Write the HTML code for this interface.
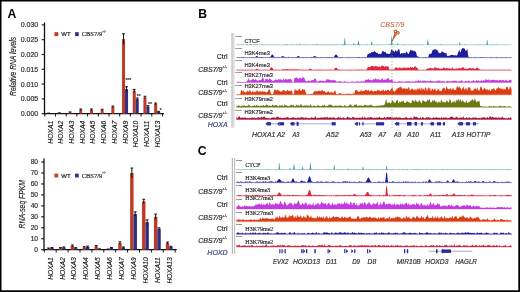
<!DOCTYPE html>
<html><head><meta charset="utf-8"><style>
html,body{margin:0;padding:0;background:#fff;}
body{width:520px;height:292px;overflow:hidden;}
svg{display:block;filter:blur(0.3px);}
</style></head><body>
<svg width="520" height="292" viewBox="0 0 520 292">
<rect width="520" height="292" fill="#fff"/>
<line x1="44.5" y1="22.5" x2="44.5" y2="114.3" stroke="#111" stroke-width="1.3"/>
<line x1="43.9" y1="113.7" x2="164.0" y2="113.7" stroke="#111" stroke-width="1.3"/>
<line x1="41.7" y1="113.7" x2="44.5" y2="113.7" stroke="#111" stroke-width="1.1"/>
<text x="38.2" y="116.22" font-size="7.0" fill="#333" text-anchor="end" font-family='"Liberation Sans", sans-serif' stroke="#333" stroke-width="0.2" >0.000</text>
<line x1="41.7" y1="98.9" x2="44.5" y2="98.9" stroke="#111" stroke-width="1.1"/>
<text x="38.2" y="101.42" font-size="7.0" fill="#333" text-anchor="end" font-family='"Liberation Sans", sans-serif' stroke="#333" stroke-width="0.2" >0.005</text>
<line x1="41.7" y1="84.1" x2="44.5" y2="84.1" stroke="#111" stroke-width="1.1"/>
<text x="38.2" y="86.61999999999999" font-size="7.0" fill="#333" text-anchor="end" font-family='"Liberation Sans", sans-serif' stroke="#333" stroke-width="0.2" >0.010</text>
<line x1="41.7" y1="69.30000000000001" x2="44.5" y2="69.30000000000001" stroke="#111" stroke-width="1.1"/>
<text x="38.2" y="71.82000000000001" font-size="7.0" fill="#333" text-anchor="end" font-family='"Liberation Sans", sans-serif' stroke="#333" stroke-width="0.2" >0.015</text>
<line x1="41.7" y1="54.5" x2="44.5" y2="54.5" stroke="#111" stroke-width="1.1"/>
<text x="38.2" y="57.02" font-size="7.0" fill="#333" text-anchor="end" font-family='"Liberation Sans", sans-serif' stroke="#333" stroke-width="0.2" >0.020</text>
<line x1="41.7" y1="39.7" x2="44.5" y2="39.7" stroke="#111" stroke-width="1.1"/>
<text x="38.2" y="42.220000000000006" font-size="7.0" fill="#333" text-anchor="end" font-family='"Liberation Sans", sans-serif' stroke="#333" stroke-width="0.2" >0.025</text>
<line x1="41.7" y1="24.900000000000006" x2="44.5" y2="24.900000000000006" stroke="#111" stroke-width="1.1"/>
<text x="38.2" y="27.420000000000005" font-size="7.0" fill="#333" text-anchor="end" font-family='"Liberation Sans", sans-serif' stroke="#333" stroke-width="0.2" >0.030</text>
<line x1="44.8" y1="113.7" x2="44.8" y2="116.5" stroke="#111" stroke-width="1"/>
<line x1="55.5" y1="113.7" x2="55.5" y2="116.5" stroke="#111" stroke-width="1"/>
<line x1="66.19999999999999" y1="113.7" x2="66.19999999999999" y2="116.5" stroke="#111" stroke-width="1"/>
<line x1="76.89999999999999" y1="113.7" x2="76.89999999999999" y2="116.5" stroke="#111" stroke-width="1"/>
<line x1="87.6" y1="113.7" x2="87.6" y2="116.5" stroke="#111" stroke-width="1"/>
<line x1="98.3" y1="113.7" x2="98.3" y2="116.5" stroke="#111" stroke-width="1"/>
<line x1="108.99999999999999" y1="113.7" x2="108.99999999999999" y2="116.5" stroke="#111" stroke-width="1"/>
<line x1="119.69999999999999" y1="113.7" x2="119.69999999999999" y2="116.5" stroke="#111" stroke-width="1"/>
<line x1="130.39999999999998" y1="113.7" x2="130.39999999999998" y2="116.5" stroke="#111" stroke-width="1"/>
<line x1="141.1" y1="113.7" x2="141.1" y2="116.5" stroke="#111" stroke-width="1"/>
<line x1="151.8" y1="113.7" x2="151.8" y2="116.5" stroke="#111" stroke-width="1"/>
<line x1="162.5" y1="113.7" x2="162.5" y2="116.5" stroke="#111" stroke-width="1"/>
<rect x="47.15" y="113.40" width="3.0" height="0.30" fill="#bf3a22"/>
<line x1="48.65" y1="113.11" x2="48.65" y2="113.70" stroke="#111" stroke-width="1.0"/>
<line x1="47.25" y1="113.11" x2="50.05" y2="113.11" stroke="#111" stroke-width="1.0"/>
<text transform="translate(52.60,120.6) rotate(-90)" font-size="6.8" fill="#111" stroke="#111" stroke-width="0.12" text-anchor="end" font-family='"Liberation Sans", sans-serif' font-style="italic">HOXA1</text>
<rect x="57.85" y="113.11" width="3.0" height="0.59" fill="#bf3a22"/>
<line x1="59.35" y1="112.81" x2="59.35" y2="113.40" stroke="#111" stroke-width="1.0"/>
<line x1="57.95" y1="112.81" x2="60.75" y2="112.81" stroke="#111" stroke-width="1.0"/>
<rect x="60.85" y="113.40" width="3.0" height="0.30" fill="#2b2f88"/>
<text transform="translate(63.30,120.6) rotate(-90)" font-size="6.8" fill="#111" stroke="#111" stroke-width="0.12" text-anchor="end" font-family='"Liberation Sans", sans-serif' font-style="italic">HOXA2</text>
<rect x="68.55" y="112.52" width="3.0" height="1.18" fill="#bf3a22"/>
<line x1="70.05" y1="111.92" x2="70.05" y2="113.11" stroke="#111" stroke-width="1.0"/>
<line x1="68.65" y1="111.92" x2="71.45" y2="111.92" stroke="#111" stroke-width="1.0"/>
<rect x="71.55" y="113.40" width="3.0" height="0.30" fill="#2b2f88"/>
<text transform="translate(74.00,120.6) rotate(-90)" font-size="6.8" fill="#111" stroke="#111" stroke-width="0.12" text-anchor="end" font-family='"Liberation Sans", sans-serif' font-style="italic">HOXA3</text>
<rect x="79.25" y="109.85" width="3.0" height="3.85" fill="#bf3a22"/>
<line x1="80.75" y1="108.96" x2="80.75" y2="110.74" stroke="#111" stroke-width="1.0"/>
<line x1="79.35" y1="108.96" x2="82.15" y2="108.96" stroke="#111" stroke-width="1.0"/>
<rect x="82.25" y="113.40" width="3.0" height="0.30" fill="#2b2f88"/>
<text transform="translate(84.70,120.6) rotate(-90)" font-size="6.8" fill="#111" stroke="#111" stroke-width="0.12" text-anchor="end" font-family='"Liberation Sans", sans-serif' font-style="italic">HOXA4</text>
<rect x="89.95" y="109.85" width="3.0" height="3.85" fill="#bf3a22"/>
<line x1="91.45" y1="108.96" x2="91.45" y2="110.74" stroke="#111" stroke-width="1.0"/>
<line x1="90.05" y1="108.96" x2="92.85" y2="108.96" stroke="#111" stroke-width="1.0"/>
<rect x="92.95" y="113.40" width="3.0" height="0.30" fill="#2b2f88"/>
<text transform="translate(95.40,120.6) rotate(-90)" font-size="6.8" fill="#111" stroke="#111" stroke-width="0.12" text-anchor="end" font-family='"Liberation Sans", sans-serif' font-style="italic">HOXA5</text>
<rect x="100.65" y="110.15" width="3.0" height="3.55" fill="#bf3a22"/>
<line x1="102.15" y1="109.26" x2="102.15" y2="111.04" stroke="#111" stroke-width="1.0"/>
<line x1="100.75" y1="109.26" x2="103.55" y2="109.26" stroke="#111" stroke-width="1.0"/>
<text transform="translate(106.10,120.6) rotate(-90)" font-size="6.8" fill="#111" stroke="#111" stroke-width="0.12" text-anchor="end" font-family='"Liberation Sans", sans-serif' font-style="italic">HOXA6</text>
<rect x="111.35" y="106.89" width="3.0" height="6.81" fill="#bf3a22"/>
<line x1="112.85" y1="106.00" x2="112.85" y2="107.78" stroke="#111" stroke-width="1.0"/>
<line x1="111.45" y1="106.00" x2="114.25" y2="106.00" stroke="#111" stroke-width="1.0"/>
<rect x="114.35" y="113.11" width="3.0" height="0.59" fill="#2b2f88"/>
<text transform="translate(116.80,120.6) rotate(-90)" font-size="6.8" fill="#111" stroke="#111" stroke-width="0.12" text-anchor="end" font-family='"Liberation Sans", sans-serif' font-style="italic">HOXA7</text>
<rect x="122.05" y="39.11" width="3.0" height="74.59" fill="#bf3a22"/>
<line x1="123.55" y1="33.78" x2="123.55" y2="44.44" stroke="#111" stroke-width="1.0"/>
<line x1="122.15" y1="33.78" x2="124.95" y2="33.78" stroke="#111" stroke-width="1.0"/>
<rect x="125.05" y="89.13" width="3.0" height="24.57" fill="#2b2f88"/>
<line x1="126.55" y1="86.76" x2="126.55" y2="91.50" stroke="#111" stroke-width="1.0"/>
<line x1="125.15" y1="86.76" x2="127.95" y2="86.76" stroke="#111" stroke-width="1.0"/>
<text transform="translate(127.50,120.6) rotate(-90)" font-size="6.8" fill="#111" stroke="#111" stroke-width="0.12" text-anchor="end" font-family='"Liberation Sans", sans-serif' font-style="italic">HOXA9</text>
<rect x="132.75" y="90.91" width="3.0" height="22.79" fill="#bf3a22"/>
<line x1="134.25" y1="89.43" x2="134.25" y2="92.39" stroke="#111" stroke-width="1.0"/>
<line x1="132.85" y1="89.43" x2="135.65" y2="89.43" stroke="#111" stroke-width="1.0"/>
<rect x="135.75" y="99.20" width="3.0" height="14.50" fill="#2b2f88"/>
<line x1="137.25" y1="98.01" x2="137.25" y2="100.38" stroke="#111" stroke-width="1.0"/>
<line x1="135.85" y1="98.01" x2="138.65" y2="98.01" stroke="#111" stroke-width="1.0"/>
<text transform="translate(138.20,120.6) rotate(-90)" font-size="6.8" fill="#111" stroke="#111" stroke-width="0.12" text-anchor="end" font-family='"Liberation Sans", sans-serif' font-style="italic">HOXA10</text>
<rect x="143.45" y="97.42" width="3.0" height="16.28" fill="#bf3a22"/>
<line x1="144.95" y1="96.24" x2="144.95" y2="98.60" stroke="#111" stroke-width="1.0"/>
<line x1="143.55" y1="96.24" x2="146.35" y2="96.24" stroke="#111" stroke-width="1.0"/>
<rect x="146.45" y="106.60" width="3.0" height="7.10" fill="#2b2f88"/>
<line x1="147.95" y1="105.71" x2="147.95" y2="107.48" stroke="#111" stroke-width="1.0"/>
<line x1="146.55" y1="105.71" x2="149.35" y2="105.71" stroke="#111" stroke-width="1.0"/>
<text transform="translate(148.90,120.6) rotate(-90)" font-size="6.8" fill="#111" stroke="#111" stroke-width="0.12" text-anchor="end" font-family='"Liberation Sans", sans-serif' font-style="italic">HOXA11</text>
<rect x="154.15" y="103.93" width="3.0" height="9.77" fill="#bf3a22"/>
<line x1="155.65" y1="103.04" x2="155.65" y2="104.82" stroke="#111" stroke-width="1.0"/>
<line x1="154.25" y1="103.04" x2="157.05" y2="103.04" stroke="#111" stroke-width="1.0"/>
<rect x="157.15" y="111.92" width="3.0" height="1.78" fill="#2b2f88"/>
<line x1="158.65" y1="111.33" x2="158.65" y2="112.52" stroke="#111" stroke-width="1.0"/>
<line x1="157.25" y1="111.33" x2="160.05" y2="111.33" stroke="#111" stroke-width="1.0"/>
<text transform="translate(159.60,120.6) rotate(-90)" font-size="6.8" fill="#111" stroke="#111" stroke-width="0.12" text-anchor="end" font-family='"Liberation Sans", sans-serif' font-style="italic">HOXA13</text>
<text transform="translate(16.3,66.4) rotate(-90)" font-size="8.8" fill="#222" stroke="#222" stroke-width="0.15" text-anchor="middle" font-family='"Liberation Sans", sans-serif' font-style="italic" textLength="59.0" lengthAdjust="spacingAndGlyphs">Relative RNA levels</text>
<rect x="54.4" y="32.2" width="3.9" height="3.9" fill="#bf3a22"/>
<text x="61.3" y="36.1" font-size="6.0" fill="#222" text-anchor="start" font-family='"Liberation Sans", sans-serif' stroke="#222" stroke-width="0.2" >WT</text>
<rect x="75.1" y="32.2" width="3.6" height="3.9" fill="#2b2f88"/>
<text x="81.7" y="36.2" font-size="6.3" fill="#333" text-anchor="start" font-family='"Liberation Serif", serif' stroke="#333" stroke-width="0.2" textLength="20.5" lengthAdjust="spacingAndGlyphs">CBS7/9</text>
<text x="102.0" y="32.6" font-size="3.5" fill="#555" text-anchor="start" font-family='"Liberation Serif", serif' stroke="#555" stroke-width="0.2" >+/-</text>
<text x="125.4" y="81.5" font-size="5.0" fill="#333" text-anchor="start" font-family='"Liberation Sans", sans-serif' stroke="#333" stroke-width="0.2" >***</text>
<text x="136.8" y="97.6" font-size="5.0" fill="#333" text-anchor="start" font-family='"Liberation Sans", sans-serif' stroke="#333" stroke-width="0.2" >**</text>
<text x="148.0" y="105.8" font-size="5.0" fill="#333" text-anchor="start" font-family='"Liberation Sans", sans-serif' stroke="#333" stroke-width="0.2" >**</text>
<text x="159.8" y="112.0" font-size="5.0" fill="#333" text-anchor="start" font-family='"Liberation Sans", sans-serif' stroke="#333" stroke-width="0.2" >*</text>
<line x1="44.0" y1="158.6" x2="44.0" y2="250.29999999999998" stroke="#111" stroke-width="1.3"/>
<line x1="43.4" y1="249.7" x2="176.7" y2="249.7" stroke="#111" stroke-width="1.3"/>
<line x1="41.2" y1="249.7" x2="44.0" y2="249.7" stroke="#111" stroke-width="1.1"/>
<text x="38.0" y="252.076" font-size="6.6" fill="#333" text-anchor="end" font-family='"Liberation Sans", sans-serif' stroke="#333" stroke-width="0.2" >0</text>
<line x1="41.2" y1="238.73999999999998" x2="44.0" y2="238.73999999999998" stroke="#111" stroke-width="1.1"/>
<text x="38.0" y="241.11599999999999" font-size="6.6" fill="#333" text-anchor="end" font-family='"Liberation Sans", sans-serif' stroke="#333" stroke-width="0.2" >10</text>
<line x1="41.2" y1="227.77999999999997" x2="44.0" y2="227.77999999999997" stroke="#111" stroke-width="1.1"/>
<text x="38.0" y="230.15599999999998" font-size="6.6" fill="#333" text-anchor="end" font-family='"Liberation Sans", sans-serif' stroke="#333" stroke-width="0.2" >20</text>
<line x1="41.2" y1="216.82" x2="44.0" y2="216.82" stroke="#111" stroke-width="1.1"/>
<text x="38.0" y="219.196" font-size="6.6" fill="#333" text-anchor="end" font-family='"Liberation Sans", sans-serif' stroke="#333" stroke-width="0.2" >30</text>
<line x1="41.2" y1="205.85999999999999" x2="44.0" y2="205.85999999999999" stroke="#111" stroke-width="1.1"/>
<text x="38.0" y="208.236" font-size="6.6" fill="#333" text-anchor="end" font-family='"Liberation Sans", sans-serif' stroke="#333" stroke-width="0.2" >40</text>
<line x1="41.2" y1="194.89999999999998" x2="44.0" y2="194.89999999999998" stroke="#111" stroke-width="1.1"/>
<text x="38.0" y="197.27599999999998" font-size="6.6" fill="#333" text-anchor="end" font-family='"Liberation Sans", sans-serif' stroke="#333" stroke-width="0.2" >50</text>
<line x1="41.2" y1="183.94" x2="44.0" y2="183.94" stroke="#111" stroke-width="1.1"/>
<text x="38.0" y="186.316" font-size="6.6" fill="#333" text-anchor="end" font-family='"Liberation Sans", sans-serif' stroke="#333" stroke-width="0.2" >60</text>
<line x1="41.2" y1="172.98" x2="44.0" y2="172.98" stroke="#111" stroke-width="1.1"/>
<text x="38.0" y="175.356" font-size="6.6" fill="#333" text-anchor="end" font-family='"Liberation Sans", sans-serif' stroke="#333" stroke-width="0.2" >70</text>
<line x1="41.2" y1="162.01999999999998" x2="44.0" y2="162.01999999999998" stroke="#111" stroke-width="1.1"/>
<text x="38.0" y="164.396" font-size="6.6" fill="#333" text-anchor="end" font-family='"Liberation Sans", sans-serif' stroke="#333" stroke-width="0.2" >80</text>
<line x1="44.3" y1="249.7" x2="44.3" y2="252.5" stroke="#111" stroke-width="1"/>
<line x1="56.199999999999996" y1="249.7" x2="56.199999999999996" y2="252.5" stroke="#111" stroke-width="1"/>
<line x1="68.1" y1="249.7" x2="68.1" y2="252.5" stroke="#111" stroke-width="1"/>
<line x1="80.0" y1="249.7" x2="80.0" y2="252.5" stroke="#111" stroke-width="1"/>
<line x1="91.9" y1="249.7" x2="91.9" y2="252.5" stroke="#111" stroke-width="1"/>
<line x1="103.8" y1="249.7" x2="103.8" y2="252.5" stroke="#111" stroke-width="1"/>
<line x1="115.7" y1="249.7" x2="115.7" y2="252.5" stroke="#111" stroke-width="1"/>
<line x1="127.6" y1="249.7" x2="127.6" y2="252.5" stroke="#111" stroke-width="1"/>
<line x1="139.5" y1="249.7" x2="139.5" y2="252.5" stroke="#111" stroke-width="1"/>
<line x1="151.4" y1="249.7" x2="151.4" y2="252.5" stroke="#111" stroke-width="1"/>
<line x1="163.3" y1="249.7" x2="163.3" y2="252.5" stroke="#111" stroke-width="1"/>
<line x1="175.2" y1="249.7" x2="175.2" y2="252.5" stroke="#111" stroke-width="1"/>
<rect x="46.85" y="248.60" width="3.4" height="1.10" fill="#bf3a22"/>
<line x1="48.55" y1="248.06" x2="48.55" y2="249.15" stroke="#111" stroke-width="1.0"/>
<line x1="47.15" y1="248.06" x2="49.95" y2="248.06" stroke="#111" stroke-width="1.0"/>
<rect x="50.25" y="248.06" width="3.4" height="1.64" fill="#2b2f88"/>
<line x1="51.95" y1="247.51" x2="51.95" y2="248.60" stroke="#111" stroke-width="1.0"/>
<line x1="50.55" y1="247.51" x2="53.35" y2="247.51" stroke="#111" stroke-width="1.0"/>
<text transform="translate(52.66,257.2) rotate(-90)" font-size="6.7" fill="#111" stroke="#111" stroke-width="0.12" text-anchor="end" font-family='"Liberation Sans", sans-serif' font-style="italic">HOXA1</text>
<rect x="58.75" y="248.17" width="3.4" height="1.53" fill="#bf3a22"/>
<line x1="60.45" y1="247.62" x2="60.45" y2="248.71" stroke="#111" stroke-width="1.0"/>
<line x1="59.05" y1="247.62" x2="61.85" y2="247.62" stroke="#111" stroke-width="1.0"/>
<rect x="62.15" y="247.51" width="3.4" height="2.19" fill="#2b2f88"/>
<line x1="63.85" y1="246.96" x2="63.85" y2="248.06" stroke="#111" stroke-width="1.0"/>
<line x1="62.45" y1="246.96" x2="65.25" y2="246.96" stroke="#111" stroke-width="1.0"/>
<text transform="translate(64.56,257.2) rotate(-90)" font-size="6.7" fill="#111" stroke="#111" stroke-width="0.12" text-anchor="end" font-family='"Liberation Sans", sans-serif' font-style="italic">HOXA2</text>
<rect x="70.65" y="245.86" width="3.4" height="3.84" fill="#bf3a22"/>
<line x1="72.35" y1="244.99" x2="72.35" y2="246.74" stroke="#111" stroke-width="1.0"/>
<line x1="70.95" y1="244.99" x2="73.75" y2="244.99" stroke="#111" stroke-width="1.0"/>
<rect x="74.05" y="248.17" width="3.4" height="1.53" fill="#2b2f88"/>
<line x1="75.75" y1="247.62" x2="75.75" y2="248.71" stroke="#111" stroke-width="1.0"/>
<line x1="74.35" y1="247.62" x2="77.15" y2="247.62" stroke="#111" stroke-width="1.0"/>
<text transform="translate(76.46,257.2) rotate(-90)" font-size="6.7" fill="#111" stroke="#111" stroke-width="0.12" text-anchor="end" font-family='"Liberation Sans", sans-serif' font-style="italic">HOXA3</text>
<rect x="82.55" y="247.51" width="3.4" height="2.19" fill="#bf3a22"/>
<line x1="84.25" y1="246.74" x2="84.25" y2="248.28" stroke="#111" stroke-width="1.0"/>
<line x1="82.85" y1="246.74" x2="85.65" y2="246.74" stroke="#111" stroke-width="1.0"/>
<rect x="85.95" y="246.96" width="3.4" height="2.74" fill="#2b2f88"/>
<line x1="87.65" y1="246.08" x2="87.65" y2="247.84" stroke="#111" stroke-width="1.0"/>
<line x1="86.25" y1="246.08" x2="89.05" y2="246.08" stroke="#111" stroke-width="1.0"/>
<text transform="translate(88.36,257.2) rotate(-90)" font-size="6.7" fill="#111" stroke="#111" stroke-width="0.12" text-anchor="end" font-family='"Liberation Sans", sans-serif' font-style="italic">HOXA4</text>
<rect x="94.45" y="246.41" width="3.4" height="3.29" fill="#bf3a22"/>
<line x1="96.15" y1="245.64" x2="96.15" y2="247.18" stroke="#111" stroke-width="1.0"/>
<line x1="94.75" y1="245.64" x2="97.55" y2="245.64" stroke="#111" stroke-width="1.0"/>
<rect x="97.85" y="249.15" width="3.4" height="0.55" fill="#2b2f88"/>
<line x1="99.55" y1="248.82" x2="99.55" y2="249.48" stroke="#111" stroke-width="1.0"/>
<line x1="98.15" y1="248.82" x2="100.95" y2="248.82" stroke="#111" stroke-width="1.0"/>
<text transform="translate(100.26,257.2) rotate(-90)" font-size="6.7" fill="#111" stroke="#111" stroke-width="0.12" text-anchor="end" font-family='"Liberation Sans", sans-serif' font-style="italic">HOXA5</text>
<rect x="106.35" y="249.37" width="3.4" height="0.33" fill="#bf3a22"/>
<line x1="108.05" y1="249.04" x2="108.05" y2="249.70" stroke="#111" stroke-width="1.0"/>
<line x1="106.65" y1="249.04" x2="109.45" y2="249.04" stroke="#111" stroke-width="1.0"/>
<rect x="109.75" y="248.06" width="3.4" height="1.64" fill="#2b2f88"/>
<line x1="111.45" y1="247.51" x2="111.45" y2="248.60" stroke="#111" stroke-width="1.0"/>
<line x1="110.05" y1="247.51" x2="112.85" y2="247.51" stroke="#111" stroke-width="1.0"/>
<text transform="translate(112.16,257.2) rotate(-90)" font-size="6.7" fill="#111" stroke="#111" stroke-width="0.12" text-anchor="end" font-family='"Liberation Sans", sans-serif' font-style="italic">HOXA6</text>
<rect x="118.25" y="243.12" width="3.4" height="6.58" fill="#bf3a22"/>
<line x1="119.95" y1="241.81" x2="119.95" y2="244.44" stroke="#111" stroke-width="1.0"/>
<line x1="118.55" y1="241.81" x2="121.35" y2="241.81" stroke="#111" stroke-width="1.0"/>
<rect x="121.65" y="247.51" width="3.4" height="2.19" fill="#2b2f88"/>
<line x1="123.35" y1="246.96" x2="123.35" y2="248.06" stroke="#111" stroke-width="1.0"/>
<line x1="121.95" y1="246.96" x2="124.75" y2="246.96" stroke="#111" stroke-width="1.0"/>
<text transform="translate(124.06,257.2) rotate(-90)" font-size="6.7" fill="#111" stroke="#111" stroke-width="0.12" text-anchor="end" font-family='"Liberation Sans", sans-serif' font-style="italic">HOXA7</text>
<rect x="130.15" y="172.98" width="3.4" height="76.72" fill="#bf3a22"/>
<line x1="131.85" y1="168.05" x2="131.85" y2="177.91" stroke="#111" stroke-width="1.0"/>
<line x1="130.45" y1="168.05" x2="133.25" y2="168.05" stroke="#111" stroke-width="1.0"/>
<rect x="133.55" y="214.08" width="3.4" height="35.62" fill="#2b2f88"/>
<line x1="135.25" y1="211.89" x2="135.25" y2="216.27" stroke="#111" stroke-width="1.0"/>
<line x1="133.85" y1="211.89" x2="136.65" y2="211.89" stroke="#111" stroke-width="1.0"/>
<text transform="translate(135.96,257.2) rotate(-90)" font-size="6.7" fill="#111" stroke="#111" stroke-width="0.12" text-anchor="end" font-family='"Liberation Sans", sans-serif' font-style="italic">HOXA9</text>
<rect x="142.05" y="201.48" width="3.4" height="48.22" fill="#bf3a22"/>
<line x1="143.75" y1="199.28" x2="143.75" y2="203.67" stroke="#111" stroke-width="1.0"/>
<line x1="142.35" y1="199.28" x2="145.15" y2="199.28" stroke="#111" stroke-width="1.0"/>
<rect x="145.45" y="222.30" width="3.4" height="27.40" fill="#2b2f88"/>
<line x1="147.15" y1="219.89" x2="147.15" y2="224.71" stroke="#111" stroke-width="1.0"/>
<line x1="145.75" y1="219.89" x2="148.55" y2="219.89" stroke="#111" stroke-width="1.0"/>
<text transform="translate(147.86,257.2) rotate(-90)" font-size="6.7" fill="#111" stroke="#111" stroke-width="0.12" text-anchor="end" font-family='"Liberation Sans", sans-serif' font-style="italic">HOXA10</text>
<rect x="153.95" y="216.82" width="3.4" height="32.88" fill="#bf3a22"/>
<line x1="155.65" y1="214.08" x2="155.65" y2="219.56" stroke="#111" stroke-width="1.0"/>
<line x1="154.25" y1="214.08" x2="157.05" y2="214.08" stroke="#111" stroke-width="1.0"/>
<rect x="157.35" y="228.88" width="3.4" height="20.82" fill="#2b2f88"/>
<line x1="159.05" y1="227.78" x2="159.05" y2="229.97" stroke="#111" stroke-width="1.0"/>
<line x1="157.65" y1="227.78" x2="160.45" y2="227.78" stroke="#111" stroke-width="1.0"/>
<text transform="translate(159.76,257.2) rotate(-90)" font-size="6.7" fill="#111" stroke="#111" stroke-width="0.12" text-anchor="end" font-family='"Liberation Sans", sans-serif' font-style="italic">HOXA11</text>
<rect x="165.85" y="243.12" width="3.4" height="6.58" fill="#bf3a22"/>
<line x1="167.55" y1="242.03" x2="167.55" y2="244.22" stroke="#111" stroke-width="1.0"/>
<line x1="166.15" y1="242.03" x2="168.95" y2="242.03" stroke="#111" stroke-width="1.0"/>
<rect x="169.25" y="246.96" width="3.4" height="2.74" fill="#2b2f88"/>
<line x1="170.95" y1="246.30" x2="170.95" y2="247.62" stroke="#111" stroke-width="1.0"/>
<line x1="169.55" y1="246.30" x2="172.35" y2="246.30" stroke="#111" stroke-width="1.0"/>
<text transform="translate(171.66,257.2) rotate(-90)" font-size="6.7" fill="#111" stroke="#111" stroke-width="0.12" text-anchor="end" font-family='"Liberation Sans", sans-serif' font-style="italic">HOXA13</text>
<text transform="translate(24.7,204.2) rotate(-90)" font-size="8.8" fill="#222" stroke="#222" stroke-width="0.15" text-anchor="middle" font-family='"Liberation Sans", sans-serif' font-style="italic" textLength="48.5" lengthAdjust="spacingAndGlyphs">RNA-seq FPKM</text>
<rect x="54.4" y="173.6" width="3.9" height="3.9" fill="#b84830"/>
<text x="61.3" y="177.5" font-size="6.0" fill="#222" text-anchor="start" font-family='"Liberation Sans", sans-serif' stroke="#222" stroke-width="0.2" >WT</text>
<rect x="75.1" y="173.6" width="3.6" height="3.9" fill="#2b2f88"/>
<text x="81.7" y="177.6" font-size="6.3" fill="#333" text-anchor="start" font-family='"Liberation Serif", serif' stroke="#333" stroke-width="0.2" textLength="20.5" lengthAdjust="spacingAndGlyphs">CBS7/9</text>
<text x="102.0" y="174.0" font-size="3.5" fill="#555" text-anchor="start" font-family='"Liberation Serif", serif' stroke="#555" stroke-width="0.2" >+/-</text>
<text x="7.6" y="17.9" font-size="12.2" fill="#000" text-anchor="start" font-family='"Liberation Sans", sans-serif' font-weight="bold" >A</text>
<text x="198.3" y="17.9" font-size="12.2" fill="#000" text-anchor="start" font-family='"Liberation Sans", sans-serif' font-weight="bold" >B</text>
<text x="197.8" y="154.9" font-size="12.2" fill="#000" text-anchor="start" font-family='"Liberation Sans", sans-serif' font-weight="bold" >C</text>
<path d="M236.5,45.0 L236.5,44.44 L237.0,44.57 L237.5,44.64 L238.0,44.65 L238.5,44.51 L239.0,44.38 L239.5,44.65 L240.0,44.81 L240.5,44.74 L241.0,44.55 L241.5,44.65 L242.0,44.65 L242.5,44.51 L243.0,44.60 L243.5,44.60 L244.0,44.68 L244.5,44.69 L245.0,44.68 L245.5,44.68 L246.0,44.62 L246.5,44.44 L247.0,44.57 L247.5,44.58 L248.0,44.70 L248.5,44.78 L249.0,44.65 L249.5,44.37 L250.0,44.35 L250.5,44.36 L251.0,44.32 L251.5,44.50 L252.0,44.73 L252.5,44.79 L253.0,44.73 L253.5,44.68 L254.0,44.67 L254.5,44.59 L255.0,44.36 L255.5,44.40 L256.0,44.66 L256.5,44.71 L257.0,44.57 L257.5,44.67 L258.0,44.69 L258.5,44.66 L259.0,44.75 L259.5,44.77 L260.0,44.78 L260.5,44.71 L261.0,44.63 L261.5,44.61 L262.0,44.49 L262.5,44.60 L263.0,44.61 L263.5,44.64 L264.0,44.44 L264.5,44.45 L265.0,44.57 L265.5,44.64 L266.0,44.65 L266.5,44.65 L267.0,44.61 L267.5,44.56 L268.0,44.64 L268.5,44.72 L269.0,44.67 L269.5,44.54 L270.0,44.45 L270.5,44.68 L271.0,44.72 L271.5,44.66 L272.0,44.58 L272.5,44.52 L273.0,44.64 L273.5,44.65 L274.0,44.51 L274.5,44.66 L275.0,44.76 L275.5,44.62 L276.0,44.51 L276.5,44.64 L277.0,44.77 L277.5,44.73 L278.0,44.65 L278.5,44.57 L279.0,44.69 L279.5,44.58 L280.0,44.41 L280.5,44.63 L281.0,44.74 L281.5,44.71 L282.0,44.70 L282.5,44.71 L283.0,44.69 L283.5,44.60 L284.0,44.39 L284.5,44.41 L285.0,44.60 L285.5,44.57 L286.0,44.47 L286.5,44.32 L287.0,44.39 L287.5,44.46 L288.0,44.67 L288.5,44.74 L289.0,44.78 L289.5,44.72 L290.0,44.63 L290.5,44.51 L291.0,44.62 L291.5,44.64 L292.0,44.54 L292.5,44.50 L293.0,44.66 L293.5,44.69 L294.0,44.68 L294.5,44.70 L295.0,44.72 L295.5,44.68 L296.0,44.69 L296.5,44.62 L297.0,44.47 L297.5,44.60 L298.0,44.50 L298.5,44.66 L299.0,44.73 L299.5,44.28 L300.0,43.50 L300.5,44.28 L301.0,44.72 L301.5,44.72 L302.0,44.75 L302.5,44.74 L303.0,44.63 L303.5,44.45 L304.0,44.47 L304.5,44.53 L305.0,44.40 L305.5,44.59 L306.0,44.65 L306.5,44.54 L307.0,44.55 L307.5,44.60 L308.0,44.66 L308.5,44.69 L309.0,44.71 L309.5,44.71 L310.0,44.67 L310.5,44.53 L311.0,44.62 L311.5,44.69 L312.0,44.69 L312.5,44.60 L313.0,44.47 L313.5,44.54 L314.0,44.64 L314.5,44.45 L315.0,44.43 L315.5,44.54 L316.0,44.48 L316.5,44.51 L317.0,44.62 L317.5,44.43 L318.0,43.80 L318.5,44.43 L319.0,44.74 L319.5,44.72 L320.0,44.68 L320.5,44.66 L321.0,44.52 L321.5,44.34 L322.0,44.51 L322.5,44.74 L323.0,44.78 L323.5,44.68 L324.0,44.60 L324.5,44.48 L325.0,44.54 L325.5,44.73 L326.0,44.66 L326.5,44.46 L327.0,44.57 L327.5,44.60 L328.0,44.61 L328.5,44.69 L329.0,44.57 L329.5,44.44 L330.0,44.39 L330.5,44.64 L331.0,44.70 L331.5,44.54 L332.0,44.47 L332.5,44.62 L333.0,44.73 L333.5,44.74 L334.0,44.67 L334.5,44.48 L335.0,44.38 L335.5,44.59 L336.0,44.62 L336.5,44.59 L337.0,44.62 L337.5,44.61 L338.0,44.51 L338.5,44.72 L339.0,44.78 L339.5,44.72 L340.0,44.67 L340.5,44.67 L341.0,44.48 L341.5,44.50 L342.0,44.62 L342.5,44.46 L343.0,44.32 L343.5,44.48 L344.0,44.12 L344.5,38.00 L345.0,38.79 L345.5,44.56 L346.0,44.57 L346.5,44.59 L347.0,44.69 L347.5,44.73 L348.0,44.60 L348.5,44.46 L349.0,44.57 L349.5,44.46 L350.0,44.62 L350.5,44.74 L351.0,44.65 L351.5,44.49 L352.0,44.53 L352.5,44.64 L353.0,44.62 L353.5,43.00 L354.0,43.23 L354.5,44.55 L355.0,44.61 L355.5,44.58 L356.0,44.57 L356.5,44.66 L357.0,44.59 L357.5,44.57 L358.0,42.61 L358.5,40.00 L359.0,42.61 L359.5,44.60 L360.0,44.66 L360.5,44.59 L361.0,44.66 L361.5,44.75 L362.0,44.65 L362.5,44.56 L363.0,44.70 L363.5,44.76 L364.0,44.77 L364.5,44.70 L365.0,44.77 L365.5,44.77 L366.0,44.64 L366.5,44.37 L367.0,44.36 L367.5,44.64 L368.0,44.70 L368.5,44.71 L369.0,44.70 L369.5,44.72 L370.0,44.69 L370.5,44.75 L371.0,44.71 L371.5,41.45 L372.0,41.00 L372.5,44.47 L373.0,44.63 L373.5,44.69 L374.0,44.61 L374.5,44.56 L375.0,44.69 L375.5,44.65 L376.0,44.56 L376.5,44.67 L377.0,44.64 L377.5,44.62 L378.0,44.44 L378.5,44.62 L379.0,44.75 L379.5,44.73 L380.0,44.68 L380.5,44.71 L381.0,44.74 L381.5,44.77 L382.0,44.73 L382.5,44.63 L383.0,44.70 L383.5,44.66 L384.0,44.68 L384.5,44.71 L385.0,44.69 L385.5,44.48 L386.0,44.57 L386.5,44.69 L387.0,44.65 L387.5,44.41 L388.0,44.58 L388.5,44.75 L389.0,44.67 L389.5,44.49 L390.0,44.52 L390.5,44.62 L391.0,42.07 L391.5,35.00 L392.0,38.23 L392.5,44.60 L393.0,44.63 L393.5,44.62 L394.0,44.44 L394.5,44.59 L395.0,44.65 L395.5,44.48 L396.0,44.51 L396.5,44.71 L397.0,44.75 L397.5,43.23 L398.0,43.00 L398.5,44.54 L399.0,44.65 L399.5,44.70 L400.0,44.73 L400.5,44.74 L401.0,44.74 L401.5,44.64 L402.0,44.61 L402.5,44.59 L403.0,44.49 L403.5,44.46 L404.0,44.62 L404.5,44.60 L405.0,44.44 L405.5,44.53 L406.0,44.62 L406.5,44.67 L407.0,44.74 L407.5,44.74 L408.0,44.73 L408.5,44.66 L409.0,44.43 L409.5,44.58 L410.0,44.61 L410.5,44.69 L411.0,44.69 L411.5,44.69 L412.0,44.74 L412.5,44.72 L413.0,44.76 L413.5,44.66 L414.0,44.43 L414.5,44.63 L415.0,44.69 L415.5,44.58 L416.0,44.41 L416.5,44.66 L417.0,44.64 L417.5,44.48 L418.0,44.62 L418.5,44.73 L419.0,44.77 L419.5,44.68 L420.0,44.48 L420.5,44.44 L421.0,44.64 L421.5,44.59 L422.0,44.42 L422.5,44.62 L423.0,44.78 L423.5,44.80 L424.0,44.79 L424.5,44.77 L425.0,44.71 L425.5,44.72 L426.0,44.70 L426.5,44.71 L427.0,44.67 L427.5,40.60 L428.0,38.50 L428.5,43.10 L429.0,44.56 L429.5,44.65 L430.0,44.67 L430.5,44.61 L431.0,44.51 L431.5,44.71 L432.0,44.77 L432.5,44.76 L433.0,44.70 L433.5,44.71 L434.0,44.76 L434.5,44.68 L435.0,44.58 L435.5,44.67 L436.0,44.59 L436.5,44.72 L437.0,44.68 L437.5,44.39 L438.0,44.42 L438.5,44.48 L439.0,44.71 L439.5,44.72 L440.0,44.59 L440.5,44.57 L441.0,44.36 L441.5,44.35 L442.0,44.63 L442.5,44.70 L443.0,44.65 L443.5,44.62 L444.0,44.58 L444.5,44.73 L445.0,44.77 L445.5,44.74 L446.0,44.62 L446.5,44.67 L447.0,44.76 L447.5,44.69 L448.0,44.49 L448.5,44.64 L449.0,44.66 L449.5,44.49 L450.0,44.69 L450.5,44.76 L451.0,44.73 L451.5,44.77 L452.0,44.78 L452.5,44.74 L453.0,44.76 L453.5,44.69 L454.0,44.55 L454.5,44.50 L455.0,44.72 L455.5,44.73 L456.0,44.54 L456.5,44.56 L457.0,44.54 L457.5,44.48 L458.0,44.70 L458.5,44.76 L459.0,44.74 L459.5,42.34 L460.0,42.00 L460.5,44.62 L461.0,44.67 L461.5,44.62 L462.0,44.75 L462.5,44.80 L463.0,44.76 L463.5,44.74 L464.0,44.70 L464.5,44.66 L465.0,44.37 L465.5,44.34 L466.0,44.58 L466.5,44.72 L467.0,44.70 L467.5,44.69 L468.0,44.71 L468.5,44.70 L469.0,44.77 L469.5,44.74 L470.0,44.64 L470.5,44.65 L471.0,44.70 L471.5,44.71 L472.0,44.62 L472.5,44.64 L473.0,44.63 L473.5,44.59 L474.0,44.69 L474.5,44.75 L475.0,44.80 L475.5,44.80 L476.0,44.66 L476.5,44.49 L477.0,44.61 L477.5,44.63 L478.0,44.66 L478.5,44.53 L479.0,44.57 L479.5,44.52 L480.0,44.64 L480.5,44.62 L481.0,44.43 L481.5,44.56 L482.0,44.70 L482.5,44.69 L483.0,44.60 L483.5,44.42 L484.0,44.68 L484.5,44.69 L485.0,44.51 L485.5,44.60 L486.0,44.63 L486.5,44.31 L487.0,39.50 L487.5,40.12 L488.0,44.76 L488.5,44.70 L489.0,44.72 L489.5,44.77 L490.0,44.77 L490.5,44.68 L491.0,44.47 L491.5,44.49 L492.0,44.65 L492.5,44.61 L493.0,44.36 L493.5,44.51 L494.0,44.75 L494.5,44.79 L495.0,44.64 L495.5,44.39 L496.0,44.46 L496.5,44.60 L497.0,44.48 L497.5,44.42 L498.0,44.65 L498.5,44.71 L499.0,44.75 L499.5,44.73 L500.0,44.71 L500.5,44.70 L501.0,44.72 L501.5,44.66 L502.0,44.76 L502.5,44.78 L503.0,44.75 L503.5,44.70 L504.0,44.60 L504.5,44.67 L505.0,44.68 L505.5,44.70 L506.0,44.62 L506.5,44.43 L507.0,44.63 L507.5,44.66 L508.0,44.64 L508.5,44.70 L509.0,44.70 L509.5,44.70 L510.0,44.66 L510.5,44.65 L511.0,44.64 L511.5,44.65 L511.5,45.0 Z" fill="#3aa6a0"/>
<line x1="236.5" y1="45.1" x2="511.5" y2="45.1" stroke="#9cc" stroke-width="0.7" stroke-dasharray="1.2,0.8" opacity="0.8"/>
<path d="M236.5,57.6 L236.5,57.21 L237.0,57.24 L237.5,57.16 L238.0,57.18 L238.5,57.23 L239.0,57.16 L239.5,57.25 L240.0,57.25 L240.5,57.15 L241.0,57.01 L241.5,57.21 L242.0,57.25 L242.5,57.15 L243.0,57.12 L243.5,57.09 L244.0,56.94 L244.5,57.02 L245.0,57.15 L245.5,57.26 L246.0,57.24 L246.5,57.25 L247.0,57.22 L247.5,57.21 L248.0,57.21 L248.5,57.27 L249.0,57.22 L249.5,57.18 L250.0,57.03 L250.5,57.13 L251.0,57.01 L251.5,57.08 L252.0,57.13 L252.5,56.95 L253.0,56.98 L253.5,57.03 L254.0,57.13 L254.5,57.17 L255.0,57.13 L255.5,56.90 L256.0,56.31 L256.5,56.00 L257.0,56.00 L257.5,56.19 L258.0,56.79 L258.5,56.91 L259.0,57.01 L259.5,57.05 L260.0,57.13 L260.5,57.11 L261.0,57.04 L261.5,57.07 L262.0,57.06 L262.5,56.99 L263.0,57.09 L263.5,57.15 L264.0,57.22 L264.5,57.23 L265.0,57.11 L265.5,57.00 L266.0,57.16 L266.5,57.21 L267.0,57.20 L267.5,57.14 L268.0,57.22 L268.5,57.22 L269.0,57.16 L269.5,57.12 L270.0,57.03 L270.5,56.83 L271.0,55.92 L271.5,54.93 L272.0,54.40 L272.5,54.40 L273.0,54.72 L273.5,55.73 L274.0,56.66 L274.5,57.01 L275.0,57.11 L275.5,57.11 L276.0,57.19 L276.5,57.23 L277.0,57.16 L277.5,56.97 L278.0,57.01 L278.5,57.08 L279.0,57.11 L279.5,57.09 L280.0,57.13 L280.5,57.26 L281.0,57.15 L281.5,56.72 L282.0,56.25 L282.5,56.10 L283.0,56.10 L283.5,56.35 L284.0,56.81 L284.5,57.02 L285.0,57.06 L285.5,57.07 L286.0,57.07 L286.5,57.13 L287.0,57.28 L287.5,57.25 L288.0,56.94 L288.5,56.86 L289.0,56.94 L289.5,57.09 L290.0,57.20 L290.5,57.19 L291.0,57.08 L291.5,57.06 L292.0,57.11 L292.5,57.20 L293.0,57.08 L293.5,57.00 L294.0,57.05 L294.5,57.15 L295.0,57.13 L295.5,56.98 L296.0,57.08 L296.5,57.11 L297.0,56.69 L297.5,56.24 L298.0,56.00 L298.5,56.00 L299.0,56.14 L299.5,56.60 L300.0,57.03 L300.5,57.20 L301.0,57.19 L301.5,56.97 L302.0,57.10 L302.5,57.22 L303.0,57.12 L303.5,56.99 L304.0,57.12 L304.5,57.14 L305.0,57.12 L305.5,57.13 L306.0,57.12 L306.5,56.99 L307.0,56.91 L307.5,57.03 L308.0,57.19 L308.5,57.25 L309.0,57.30 L309.5,57.22 L310.0,56.98 L310.5,56.98 L311.0,57.03 L311.5,56.98 L312.0,56.99 L312.5,57.02 L313.0,57.03 L313.5,56.60 L314.0,56.14 L314.5,56.00 L315.0,56.00 L315.5,56.24 L316.0,56.69 L316.5,57.04 L317.0,56.90 L317.5,57.00 L318.0,57.07 L318.5,57.14 L319.0,57.15 L319.5,57.03 L320.0,57.17 L320.5,57.05 L321.0,56.92 L321.5,57.08 L322.0,57.12 L322.5,57.11 L323.0,57.22 L323.5,57.24 L324.0,57.24 L324.5,57.15 L325.0,56.93 L325.5,57.00 L326.0,57.17 L326.5,57.15 L327.0,57.12 L327.5,57.08 L328.0,57.09 L328.5,57.06 L329.0,57.06 L329.5,57.09 L330.0,57.20 L330.5,57.24 L331.0,57.12 L331.5,57.04 L332.0,57.01 L332.5,57.12 L333.0,57.21 L333.5,57.19 L334.0,56.78 L334.5,56.08 L335.0,55.32 L335.5,54.60 L336.0,54.60 L336.5,54.60 L337.0,55.32 L337.5,56.08 L338.0,56.78 L338.5,56.97 L339.0,57.15 L339.5,57.22 L340.0,57.08 L340.5,56.96 L341.0,57.09 L341.5,57.22 L342.0,57.04 L342.5,57.04 L343.0,57.26 L343.5,57.24 L344.0,57.16 L344.5,57.23 L345.0,57.18 L345.5,57.16 L346.0,57.08 L346.5,57.19 L347.0,57.17 L347.5,57.08 L348.0,56.96 L348.5,57.00 L349.0,57.02 L349.5,57.21 L350.0,57.29 L350.5,57.15 L351.0,57.10 L351.5,57.16 L352.0,57.24 L352.5,57.13 L353.0,57.07 L353.5,57.07 L354.0,57.18 L354.5,57.17 L355.0,57.17 L355.5,57.12 L356.0,57.22 L356.5,57.23 L357.0,57.01 L357.5,57.00 L358.0,57.08 L358.5,57.10 L359.0,57.12 L359.5,57.00 L360.0,57.09 L360.5,57.16 L361.0,57.25 L361.5,57.24 L362.0,57.20 L362.5,57.09 L363.0,57.00 L363.5,57.22 L364.0,57.22 L364.5,56.91 L365.0,56.87 L365.5,57.07 L366.0,57.17 L366.5,57.15 L367.0,56.41 L367.5,54.46 L368.0,54.00 L368.5,54.28 L369.0,53.67 L369.5,52.93 L370.0,53.18 L370.5,53.52 L371.0,52.76 L371.5,51.88 L372.0,51.88 L372.5,52.33 L373.0,51.90 L373.5,51.93 L374.0,51.62 L374.5,51.07 L375.0,51.49 L375.5,51.70 L376.0,52.69 L376.5,53.09 L377.0,52.48 L377.5,52.51 L378.0,53.71 L378.5,54.20 L379.0,53.94 L379.5,53.87 L380.0,53.98 L380.5,54.07 L381.0,54.22 L381.5,53.52 L382.0,51.38 L382.5,51.32 L383.0,51.11 L383.5,51.40 L384.0,51.63 L384.5,52.34 L385.0,51.74 L385.5,51.53 L386.0,53.02 L386.5,53.63 L387.0,53.45 L387.5,53.39 L388.0,54.05 L388.5,54.07 L389.0,53.52 L389.5,53.97 L390.0,54.09 L390.5,52.48 L391.0,50.29 L391.5,49.45 L392.0,48.90 L392.5,50.47 L393.0,51.08 L393.5,50.93 L394.0,51.47 L394.5,52.26 L395.0,51.56 L395.5,50.32 L396.0,50.17 L396.5,51.46 L397.0,51.45 L397.5,50.71 L398.0,50.10 L398.5,49.57 L399.0,48.83 L399.5,49.93 L400.0,53.30 L400.5,54.29 L401.0,53.78 L401.5,53.07 L402.0,53.37 L402.5,53.44 L403.0,53.21 L403.5,53.27 L404.0,52.71 L404.5,53.00 L405.0,53.67 L405.5,53.11 L406.0,52.14 L406.5,51.52 L407.0,52.16 L407.5,52.81 L408.0,53.91 L408.5,53.96 L409.0,53.19 L409.5,52.29 L410.0,50.73 L410.5,49.96 L411.0,49.82 L411.5,50.60 L412.0,50.87 L412.5,50.45 L413.0,50.59 L413.5,51.00 L414.0,51.31 L414.5,50.43 L415.0,51.84 L415.5,51.54 L416.0,51.76 L416.5,54.25 L417.0,56.02 L417.5,56.42 L418.0,56.43 L418.5,56.64 L419.0,57.02 L419.5,57.12 L420.0,57.14 L420.5,57.14 L421.0,57.16 L421.5,57.11 L422.0,57.13 L422.5,57.23 L423.0,57.15 L423.5,56.95 L424.0,57.03 L424.5,57.09 L425.0,57.07 L425.5,56.96 L426.0,57.03 L426.5,57.11 L427.0,57.22 L427.5,57.17 L428.0,57.00 L428.5,56.44 L429.0,54.57 L429.5,53.77 L430.0,54.13 L430.5,53.65 L431.0,53.63 L431.5,53.61 L432.0,51.76 L432.5,50.14 L433.0,49.67 L433.5,49.49 L434.0,50.61 L434.5,49.10 L435.0,49.10 L435.5,49.10 L436.0,50.61 L436.5,49.56 L437.0,49.39 L437.5,50.40 L438.0,51.32 L438.5,52.26 L439.0,53.14 L439.5,53.04 L440.0,53.15 L440.5,53.33 L441.0,53.10 L441.5,51.56 L442.0,51.49 L442.5,51.77 L443.0,51.60 L443.5,52.24 L444.0,52.70 L444.5,52.76 L445.0,53.18 L445.5,53.20 L446.0,52.51 L446.5,53.46 L447.0,55.67 L447.5,56.09 L448.0,55.80 L448.5,55.74 L449.0,55.94 L449.5,55.97 L450.0,55.33 L450.5,55.10 L451.0,55.14 L451.5,54.85 L452.0,55.06 L452.5,55.02 L453.0,54.72 L453.5,55.23 L454.0,55.63 L454.5,55.07 L455.0,55.15 L455.5,55.24 L456.0,55.52 L456.5,55.56 L457.0,55.48 L457.5,54.59 L458.0,52.60 L458.5,51.77 L459.0,50.41 L459.5,49.82 L460.0,51.76 L460.5,52.71 L461.0,51.49 L461.5,48.89 L462.0,48.93 L462.5,48.10 L463.0,48.10 L463.5,48.10 L464.0,48.92 L464.5,48.30 L465.0,48.98 L465.5,50.96 L466.0,50.75 L466.5,50.62 L467.0,48.92 L467.5,49.87 L468.0,55.35 L468.5,56.98 L469.0,56.82 L469.5,56.92 L470.0,57.16 L470.5,57.05 L471.0,57.05 L471.5,57.14 L472.0,57.21 L472.5,57.26 L473.0,57.15 L473.5,57.21 L474.0,57.20 L474.5,57.00 L475.0,57.09 L475.5,57.08 L476.0,57.16 L476.5,57.26 L477.0,57.29 L477.5,57.25 L478.0,57.14 L478.5,57.09 L479.0,57.22 L479.5,57.22 L480.0,57.10 L480.5,57.11 L481.0,57.05 L481.5,57.06 L482.0,57.08 L482.5,57.08 L483.0,57.16 L483.5,57.27 L484.0,57.28 L484.5,57.16 L485.0,56.98 L485.5,57.13 L486.0,57.24 L486.5,57.21 L487.0,57.08 L487.5,57.23 L488.0,57.21 L488.5,57.17 L489.0,57.18 L489.5,57.25 L490.0,57.18 L490.5,57.13 L491.0,57.00 L491.5,56.94 L492.0,57.09 L492.5,57.25 L493.0,57.18 L493.5,57.21 L494.0,57.27 L494.5,57.25 L495.0,57.18 L495.5,57.19 L496.0,57.04 L496.5,57.04 L497.0,57.11 L497.5,57.11 L498.0,57.24 L498.5,57.29 L499.0,57.25 L499.5,57.14 L500.0,57.16 L500.5,57.19 L501.0,57.03 L501.5,57.02 L502.0,57.03 L502.5,57.20 L503.0,57.23 L503.5,57.22 L504.0,57.14 L504.5,57.19 L505.0,57.25 L505.5,57.15 L506.0,57.11 L506.5,57.08 L507.0,57.08 L507.5,57.16 L508.0,57.27 L508.5,57.23 L509.0,57.23 L509.5,57.22 L510.0,57.07 L510.5,57.13 L511.0,57.18 L511.5,57.18 L511.5,57.6 Z" fill="#1c1c9c"/>
<line x1="236.5" y1="57.7" x2="511.5" y2="57.7" stroke="#1c1c9c" stroke-width="0.7" stroke-dasharray="1.2,0.8" opacity="0.8"/>
<path d="M236.5,70.2 L236.5,69.71 L237.0,69.70 L237.5,69.75 L238.0,69.81 L238.5,69.70 L239.0,69.70 L239.5,69.64 L240.0,69.65 L240.5,69.66 L241.0,69.69 L241.5,69.77 L242.0,69.73 L242.5,69.54 L243.0,69.66 L243.5,69.84 L244.0,69.87 L244.5,69.83 L245.0,69.84 L245.5,69.86 L246.0,69.79 L246.5,69.69 L247.0,69.67 L247.5,69.67 L248.0,69.62 L248.5,69.66 L249.0,69.70 L249.5,69.74 L250.0,69.75 L250.5,69.76 L251.0,69.77 L251.5,69.85 L252.0,69.82 L252.5,69.79 L253.0,69.84 L253.5,69.90 L254.0,69.87 L254.5,69.86 L255.0,69.76 L255.5,69.55 L256.0,68.99 L256.5,68.70 L257.0,68.70 L257.5,68.88 L258.0,69.44 L258.5,69.85 L259.0,69.74 L259.5,69.73 L260.0,69.81 L260.5,69.86 L261.0,69.86 L261.5,69.77 L262.0,69.75 L262.5,69.63 L263.0,69.68 L263.5,69.81 L264.0,69.70 L264.5,69.67 L265.0,69.83 L265.5,69.79 L266.0,69.61 L266.5,69.69 L267.0,69.64 L267.5,69.68 L268.0,69.78 L268.5,69.86 L269.0,69.88 L269.5,69.74 L270.0,68.98 L270.5,68.08 L271.0,67.20 L271.5,67.20 L272.0,67.20 L272.5,68.08 L273.0,68.98 L273.5,69.55 L274.0,69.65 L274.5,69.74 L275.0,69.73 L275.5,69.77 L276.0,69.73 L276.5,69.80 L277.0,69.83 L277.5,69.79 L278.0,69.71 L278.5,69.69 L279.0,69.77 L279.5,69.64 L280.0,69.76 L280.5,69.85 L281.0,69.82 L281.5,69.75 L282.0,69.64 L282.5,69.45 L283.0,69.28 L283.5,69.25 L284.0,69.22 L284.5,69.33 L285.0,69.45 L285.5,69.41 L286.0,69.09 L286.5,69.25 L287.0,69.03 L287.5,69.05 L288.0,69.46 L288.5,69.49 L289.0,69.33 L289.5,69.47 L290.0,69.54 L290.5,69.52 L291.0,69.24 L291.5,69.05 L292.0,69.43 L292.5,69.53 L293.0,69.48 L293.5,69.24 L294.0,69.43 L294.5,69.50 L295.0,69.32 L295.5,69.23 L296.0,69.43 L296.5,69.51 L297.0,69.36 L297.5,69.27 L298.0,69.47 L298.5,69.52 L299.0,69.52 L299.5,69.60 L300.0,69.69 L300.5,69.75 L301.0,69.79 L301.5,69.75 L302.0,69.55 L302.5,69.55 L303.0,69.72 L303.5,69.68 L304.0,69.57 L304.5,69.65 L305.0,69.71 L305.5,69.76 L306.0,69.73 L306.5,69.72 L307.0,69.69 L307.5,69.78 L308.0,69.87 L308.5,69.81 L309.0,69.43 L309.5,69.01 L310.0,68.70 L310.5,68.70 L311.0,68.74 L311.5,69.18 L312.0,69.59 L312.5,69.77 L313.0,69.80 L313.5,69.77 L314.0,69.74 L314.5,69.78 L315.0,69.79 L315.5,69.80 L316.0,69.80 L316.5,69.74 L317.0,69.69 L317.5,69.64 L318.0,69.55 L318.5,69.59 L319.0,69.74 L319.5,69.71 L320.0,69.58 L320.5,69.58 L321.0,69.72 L321.5,69.75 L322.0,69.70 L322.5,69.78 L323.0,69.80 L323.5,69.81 L324.0,69.77 L324.5,69.76 L325.0,69.74 L325.5,69.68 L326.0,69.63 L326.5,69.63 L327.0,69.78 L327.5,69.69 L328.0,69.64 L328.5,69.72 L329.0,69.66 L329.5,69.61 L330.0,69.63 L330.5,69.56 L331.0,69.61 L331.5,69.64 L332.0,69.76 L332.5,69.74 L333.0,69.68 L333.5,69.83 L334.0,69.67 L334.5,69.05 L335.0,68.36 L335.5,67.70 L336.0,67.70 L336.5,67.70 L337.0,68.36 L337.5,69.05 L338.0,69.67 L338.5,69.54 L339.0,69.53 L339.5,69.62 L340.0,69.80 L340.5,69.76 L341.0,69.75 L341.5,69.74 L342.0,69.78 L342.5,69.70 L343.0,69.66 L343.5,69.83 L344.0,69.88 L344.5,69.81 L345.0,69.85 L345.5,69.87 L346.0,69.86 L346.5,69.88 L347.0,69.90 L347.5,69.77 L348.0,69.58 L348.5,69.75 L349.0,69.82 L349.5,69.82 L350.0,69.81 L350.5,69.78 L351.0,69.66 L351.5,69.69 L352.0,69.71 L352.5,69.72 L353.0,69.78 L353.5,69.70 L354.0,69.65 L354.5,69.70 L355.0,69.78 L355.5,69.70 L356.0,69.52 L356.5,69.56 L357.0,69.67 L357.5,69.75 L358.0,69.67 L358.5,69.52 L359.0,69.56 L359.5,69.67 L360.0,69.78 L360.5,69.75 L361.0,69.56 L361.5,69.57 L362.0,69.73 L362.5,69.79 L363.0,69.86 L363.5,69.82 L364.0,69.87 L364.5,69.84 L365.0,69.65 L365.5,69.73 L366.0,69.75 L366.5,69.61 L367.0,69.10 L367.5,67.47 L368.0,67.04 L368.5,67.10 L369.0,67.16 L369.5,66.96 L370.0,66.91 L370.5,66.71 L371.0,66.02 L371.5,65.77 L372.0,66.36 L372.5,66.08 L373.0,66.07 L373.5,66.27 L374.0,66.43 L374.5,66.67 L375.0,66.13 L375.5,65.97 L376.0,65.90 L376.5,66.45 L377.0,65.95 L377.5,66.56 L378.0,67.14 L378.5,66.95 L379.0,66.29 L379.5,66.51 L380.0,66.88 L380.5,67.31 L381.0,66.18 L381.5,65.47 L382.0,65.66 L382.5,65.57 L383.0,66.01 L383.5,65.65 L384.0,66.70 L384.5,67.04 L385.0,66.46 L385.5,66.10 L386.0,66.57 L386.5,66.56 L387.0,66.50 L387.5,66.77 L388.0,65.53 L388.5,66.23 L389.0,68.88 L389.5,69.69 L390.0,69.66 L390.5,69.71 L391.0,69.48 L391.5,69.42 L392.0,69.48 L392.5,69.53 L393.0,69.43 L393.5,69.60 L394.0,69.65 L394.5,69.02 L395.0,67.55 L395.5,67.49 L396.0,68.07 L396.5,67.35 L397.0,67.08 L397.5,68.13 L398.0,68.60 L398.5,68.29 L399.0,67.32 L399.5,67.43 L400.0,68.19 L400.5,68.09 L401.0,67.36 L401.5,68.21 L402.0,68.41 L402.5,67.91 L403.0,67.50 L403.5,67.69 L404.0,67.64 L404.5,67.84 L405.0,67.58 L405.5,67.17 L406.0,68.19 L406.5,68.31 L407.0,67.78 L407.5,67.57 L408.0,67.87 L408.5,67.36 L409.0,68.15 L409.5,67.91 L410.0,67.53 L410.5,66.90 L411.0,66.86 L411.5,67.79 L412.0,67.61 L412.5,67.00 L413.0,67.25 L413.5,68.17 L414.0,67.59 L414.5,66.20 L415.0,66.20 L415.5,66.20 L416.0,67.59 L416.5,67.57 L417.0,67.47 L417.5,67.91 L418.0,69.39 L418.5,69.75 L419.0,69.65 L419.5,69.74 L420.0,69.86 L420.5,69.88 L421.0,69.91 L421.5,69.90 L422.0,69.76 L422.5,69.67 L423.0,69.68 L423.5,69.83 L424.0,69.75 L424.5,69.68 L425.0,69.68 L425.5,69.71 L426.0,69.78 L426.5,69.37 L427.0,68.39 L427.5,68.53 L428.0,68.78 L428.5,68.38 L429.0,67.92 L429.5,68.19 L430.0,67.84 L430.5,67.82 L431.0,68.33 L431.5,68.53 L432.0,67.98 L432.5,68.16 L433.0,68.80 L433.5,68.82 L434.0,67.99 L434.5,67.20 L435.0,67.20 L435.5,67.20 L436.0,67.99 L436.5,67.81 L437.0,67.79 L437.5,68.51 L438.0,67.85 L438.5,68.00 L439.0,68.70 L439.5,68.66 L440.0,68.10 L440.5,68.66 L441.0,69.09 L441.5,68.86 L442.0,68.76 L442.5,68.42 L443.0,68.36 L443.5,67.70 L444.0,67.52 L444.5,67.70 L445.0,68.36 L445.5,68.81 L446.0,68.57 L446.5,67.95 L447.0,67.82 L447.5,68.21 L448.0,68.51 L448.5,68.47 L449.0,68.29 L449.5,68.05 L450.0,68.68 L450.5,68.69 L451.0,68.73 L451.5,68.45 L452.0,67.56 L452.5,67.57 L453.0,68.52 L453.5,69.16 L454.0,69.18 L454.5,68.56 L455.0,68.47 L455.5,68.93 L456.0,68.83 L456.5,68.49 L457.0,68.18 L457.5,68.57 L458.0,68.93 L458.5,68.31 L459.0,67.67 L459.5,67.75 L460.0,68.63 L460.5,68.54 L461.0,67.79 L461.5,67.75 L462.0,67.99 L462.5,67.20 L463.0,67.20 L463.5,67.20 L464.0,67.99 L464.5,68.82 L465.0,68.87 L465.5,68.78 L466.0,68.44 L466.5,68.66 L467.0,68.73 L467.5,68.92 L468.0,68.96 L468.5,68.38 L469.0,68.29 L469.5,67.97 L470.0,67.83 L470.5,67.86 L471.0,68.47 L471.5,68.17 L472.0,68.71 L472.5,68.54 L473.0,67.80 L473.5,68.33 L474.0,68.41 L474.5,68.69 L475.0,69.15 L475.5,68.89 L476.0,68.06 L476.5,67.79 L477.0,67.75 L477.5,67.51 L478.0,68.01 L478.5,68.85 L479.0,68.84 L479.5,69.36 L480.0,69.65 L480.5,69.61 L481.0,69.72 L481.5,69.81 L482.0,69.84 L482.5,69.86 L483.0,69.73 L483.5,69.69 L484.0,69.82 L484.5,69.74 L485.0,69.78 L485.5,69.87 L486.0,69.84 L486.5,69.90 L487.0,69.85 L487.5,69.69 L488.0,69.78 L488.5,69.86 L489.0,69.83 L489.5,69.72 L490.0,69.73 L490.5,69.84 L491.0,69.74 L491.5,69.63 L492.0,69.71 L492.5,69.75 L493.0,69.66 L493.5,69.75 L494.0,69.74 L494.5,69.73 L495.0,69.71 L495.5,69.70 L496.0,69.79 L496.5,69.87 L497.0,69.82 L497.5,69.79 L498.0,69.85 L498.5,69.76 L499.0,69.78 L499.5,69.80 L500.0,69.70 L500.5,69.69 L501.0,69.71 L501.5,69.66 L502.0,69.64 L502.5,69.64 L503.0,69.72 L503.5,69.72 L504.0,69.66 L504.5,69.57 L505.0,69.67 L505.5,69.69 L506.0,69.66 L506.5,69.71 L507.0,69.78 L507.5,69.85 L508.0,69.79 L508.5,69.62 L509.0,69.66 L509.5,69.77 L510.0,69.73 L510.5,69.80 L511.0,69.89 L511.5,69.90 L511.5,70.2 Z" fill="#e0283e"/>
<line x1="236.5" y1="70.3" x2="511.5" y2="70.3" stroke="#e0283e" stroke-width="0.7" stroke-dasharray="1.2,0.8" opacity="0.8"/>
<path d="M236.5,82.5 L236.5,81.88 L237.0,81.95 L237.5,81.95 L238.0,81.73 L238.5,81.58 L239.0,81.71 L239.5,81.91 L240.0,81.98 L240.5,82.11 L241.0,82.04 L241.5,81.94 L242.0,81.98 L242.5,82.03 L243.0,82.02 L243.5,82.09 L244.0,82.04 L244.5,82.03 L245.0,82.11 L245.5,82.08 L246.0,82.02 L246.5,81.72 L247.0,81.03 L247.5,80.51 L248.0,79.27 L248.5,78.02 L249.0,79.42 L249.5,80.46 L250.0,80.42 L250.5,80.52 L251.0,79.86 L251.5,80.27 L252.0,80.35 L252.5,78.87 L253.0,79.10 L253.5,79.03 L254.0,79.41 L254.5,79.91 L255.0,79.97 L255.5,79.00 L256.0,79.19 L256.5,80.00 L257.0,80.81 L257.5,80.69 L258.0,80.20 L258.5,80.53 L259.0,80.52 L259.5,79.74 L260.0,80.33 L260.5,80.35 L261.0,80.05 L261.5,79.92 L262.0,78.05 L262.5,77.30 L263.0,77.65 L263.5,78.15 L264.0,80.12 L264.5,80.97 L265.0,80.75 L265.5,79.49 L266.0,77.95 L266.5,78.99 L267.0,79.58 L267.5,78.46 L268.0,79.76 L268.5,80.09 L269.0,78.83 L269.5,78.86 L270.0,78.34 L270.5,79.13 L271.0,79.59 L271.5,80.36 L272.0,80.32 L272.5,80.74 L273.0,80.98 L273.5,81.06 L274.0,80.63 L274.5,79.86 L275.0,80.12 L275.5,79.30 L276.0,79.23 L276.5,79.88 L277.0,80.29 L277.5,80.24 L278.0,78.94 L278.5,79.19 L279.0,79.44 L279.5,79.75 L280.0,79.36 L280.5,79.75 L281.0,78.64 L281.5,79.70 L282.0,80.52 L282.5,80.43 L283.0,79.61 L283.5,78.23 L284.0,78.73 L284.5,80.25 L285.0,80.37 L285.5,78.95 L286.0,78.64 L286.5,79.22 L287.0,79.28 L287.5,79.86 L288.0,79.11 L288.5,79.60 L289.0,78.75 L289.5,79.49 L290.0,79.19 L290.5,78.47 L291.0,79.55 L291.5,79.79 L292.0,80.90 L292.5,81.98 L293.0,82.17 L293.5,82.18 L294.0,80.87 L294.5,77.54 L295.0,78.26 L295.5,78.18 L296.0,76.77 L296.5,77.56 L297.0,77.85 L297.5,78.58 L298.0,78.55 L298.5,78.72 L299.0,78.69 L299.5,77.63 L300.0,77.52 L300.5,78.12 L301.0,78.43 L301.5,78.47 L302.0,78.56 L302.5,77.52 L303.0,76.23 L303.5,77.44 L304.0,78.29 L304.5,77.87 L305.0,80.25 L305.5,80.85 L306.0,81.33 L306.5,81.43 L307.0,81.30 L307.5,80.97 L308.0,81.02 L308.5,80.85 L309.0,80.32 L309.5,80.93 L310.0,80.97 L310.5,81.42 L311.0,81.06 L311.5,80.03 L312.0,79.85 L312.5,79.92 L313.0,80.35 L313.5,80.65 L314.0,79.55 L314.5,78.50 L315.0,78.50 L315.5,78.50 L316.0,79.55 L316.5,80.65 L317.0,81.42 L317.5,81.77 L318.0,81.69 L318.5,81.35 L319.0,80.76 L319.5,80.93 L320.0,80.19 L320.5,80.38 L321.0,80.64 L321.5,81.17 L322.0,81.35 L322.5,80.86 L323.0,80.34 L323.5,81.15 L324.0,81.33 L324.5,81.45 L325.0,80.94 L325.5,80.78 L326.0,80.40 L326.5,79.58 L327.0,79.14 L327.5,79.22 L328.0,79.50 L328.5,79.39 L329.0,79.28 L329.5,80.07 L330.0,80.31 L330.5,80.10 L331.0,80.10 L331.5,80.20 L332.0,80.43 L332.5,80.22 L333.0,79.75 L333.5,80.22 L334.0,80.28 L334.5,80.14 L335.0,80.17 L335.5,80.35 L336.0,81.31 L336.5,81.56 L337.0,81.72 L337.5,81.75 L338.0,81.86 L338.5,81.75 L339.0,81.12 L339.5,81.18 L340.0,81.36 L340.5,81.11 L341.0,81.64 L341.5,81.79 L342.0,81.66 L342.5,81.86 L343.0,82.00 L343.5,81.75 L344.0,81.13 L344.5,81.09 L345.0,81.64 L345.5,81.57 L346.0,81.65 L346.5,81.57 L347.0,81.88 L347.5,81.96 L348.0,81.74 L348.5,81.24 L349.0,81.63 L349.5,81.77 L350.0,81.90 L350.5,81.98 L351.0,81.93 L351.5,81.54 L352.0,81.12 L352.5,81.65 L353.0,81.69 L353.5,81.21 L354.0,81.68 L354.5,81.91 L355.0,82.00 L355.5,81.98 L356.0,81.80 L356.5,81.17 L357.0,81.13 L357.5,81.69 L358.0,81.61 L358.5,81.30 L359.0,81.64 L359.5,81.61 L360.0,81.74 L360.5,81.71 L361.0,80.98 L361.5,80.92 L362.0,81.54 L362.5,81.96 L363.0,81.74 L363.5,81.24 L364.0,81.60 L364.5,81.06 L365.0,80.22 L365.5,80.09 L366.0,79.65 L366.5,78.96 L367.0,79.65 L367.5,79.99 L368.0,79.86 L368.5,78.60 L369.0,79.74 L369.5,80.00 L370.0,79.49 L370.5,80.01 L371.0,80.35 L371.5,80.56 L372.0,80.21 L372.5,79.90 L373.0,79.71 L373.5,78.62 L374.0,79.41 L374.5,79.68 L375.0,78.44 L375.5,78.31 L376.0,78.90 L376.5,79.32 L377.0,79.48 L377.5,79.56 L378.0,79.10 L378.5,79.22 L379.0,79.51 L379.5,79.69 L380.0,79.82 L380.5,80.27 L381.0,79.96 L381.5,78.64 L382.0,78.61 L382.5,78.30 L383.0,79.55 L383.5,80.29 L384.0,79.76 L384.5,79.55 L385.0,79.50 L385.5,79.73 L386.0,79.92 L386.5,78.96 L387.0,78.86 L387.5,78.01 L388.0,78.77 L388.5,77.93 L389.0,78.79 L389.5,80.15 L390.0,80.16 L390.5,80.00 L391.0,79.86 L391.5,79.51 L392.0,78.90 L392.5,80.12 L393.0,81.50 L393.5,81.76 L394.0,81.62 L394.5,81.38 L395.0,81.68 L395.5,81.78 L396.0,81.81 L396.5,81.78 L397.0,81.84 L397.5,81.93 L398.0,81.64 L398.5,81.12 L399.0,81.40 L399.5,81.07 L400.0,81.32 L400.5,81.74 L401.0,81.57 L401.5,81.28 L402.0,81.43 L402.5,81.41 L403.0,81.47 L403.5,81.79 L404.0,81.80 L404.5,81.75 L405.0,81.72 L405.5,81.49 L406.0,81.32 L406.5,81.34 L407.0,81.27 L407.5,81.40 L408.0,81.62 L408.5,81.36 L409.0,81.40 L409.5,81.04 L410.0,81.56 L410.5,81.78 L411.0,81.62 L411.5,81.56 L412.0,81.37 L412.5,81.48 L413.0,81.54 L413.5,81.42 L414.0,81.64 L414.5,81.61 L415.0,81.52 L415.5,80.97 L416.0,80.46 L416.5,81.18 L417.0,81.55 L417.5,81.18 L418.0,80.15 L418.5,79.96 L419.0,81.12 L419.5,81.28 L420.0,80.62 L420.5,80.71 L421.0,81.47 L421.5,81.68 L422.0,81.20 L422.5,80.44 L423.0,80.80 L423.5,81.02 L424.0,80.17 L424.5,80.69 L425.0,81.23 L425.5,80.68 L426.0,80.60 L426.5,81.37 L427.0,81.46 L427.5,81.31 L428.0,81.05 L428.5,81.22 L429.0,81.21 L429.5,81.27 L430.0,80.91 L430.5,80.46 L431.0,80.78 L431.5,81.23 L432.0,81.10 L432.5,81.33 L433.0,81.12 L433.5,81.41 L434.0,81.38 L434.5,81.49 L435.0,81.55 L435.5,81.43 L436.0,81.06 L436.5,81.44 L437.0,81.27 L437.5,80.62 L438.0,80.50 L438.5,80.75 L439.0,80.87 L439.5,80.72 L440.0,80.73 L440.5,81.23 L441.0,81.29 L441.5,81.55 L442.0,81.34 L442.5,80.76 L443.0,81.36 L443.5,81.41 L444.0,80.99 L444.5,81.32 L445.0,81.65 L445.5,81.64 L446.0,81.65 L446.5,81.35 L447.0,80.90 L447.5,81.10 L448.0,80.81 L448.5,81.33 L449.0,81.59 L449.5,81.42 L450.0,81.12 L450.5,81.50 L451.0,81.47 L451.5,81.06 L452.0,81.15 L452.5,80.82 L453.0,80.65 L453.5,80.82 L454.0,80.70 L454.5,80.96 L455.0,80.49 L455.5,80.94 L456.0,80.82 L456.5,80.59 L457.0,81.31 L457.5,81.67 L458.0,81.63 L458.5,81.18 L459.0,80.80 L459.5,81.26 L460.0,81.41 L460.5,81.15 L461.0,80.24 L461.5,80.13 L462.0,80.39 L462.5,81.26 L463.0,81.63 L463.5,81.64 L464.0,81.62 L464.5,81.60 L465.0,81.23 L465.5,80.93 L466.0,80.93 L466.5,80.55 L467.0,81.28 L467.5,81.68 L468.0,81.36 L468.5,80.41 L469.0,80.58 L469.5,80.93 L470.0,81.26 L470.5,81.64 L471.0,81.53 L471.5,81.09 L472.0,81.39 L472.5,81.03 L473.0,80.39 L473.5,80.15 L474.0,80.41 L474.5,81.37 L475.0,81.62 L475.5,81.38 L476.0,80.67 L476.5,80.04 L477.0,80.57 L477.5,81.09 L478.0,80.44 L478.5,80.18 L479.0,80.79 L479.5,81.47 L480.0,81.21 L480.5,80.71 L481.0,80.49 L481.5,80.39 L482.0,80.57 L482.5,80.91 L483.0,80.66 L483.5,80.17 L484.0,80.12 L484.5,80.75 L485.0,80.50 L485.5,79.33 L486.0,79.27 L486.5,79.54 L487.0,80.26 L487.5,80.06 L488.0,79.59 L488.5,79.23 L489.0,80.26 L489.5,80.41 L490.0,80.49 L490.5,80.15 L491.0,80.11 L491.5,80.09 L492.0,79.30 L492.5,80.22 L493.0,79.95 L493.5,79.82 L494.0,80.17 L494.5,79.56 L495.0,80.09 L495.5,80.59 L496.0,79.77 L496.5,80.26 L497.0,80.57 L497.5,79.96 L498.0,80.42 L498.5,80.56 L499.0,80.57 L499.5,80.16 L500.0,79.85 L500.5,79.76 L501.0,80.02 L501.5,80.57 L502.0,80.25 L502.5,80.14 L503.0,79.96 L503.5,80.08 L504.0,80.52 L504.5,80.90 L505.0,80.82 L505.5,80.27 L506.0,79.53 L506.5,80.31 L507.0,80.60 L507.5,80.91 L508.0,80.94 L508.5,80.79 L509.0,80.56 L509.5,79.87 L510.0,79.54 L510.5,79.97 L511.0,80.29 L511.5,80.08 L511.5,82.5 Z" fill="#c23ae0"/>
<line x1="236.5" y1="82.6" x2="511.5" y2="82.6" stroke="#c23ae0" stroke-width="0.7" stroke-dasharray="1.2,0.8" opacity="0.8"/>
<path d="M236.5,94.8 L236.5,94.35 L237.0,94.39 L237.5,94.24 L238.0,94.24 L238.5,94.27 L239.0,94.16 L239.5,94.17 L240.0,94.35 L240.5,93.40 L241.0,90.48 L241.5,89.71 L242.0,90.16 L242.5,91.80 L243.0,90.97 L243.5,90.60 L244.0,92.09 L244.5,92.02 L245.0,92.46 L245.5,92.64 L246.0,92.33 L246.5,91.82 L247.0,90.94 L247.5,91.20 L248.0,90.53 L248.5,92.08 L249.0,91.82 L249.5,89.97 L250.0,90.15 L250.5,90.89 L251.0,92.14 L251.5,92.69 L252.0,92.34 L252.5,91.33 L253.0,90.82 L253.5,91.99 L254.0,92.53 L254.5,92.15 L255.0,90.90 L255.5,91.96 L256.0,91.92 L256.5,90.65 L257.0,90.25 L257.5,90.52 L258.0,92.00 L258.5,91.82 L259.0,91.20 L259.5,91.80 L260.0,91.20 L260.5,90.95 L261.0,91.69 L261.5,91.89 L262.0,91.15 L262.5,90.68 L263.0,91.85 L263.5,92.11 L264.0,90.99 L264.5,91.77 L265.0,91.64 L265.5,91.82 L266.0,92.60 L266.5,92.54 L267.0,92.14 L267.5,91.92 L268.0,91.23 L268.5,89.89 L269.0,89.52 L269.5,89.49 L270.0,89.75 L270.5,92.18 L271.0,93.61 L271.5,94.05 L272.0,94.18 L272.5,94.12 L273.0,94.01 L273.5,93.10 L274.0,90.68 L274.5,89.62 L275.0,89.59 L275.5,89.88 L276.0,90.70 L276.5,90.51 L277.0,89.52 L277.5,89.67 L278.0,90.49 L278.5,90.62 L279.0,90.24 L279.5,90.82 L280.0,91.17 L280.5,91.80 L281.0,91.47 L281.5,91.13 L282.0,91.66 L282.5,91.10 L283.0,89.46 L283.5,90.08 L284.0,90.55 L284.5,90.33 L285.0,91.17 L285.5,91.49 L286.0,91.09 L286.5,91.30 L287.0,90.58 L287.5,89.61 L288.0,90.56 L288.5,90.99 L289.0,91.04 L289.5,90.41 L290.0,91.45 L290.5,91.43 L291.0,89.92 L291.5,90.58 L292.0,90.95 L292.5,93.43 L293.0,94.35 L293.5,94.35 L294.0,93.45 L294.5,90.17 L295.0,88.36 L295.5,89.75 L296.0,90.63 L296.5,90.17 L297.0,89.47 L297.5,90.81 L298.0,90.90 L298.5,89.81 L299.0,88.64 L299.5,88.68 L300.0,89.16 L300.5,90.67 L301.0,90.85 L301.5,90.78 L302.0,89.74 L302.5,88.46 L303.0,90.03 L303.5,89.51 L304.0,89.13 L304.5,89.57 L305.0,90.79 L305.5,91.19 L306.0,93.22 L306.5,94.27 L307.0,94.31 L307.5,94.32 L308.0,94.36 L308.5,94.23 L309.0,94.11 L309.5,94.24 L310.0,94.17 L310.5,93.98 L311.0,93.76 L311.5,93.86 L312.0,94.21 L312.5,93.98 L313.0,92.93 L313.5,92.57 L314.0,91.86 L314.5,90.64 L315.0,91.19 L315.5,91.24 L316.0,90.79 L316.5,91.54 L317.0,91.12 L317.5,91.70 L318.0,90.64 L318.5,90.90 L319.0,90.58 L319.5,90.44 L320.0,91.25 L320.5,90.53 L321.0,91.42 L321.5,90.73 L322.0,90.07 L322.5,90.08 L323.0,90.72 L323.5,91.51 L324.0,90.74 L324.5,91.26 L325.0,91.64 L325.5,92.24 L326.0,92.45 L326.5,92.51 L327.0,92.34 L327.5,92.08 L328.0,91.14 L328.5,91.19 L329.0,91.93 L329.5,92.41 L330.0,92.64 L330.5,92.28 L331.0,92.22 L331.5,92.27 L332.0,92.25 L332.5,92.69 L333.0,92.71 L333.5,92.64 L334.0,92.10 L334.5,90.63 L335.0,90.45 L335.5,90.95 L336.0,93.41 L336.5,94.19 L337.0,94.04 L337.5,93.66 L338.0,93.83 L338.5,94.09 L339.0,93.62 L339.5,93.23 L340.0,93.17 L340.5,93.06 L341.0,93.25 L341.5,93.57 L342.0,94.20 L342.5,94.36 L343.0,94.08 L343.5,93.55 L344.0,94.00 L344.5,94.15 L345.0,94.02 L345.5,93.59 L346.0,93.89 L346.5,93.99 L347.0,93.54 L347.5,93.96 L348.0,93.89 L348.5,93.23 L349.0,93.52 L349.5,94.11 L350.0,94.10 L350.5,93.78 L351.0,94.02 L351.5,94.01 L352.0,93.45 L352.5,94.01 L353.0,93.98 L353.5,93.29 L354.0,93.37 L354.5,93.47 L355.0,91.51 L355.5,89.78 L356.0,90.30 L356.5,89.51 L357.0,90.13 L357.5,91.18 L358.0,91.65 L358.5,91.84 L359.0,91.69 L359.5,91.38 L360.0,91.74 L360.5,91.08 L361.0,89.37 L361.5,90.60 L362.0,91.47 L362.5,91.15 L363.0,90.97 L363.5,90.72 L364.0,91.02 L364.5,90.80 L365.0,89.72 L365.5,90.35 L366.0,89.86 L366.5,89.86 L367.0,91.11 L367.5,90.80 L368.0,89.55 L368.5,89.84 L369.0,91.09 L369.5,91.38 L370.0,91.12 L370.5,90.91 L371.0,89.55 L371.5,90.42 L372.0,90.79 L372.5,90.83 L373.0,91.74 L373.5,91.85 L374.0,91.10 L374.5,90.66 L375.0,91.06 L375.5,90.88 L376.0,91.09 L376.5,91.18 L377.0,91.12 L377.5,89.62 L378.0,89.18 L378.5,90.67 L379.0,90.36 L379.5,90.27 L380.0,91.24 L380.5,91.07 L381.0,91.10 L381.5,90.58 L382.0,90.57 L382.5,90.55 L383.0,90.10 L383.5,89.26 L384.0,90.67 L384.5,91.51 L385.0,90.71 L385.5,89.54 L386.0,90.77 L386.5,91.01 L387.0,89.99 L387.5,89.66 L388.0,90.36 L388.5,89.86 L389.0,90.28 L389.5,91.45 L390.0,90.98 L390.5,90.02 L391.0,89.28 L391.5,88.47 L392.0,86.96 L392.5,87.68 L393.0,90.59 L393.5,90.99 L394.0,91.32 L394.5,91.74 L395.0,91.47 L395.5,90.43 L396.0,89.89 L396.5,89.62 L397.0,87.58 L397.5,89.04 L398.0,88.30 L398.5,87.97 L399.0,87.98 L399.5,86.81 L400.0,87.43 L400.5,86.39 L401.0,86.08 L401.5,88.22 L402.0,88.62 L402.5,88.70 L403.0,88.17 L403.5,88.58 L404.0,88.49 L404.5,87.67 L405.0,89.47 L405.5,89.04 L406.0,88.22 L406.5,88.29 L407.0,89.55 L407.5,88.76 L408.0,88.60 L408.5,87.33 L409.0,86.92 L409.5,89.57 L410.0,90.65 L410.5,89.58 L411.0,89.94 L411.5,89.32 L412.0,87.73 L412.5,89.09 L413.0,89.10 L413.5,89.96 L414.0,90.31 L414.5,90.02 L415.0,88.21 L415.5,89.79 L416.0,91.03 L416.5,89.94 L417.0,88.63 L417.5,89.13 L418.0,87.49 L418.5,89.43 L419.0,90.01 L419.5,87.92 L420.0,87.19 L420.5,90.12 L421.0,90.46 L421.5,87.71 L422.0,87.42 L422.5,88.94 L423.0,89.90 L423.5,88.22 L424.0,90.15 L424.5,90.47 L425.0,87.79 L425.5,87.68 L426.0,87.35 L426.5,89.45 L427.0,91.09 L427.5,90.11 L428.0,86.93 L428.5,87.39 L429.0,89.52 L429.5,87.96 L430.0,87.26 L430.5,90.49 L431.0,91.33 L431.5,90.28 L432.0,88.16 L432.5,88.80 L433.0,89.33 L433.5,90.19 L434.0,90.34 L434.5,89.29 L435.0,87.32 L435.5,89.88 L436.0,90.81 L436.5,90.91 L437.0,91.07 L437.5,90.08 L438.0,88.45 L438.5,89.66 L439.0,89.11 L439.5,90.72 L440.0,91.24 L440.5,90.66 L441.0,91.14 L441.5,90.94 L442.0,90.35 L442.5,88.43 L443.0,87.70 L443.5,88.53 L444.0,87.68 L444.5,87.70 L445.0,89.79 L445.5,90.17 L446.0,87.64 L446.5,86.77 L447.0,87.29 L447.5,88.74 L448.0,88.47 L448.5,89.72 L449.0,88.83 L449.5,88.64 L450.0,89.68 L450.5,87.72 L451.0,88.01 L451.5,90.08 L452.0,89.96 L452.5,89.11 L453.0,87.20 L453.5,88.70 L454.0,90.10 L454.5,89.38 L455.0,89.68 L455.5,90.07 L456.0,90.09 L456.5,87.58 L457.0,86.28 L457.5,86.57 L458.0,87.82 L458.5,87.70 L459.0,85.86 L459.5,86.64 L460.0,87.83 L460.5,87.54 L461.0,89.42 L461.5,90.17 L462.0,88.90 L462.5,88.46 L463.0,87.29 L463.5,86.73 L464.0,88.33 L464.5,89.89 L465.0,89.50 L465.5,88.68 L466.0,86.97 L466.5,88.77 L467.0,90.66 L467.5,89.79 L468.0,86.82 L468.5,87.26 L469.0,88.14 L469.5,87.49 L470.0,86.99 L470.5,88.95 L471.0,90.81 L471.5,90.87 L472.0,90.15 L472.5,90.73 L473.0,91.01 L473.5,90.23 L474.0,88.56 L474.5,89.00 L475.0,88.53 L475.5,88.86 L476.0,87.56 L476.5,89.89 L477.0,90.01 L477.5,87.41 L478.0,88.86 L478.5,90.73 L479.0,90.33 L479.5,90.38 L480.0,88.97 L480.5,86.55 L481.0,86.83 L481.5,86.76 L482.0,88.65 L482.5,90.19 L483.0,90.11 L483.5,89.12 L484.0,89.51 L484.5,87.60 L485.0,87.89 L485.5,89.02 L486.0,89.64 L486.5,90.09 L487.0,88.57 L487.5,89.17 L488.0,90.42 L488.5,90.26 L489.0,88.45 L489.5,89.82 L490.0,90.54 L490.5,90.92 L491.0,90.85 L491.5,89.20 L492.0,89.06 L492.5,89.13 L493.0,88.25 L493.5,88.92 L494.0,87.57 L494.5,89.73 L495.0,90.29 L495.5,90.28 L496.0,90.40 L496.5,88.55 L497.0,87.63 L497.5,88.90 L498.0,87.37 L498.5,86.81 L499.0,88.48 L499.5,87.75 L500.0,88.43 L500.5,88.88 L501.0,87.76 L501.5,89.10 L502.0,88.77 L502.5,89.44 L503.0,87.78 L503.5,89.71 L504.0,89.83 L504.5,88.48 L505.0,89.75 L505.5,89.68 L506.0,87.76 L506.5,86.63 L507.0,86.93 L507.5,87.04 L508.0,87.95 L508.5,89.80 L509.0,89.79 L509.5,88.12 L510.0,87.04 L510.5,86.25 L511.0,87.82 L511.5,89.44 L511.5,94.8 Z" fill="#dc3c12"/>
<line x1="236.5" y1="94.89999999999999" x2="511.5" y2="94.89999999999999" stroke="#dc3c12" stroke-width="0.7" stroke-dasharray="1.2,0.8" opacity="0.8"/>
<path d="M236.5,107.3 L236.5,105.82 L237.0,105.76 L237.5,106.26 L238.0,106.18 L238.5,105.12 L239.0,104.90 L239.5,106.00 L240.0,106.33 L240.5,106.33 L241.0,106.19 L241.5,105.82 L242.0,105.20 L242.5,105.93 L243.0,105.92 L243.5,105.40 L244.0,105.45 L244.5,105.22 L245.0,105.78 L245.5,106.24 L246.0,106.05 L246.5,105.89 L247.0,105.35 L247.5,106.04 L248.0,106.05 L248.5,104.60 L249.0,104.34 L249.5,105.46 L250.0,106.34 L250.5,106.44 L251.0,106.37 L251.5,106.17 L252.0,106.28 L252.5,106.00 L253.0,106.10 L253.5,105.83 L254.0,105.19 L254.5,105.66 L255.0,105.28 L255.5,105.89 L256.0,105.83 L256.5,104.76 L257.0,105.42 L257.5,105.79 L258.0,105.78 L258.5,105.85 L259.0,105.55 L259.5,106.13 L260.0,106.04 L260.5,105.58 L261.0,105.65 L261.5,105.17 L262.0,106.00 L262.5,105.97 L263.0,104.91 L263.5,104.99 L264.0,105.60 L264.5,105.99 L265.0,105.68 L265.5,105.84 L266.0,105.02 L266.5,104.45 L267.0,104.99 L267.5,104.84 L268.0,105.84 L268.5,106.28 L269.0,105.77 L269.5,105.60 L270.0,105.21 L270.5,105.91 L271.0,106.23 L271.5,106.15 L272.0,105.28 L272.5,104.83 L273.0,104.56 L273.5,105.72 L274.0,106.09 L274.5,105.33 L275.0,105.60 L275.5,105.05 L276.0,105.13 L276.5,105.01 L277.0,105.58 L277.5,106.08 L278.0,106.26 L278.5,106.37 L279.0,106.26 L279.5,105.35 L280.0,104.77 L280.5,105.90 L281.0,105.81 L281.5,104.93 L282.0,105.57 L282.5,104.99 L283.0,105.88 L283.5,106.41 L284.0,105.83 L284.5,104.62 L285.0,104.66 L285.5,104.98 L286.0,105.81 L286.5,105.38 L287.0,105.45 L287.5,106.06 L288.0,105.64 L288.5,105.98 L289.0,106.50 L289.5,106.06 L290.0,105.07 L290.5,105.50 L291.0,104.81 L291.5,105.10 L292.0,105.31 L292.5,105.70 L293.0,104.78 L293.5,104.91 L294.0,105.91 L294.5,106.43 L295.0,106.06 L295.5,105.69 L296.0,105.80 L296.5,104.58 L297.0,104.71 L297.5,105.48 L298.0,105.66 L298.5,104.92 L299.0,105.51 L299.5,106.14 L300.0,105.50 L300.5,104.52 L301.0,104.20 L301.5,104.61 L302.0,105.82 L302.5,105.79 L303.0,105.36 L303.5,106.21 L304.0,105.94 L304.5,104.88 L305.0,105.93 L305.5,105.80 L306.0,104.65 L306.5,105.32 L307.0,106.07 L307.5,105.50 L308.0,104.99 L308.5,105.92 L309.0,106.04 L309.5,105.89 L310.0,104.98 L310.5,104.52 L311.0,104.68 L311.5,106.06 L312.0,106.40 L312.5,106.28 L313.0,106.31 L313.5,106.09 L314.0,105.71 L314.5,105.52 L315.0,106.07 L315.5,106.33 L316.0,106.14 L316.5,106.16 L317.0,105.90 L317.5,105.47 L318.0,104.57 L318.5,105.43 L319.0,106.12 L319.5,106.10 L320.0,105.81 L320.5,106.15 L321.0,106.28 L321.5,106.29 L322.0,105.73 L322.5,104.87 L323.0,105.83 L323.5,105.87 L324.0,104.76 L324.5,104.78 L325.0,105.52 L325.5,106.04 L326.0,106.19 L326.5,106.24 L327.0,106.09 L327.5,105.66 L328.0,105.82 L328.5,105.37 L329.0,104.62 L329.5,104.39 L330.0,105.22 L330.5,104.40 L331.0,104.43 L331.5,105.54 L332.0,105.10 L332.5,105.40 L333.0,106.06 L333.5,106.19 L334.0,106.32 L334.5,106.00 L335.0,105.45 L335.5,105.66 L336.0,105.49 L336.5,105.87 L337.0,105.90 L337.5,105.92 L338.0,105.52 L338.5,105.94 L339.0,105.73 L339.5,105.29 L340.0,105.00 L340.5,105.92 L341.0,106.03 L341.5,105.46 L342.0,106.03 L342.5,105.99 L343.0,106.39 L343.5,106.60 L344.0,106.34 L344.5,105.35 L345.0,104.93 L345.5,105.87 L346.0,105.94 L346.5,105.92 L347.0,106.39 L347.5,106.49 L348.0,106.20 L348.5,105.64 L349.0,105.93 L349.5,105.31 L350.0,104.37 L350.5,104.49 L351.0,104.51 L351.5,105.38 L352.0,105.63 L352.5,106.14 L353.0,106.24 L353.5,106.16 L354.0,105.35 L354.5,104.62 L355.0,105.13 L355.5,104.68 L356.0,104.41 L356.5,104.33 L357.0,104.86 L357.5,106.01 L358.0,106.06 L358.5,105.87 L359.0,105.92 L359.5,105.15 L360.0,104.89 L360.5,105.72 L361.0,105.64 L361.5,105.66 L362.0,105.06 L362.5,105.99 L363.0,106.36 L363.5,105.68 L364.0,105.00 L364.5,105.23 L365.0,104.87 L365.5,105.13 L366.0,104.87 L366.5,105.66 L367.0,105.54 L367.5,105.15 L368.0,105.88 L368.5,105.61 L369.0,104.59 L369.5,105.45 L370.0,105.62 L370.5,104.86 L371.0,104.40 L371.5,104.88 L372.0,105.75 L372.5,105.79 L373.0,106.06 L373.5,105.83 L374.0,106.19 L374.5,106.29 L375.0,106.21 L375.5,105.98 L376.0,105.93 L376.5,105.58 L377.0,105.52 L377.5,106.03 L378.0,105.97 L378.5,105.74 L379.0,105.47 L379.5,105.63 L380.0,105.47 L380.5,105.89 L381.0,105.27 L381.5,104.90 L382.0,105.48 L382.5,105.72 L383.0,104.66 L383.5,105.32 L384.0,105.26 L384.5,104.41 L385.0,103.51 L385.5,101.01 L386.0,99.45 L386.5,99.69 L387.0,102.89 L387.5,103.20 L388.0,102.42 L388.5,102.83 L389.0,102.92 L389.5,102.04 L390.0,102.78 L390.5,103.56 L391.0,103.61 L391.5,102.00 L392.0,100.75 L392.5,99.69 L393.0,101.40 L393.5,102.13 L394.0,100.91 L394.5,102.68 L395.0,103.52 L395.5,102.61 L396.0,100.92 L396.5,100.64 L397.0,99.68 L397.5,99.16 L398.0,102.26 L398.5,103.35 L399.0,102.64 L399.5,101.10 L400.0,102.43 L400.5,101.91 L401.0,102.17 L401.5,101.44 L402.0,100.30 L402.5,101.85 L403.0,101.47 L403.5,100.36 L404.0,101.69 L404.5,103.02 L405.0,102.79 L405.5,103.06 L406.0,102.17 L406.5,102.17 L407.0,100.30 L407.5,101.61 L408.0,102.12 L408.5,102.31 L409.0,101.70 L409.5,102.85 L410.0,103.29 L410.5,103.13 L411.0,103.20 L411.5,102.49 L412.0,101.08 L412.5,99.62 L413.0,101.33 L413.5,99.92 L414.0,101.94 L414.5,102.02 L415.0,99.42 L415.5,99.77 L416.0,101.69 L416.5,101.81 L417.0,99.94 L417.5,102.05 L418.0,102.50 L418.5,101.91 L419.0,99.72 L419.5,100.09 L420.0,102.06 L420.5,101.11 L421.0,103.19 L421.5,103.68 L422.0,102.10 L422.5,100.72 L423.0,99.79 L423.5,100.92 L424.0,100.71 L424.5,101.93 L425.0,100.76 L425.5,102.24 L426.0,102.18 L426.5,101.48 L427.0,100.33 L427.5,99.58 L428.0,99.93 L428.5,100.89 L429.0,99.38 L429.5,98.74 L430.0,100.49 L430.5,102.69 L431.0,102.58 L431.5,102.18 L432.0,101.34 L432.5,99.59 L433.0,101.14 L433.5,101.38 L434.0,99.22 L434.5,99.99 L435.0,102.07 L435.5,101.65 L436.0,100.43 L436.5,101.87 L437.0,103.08 L437.5,103.00 L438.0,100.93 L438.5,102.50 L439.0,102.08 L439.5,101.85 L440.0,103.09 L440.5,102.43 L441.0,99.51 L441.5,100.16 L442.0,100.72 L442.5,102.04 L443.0,102.79 L443.5,101.56 L444.0,102.58 L444.5,101.51 L445.0,102.42 L445.5,102.97 L446.0,101.13 L446.5,101.49 L447.0,99.77 L447.5,101.62 L448.0,101.72 L448.5,102.87 L449.0,102.34 L449.5,99.41 L450.0,99.11 L450.5,100.03 L451.0,101.64 L451.5,103.06 L452.0,103.51 L452.5,101.89 L453.0,100.70 L453.5,102.13 L454.0,101.49 L454.5,100.77 L455.0,102.99 L455.5,102.61 L456.0,99.66 L456.5,99.83 L457.0,101.74 L457.5,100.35 L458.0,99.07 L458.5,99.08 L459.0,101.33 L459.5,101.21 L460.0,98.66 L460.5,99.33 L461.0,101.65 L461.5,102.20 L462.0,99.77 L462.5,100.48 L463.0,100.62 L463.5,101.72 L464.0,101.78 L464.5,102.56 L465.0,102.18 L465.5,102.64 L466.0,101.78 L466.5,99.71 L467.0,101.94 L467.5,102.90 L468.0,102.98 L468.5,102.60 L469.0,101.26 L469.5,102.16 L470.0,101.69 L470.5,100.71 L471.0,100.04 L471.5,101.05 L472.0,99.07 L472.5,98.98 L473.0,100.73 L473.5,100.34 L474.0,101.27 L474.5,99.27 L475.0,98.34 L475.5,99.79 L476.0,101.82 L476.5,101.99 L477.0,101.68 L477.5,101.92 L478.0,100.12 L478.5,101.57 L479.0,101.20 L479.5,100.78 L480.0,104.91 L480.5,106.48 L481.0,105.92 L481.5,105.90 L482.0,106.36 L482.5,106.76 L483.0,106.76 L483.5,106.61 L484.0,106.70 L484.5,106.50 L485.0,106.73 L485.5,106.82 L486.0,106.62 L486.5,106.20 L487.0,106.65 L487.5,106.88 L488.0,106.79 L488.5,106.44 L489.0,106.00 L489.5,106.25 L490.0,106.26 L490.5,106.13 L491.0,106.12 L491.5,106.15 L492.0,106.47 L492.5,106.73 L493.0,106.59 L493.5,105.85 L494.0,105.96 L494.5,106.57 L495.0,106.58 L495.5,106.21 L496.0,106.31 L496.5,106.50 L497.0,106.48 L497.5,106.67 L498.0,106.71 L498.5,106.18 L499.0,105.92 L499.5,106.37 L500.0,106.08 L500.5,105.95 L501.0,105.77 L501.5,105.90 L502.0,106.47 L502.5,106.64 L503.0,106.57 L503.5,106.10 L504.0,105.97 L504.5,106.01 L505.0,105.90 L505.5,106.21 L506.0,106.71 L506.5,106.80 L507.0,106.70 L507.5,106.55 L508.0,106.59 L508.5,106.19 L509.0,106.14 L509.5,106.19 L510.0,106.63 L510.5,106.71 L511.0,106.58 L511.5,106.24 L511.5,107.3 Z" fill="#6c7812"/>
<line x1="236.5" y1="107.39999999999999" x2="511.5" y2="107.39999999999999" stroke="#6c7812" stroke-width="0.7" stroke-dasharray="1.2,0.8" opacity="0.8"/>
<path d="M236.5,119.4 L236.5,116.38 L237.0,117.15 L237.5,118.19 L238.0,117.95 L238.5,116.81 L239.0,116.11 L239.5,116.49 L240.0,117.39 L240.5,117.86 L241.0,118.00 L241.5,117.64 L242.0,117.33 L242.5,117.76 L243.0,117.54 L243.5,117.82 L244.0,117.98 L244.5,117.57 L245.0,117.22 L245.5,117.48 L246.0,117.68 L246.5,118.09 L247.0,118.19 L247.5,117.98 L248.0,117.83 L248.5,118.24 L249.0,118.23 L249.5,117.91 L250.0,117.71 L250.5,118.21 L251.0,118.12 L251.5,117.41 L252.0,117.74 L252.5,117.51 L253.0,117.73 L253.5,117.81 L254.0,117.91 L254.5,117.55 L255.0,117.78 L255.5,118.00 L256.0,118.16 L256.5,118.10 L257.0,117.78 L257.5,117.82 L258.0,117.28 L258.5,116.66 L259.0,117.65 L259.5,117.74 L260.0,117.45 L260.5,117.80 L261.0,117.52 L261.5,116.56 L262.0,116.98 L262.5,117.75 L263.0,117.59 L263.5,116.39 L264.0,116.44 L264.5,116.78 L265.0,116.99 L265.5,117.93 L266.0,117.96 L266.5,117.81 L267.0,117.88 L267.5,118.06 L268.0,118.23 L268.5,118.27 L269.0,118.31 L269.5,118.36 L270.0,118.24 L270.5,118.29 L271.0,118.18 L271.5,117.72 L272.0,117.40 L272.5,117.76 L273.0,117.36 L273.5,117.55 L274.0,117.60 L274.5,117.73 L275.0,117.35 L275.5,118.08 L276.0,118.10 L276.5,116.83 L277.0,116.48 L277.5,116.85 L278.0,116.74 L278.5,116.73 L279.0,117.78 L279.5,117.67 L280.0,117.65 L280.5,117.22 L281.0,118.02 L281.5,118.16 L282.0,117.89 L282.5,117.90 L283.0,117.91 L283.5,117.41 L284.0,117.93 L284.5,118.12 L285.0,117.78 L285.5,117.27 L286.0,117.46 L286.5,117.18 L287.0,117.63 L287.5,117.09 L288.0,116.60 L288.5,117.48 L289.0,117.90 L289.5,118.33 L290.0,118.36 L290.5,118.07 L291.0,117.82 L291.5,117.80 L292.0,117.31 L292.5,117.65 L293.0,117.63 L293.5,116.83 L294.0,117.55 L294.5,117.53 L295.0,117.92 L295.5,117.92 L296.0,117.78 L296.5,118.12 L297.0,118.27 L297.5,117.80 L298.0,116.81 L298.5,117.65 L299.0,118.22 L299.5,118.07 L300.0,117.20 L300.5,117.74 L301.0,117.80 L301.5,116.87 L302.0,117.31 L302.5,117.74 L303.0,117.14 L303.5,117.65 L304.0,117.41 L304.5,117.80 L305.0,118.10 L305.5,117.74 L306.0,117.02 L306.5,117.69 L307.0,118.33 L307.5,118.16 L308.0,117.80 L308.5,118.06 L309.0,117.76 L309.5,118.16 L310.0,118.22 L310.5,117.88 L311.0,117.42 L311.5,117.26 L312.0,117.13 L312.5,117.85 L313.0,118.06 L313.5,118.01 L314.0,117.78 L314.5,117.73 L315.0,116.50 L315.5,116.26 L316.0,117.23 L316.5,118.24 L317.0,118.32 L317.5,117.89 L318.0,117.39 L318.5,117.87 L319.0,118.37 L319.5,118.00 L320.0,117.36 L320.5,117.79 L321.0,117.60 L321.5,117.67 L322.0,117.12 L322.5,117.51 L323.0,118.00 L323.5,117.77 L324.0,116.95 L324.5,117.38 L325.0,117.05 L325.5,117.22 L326.0,117.77 L326.5,117.63 L327.0,116.86 L327.5,116.66 L328.0,117.79 L328.5,118.00 L329.0,117.14 L329.5,117.47 L330.0,117.85 L330.5,117.41 L331.0,117.24 L331.5,117.84 L332.0,117.85 L332.5,117.85 L333.0,117.76 L333.5,116.92 L334.0,117.47 L334.5,117.55 L335.0,118.11 L335.5,118.33 L336.0,118.18 L336.5,118.16 L337.0,118.01 L337.5,117.69 L338.0,116.85 L338.5,116.67 L339.0,117.64 L339.5,117.76 L340.0,117.48 L340.5,117.33 L341.0,117.96 L341.5,118.37 L342.0,118.22 L342.5,117.82 L343.0,117.67 L343.5,117.00 L344.0,117.64 L344.5,117.95 L345.0,118.28 L345.5,118.29 L346.0,118.24 L346.5,117.99 L347.0,116.78 L347.5,116.54 L348.0,117.01 L348.5,117.39 L349.0,117.69 L349.5,117.13 L350.0,117.77 L350.5,117.72 L351.0,117.99 L351.5,118.33 L352.0,117.95 L352.5,116.66 L353.0,116.70 L353.5,117.40 L354.0,116.81 L354.5,117.62 L355.0,118.21 L355.5,118.05 L356.0,117.91 L356.5,117.78 L357.0,117.14 L357.5,117.80 L358.0,118.14 L358.5,117.87 L359.0,117.87 L359.5,117.72 L360.0,117.14 L360.5,117.83 L361.0,118.18 L361.5,117.89 L362.0,116.59 L362.5,116.55 L363.0,117.75 L363.5,118.27 L364.0,117.95 L364.5,116.77 L365.0,116.87 L365.5,117.58 L366.0,118.26 L366.5,118.30 L367.0,118.00 L367.5,117.56 L368.0,117.34 L368.5,117.72 L369.0,117.15 L369.5,117.53 L370.0,117.76 L370.5,116.73 L371.0,116.88 L371.5,117.33 L372.0,117.79 L372.5,117.50 L373.0,118.05 L373.5,118.30 L374.0,117.87 L374.5,117.41 L375.0,117.51 L375.5,118.22 L376.0,117.94 L376.5,117.17 L377.0,117.67 L377.5,117.52 L378.0,117.82 L378.5,117.63 L379.0,116.90 L379.5,116.66 L380.0,117.29 L380.5,118.04 L381.0,117.91 L381.5,117.85 L382.0,117.94 L382.5,117.85 L383.0,117.95 L383.5,117.88 L384.0,116.90 L384.5,116.45 L385.0,117.72 L385.5,118.22 L386.0,117.94 L386.5,117.05 L387.0,117.33 L387.5,116.82 L388.0,117.37 L388.5,117.42 L389.0,116.54 L389.5,117.17 L390.0,117.61 L390.5,116.78 L391.0,117.26 L391.5,117.63 L392.0,117.04 L392.5,117.72 L393.0,117.57 L393.5,117.56 L394.0,117.96 L394.5,117.79 L395.0,117.13 L395.5,117.84 L396.0,117.79 L396.5,116.79 L397.0,117.54 L397.5,118.11 L398.0,118.01 L398.5,117.59 L399.0,116.98 L399.5,117.70 L400.0,117.54 L400.5,117.39 L401.0,117.97 L401.5,118.29 L402.0,118.31 L402.5,118.09 L403.0,117.71 L403.5,117.99 L404.0,118.01 L404.5,117.89 L405.0,117.62 L405.5,117.45 L406.0,117.60 L406.5,117.10 L407.0,117.46 L407.5,117.89 L408.0,118.35 L408.5,118.20 L409.0,117.77 L409.5,118.01 L410.0,118.19 L410.5,117.77 L411.0,117.12 L411.5,117.72 L412.0,118.07 L412.5,118.39 L413.0,118.24 L413.5,117.36 L414.0,116.13 L414.5,116.24 L415.0,117.27 L415.5,117.32 L416.0,116.73 L416.5,116.42 L417.0,117.40 L417.5,117.33 L418.0,117.76 L418.5,117.98 L419.0,118.17 L419.5,118.14 L420.0,117.66 L420.5,116.85 L421.0,117.96 L421.5,118.49 L422.0,118.03 L422.5,116.72 L423.0,116.84 L423.5,117.76 L424.0,118.00 L424.5,118.34 L425.0,118.41 L425.5,118.26 L426.0,117.52 L426.5,116.91 L427.0,117.30 L427.5,117.54 L428.0,117.79 L428.5,117.20 L429.0,117.21 L429.5,117.85 L430.0,117.47 L430.5,117.70 L431.0,118.25 L431.5,118.38 L432.0,118.23 L432.5,117.91 L433.0,117.76 L433.5,117.01 L434.0,117.43 L434.5,118.10 L435.0,117.86 L435.5,117.47 L436.0,117.63 L436.5,117.28 L437.0,116.74 L437.5,117.82 L438.0,118.26 L438.5,117.79 L439.0,117.23 L439.5,117.73 L440.0,118.24 L440.5,118.28 L441.0,117.80 L441.5,116.85 L442.0,117.70 L442.5,118.18 L443.0,117.91 L443.5,117.27 L444.0,117.58 L444.5,117.70 L445.0,117.06 L445.5,117.54 L446.0,117.83 L446.5,117.80 L447.0,117.58 L447.5,118.16 L448.0,118.18 L448.5,118.08 L449.0,118.07 L449.5,117.97 L450.0,117.22 L450.5,116.75 L451.0,116.52 L451.5,116.48 L452.0,117.10 L452.5,117.02 L453.0,116.77 L453.5,117.84 L454.0,118.19 L454.5,117.78 L455.0,117.66 L455.5,117.33 L456.0,117.39 L456.5,116.98 L457.0,116.56 L457.5,117.21 L458.0,118.15 L458.5,118.31 L459.0,117.73 L459.5,117.51 L460.0,117.95 L460.5,117.59 L461.0,117.62 L461.5,117.81 L462.0,117.63 L462.5,117.86 L463.0,116.74 L463.5,116.42 L464.0,117.74 L464.5,118.20 L465.0,117.99 L465.5,118.22 L466.0,117.76 L466.5,117.10 L467.0,117.56 L467.5,118.20 L468.0,118.22 L468.5,117.75 L469.0,116.69 L469.5,117.44 L470.0,118.08 L470.5,118.06 L471.0,118.35 L471.5,118.26 L472.0,117.94 L472.5,117.43 L473.0,117.47 L473.5,117.33 L474.0,117.97 L474.5,117.99 L475.0,117.09 L475.5,117.60 L476.0,117.57 L476.5,117.66 L477.0,118.14 L477.5,118.17 L478.0,117.88 L478.5,117.97 L479.0,117.67 L479.5,117.93 L480.0,118.22 L480.5,118.17 L481.0,117.75 L481.5,117.67 L482.0,117.19 L482.5,117.78 L483.0,117.83 L483.5,117.27 L484.0,117.32 L484.5,116.95 L485.0,117.42 L485.5,118.19 L486.0,118.35 L486.5,117.91 L487.0,116.77 L487.5,117.00 L488.0,118.02 L488.5,118.17 L489.0,117.81 L489.5,116.67 L490.0,116.14 L490.5,116.27 L491.0,117.02 L491.5,117.72 L492.0,116.87 L492.5,116.62 L493.0,117.38 L493.5,117.01 L494.0,117.89 L494.5,117.90 L495.0,117.32 L495.5,117.56 L496.0,117.06 L496.5,117.43 L497.0,118.09 L497.5,117.98 L498.0,117.50 L498.5,117.70 L499.0,117.10 L499.5,117.93 L500.0,117.86 L500.5,117.42 L501.0,117.66 L501.5,117.78 L502.0,116.75 L502.5,116.70 L503.0,117.71 L503.5,117.88 L504.0,118.12 L504.5,118.07 L505.0,118.36 L505.5,118.32 L506.0,118.15 L506.5,118.20 L507.0,118.24 L507.5,118.24 L508.0,118.00 L508.5,117.43 L509.0,117.94 L509.5,118.25 L510.0,117.86 L510.5,117.16 L511.0,117.72 L511.5,117.64 L511.5,119.4 Z" fill="#a8143c"/>
<line x1="236.5" y1="119.5" x2="511.5" y2="119.5" stroke="#a8143c" stroke-width="0.7" stroke-dasharray="1.2,0.8" opacity="0.8"/>
<path d="M236.5,169.7 L236.5,169.30 L237.0,169.29 L237.5,169.38 L238.0,169.43 L238.5,169.35 L239.0,169.38 L239.5,169.26 L240.0,169.30 L240.5,169.18 L241.0,169.23 L241.5,169.39 L242.0,169.38 L242.5,169.29 L243.0,169.38 L243.5,169.29 L244.0,169.25 L244.5,169.19 L245.0,169.19 L245.5,169.39 L246.0,169.43 L246.5,169.35 L247.0,169.36 L247.5,169.40 L248.0,169.40 L248.5,169.45 L249.0,169.42 L249.5,169.44 L250.0,169.35 L250.5,169.14 L251.0,169.06 L251.5,169.17 L252.0,169.37 L252.5,169.39 L253.0,169.38 L253.5,169.41 L254.0,169.40 L254.5,169.24 L255.0,169.31 L255.5,169.38 L256.0,169.34 L256.5,169.23 L257.0,169.33 L257.5,169.40 L258.0,169.46 L258.5,169.38 L259.0,169.26 L259.5,169.36 L260.0,169.41 L260.5,169.42 L261.0,169.29 L261.5,169.38 L262.0,169.48 L262.5,169.48 L263.0,169.39 L263.5,169.29 L264.0,169.38 L264.5,169.46 L265.0,169.39 L265.5,169.45 L266.0,169.40 L266.5,169.22 L267.0,169.34 L267.5,169.40 L268.0,169.32 L268.5,169.09 L269.0,169.12 L269.5,169.40 L270.0,169.41 L270.5,169.39 L271.0,169.44 L271.5,169.44 L272.0,169.36 L272.5,169.38 L273.0,169.43 L273.5,169.40 L274.0,169.32 L274.5,169.29 L275.0,169.24 L275.5,169.35 L276.0,169.30 L276.5,169.17 L277.0,169.39 L277.5,169.37 L278.0,169.21 L278.5,169.33 L279.0,163.49 L279.5,162.70 L280.0,168.82 L280.5,169.47 L281.0,169.35 L281.5,169.20 L282.0,169.33 L282.5,169.38 L283.0,169.15 L283.5,169.13 L284.0,169.32 L284.5,169.34 L285.0,169.41 L285.5,169.44 L286.0,169.39 L286.5,169.41 L287.0,169.42 L287.5,169.26 L288.0,169.22 L288.5,169.39 L289.0,169.29 L289.5,168.74 L290.0,167.70 L290.5,168.74 L291.0,169.37 L291.5,169.39 L292.0,169.44 L292.5,169.45 L293.0,169.31 L293.5,166.35 L294.0,162.70 L294.5,166.35 L295.0,169.38 L295.5,169.37 L296.0,169.36 L296.5,169.27 L297.0,169.34 L297.5,169.38 L298.0,169.34 L298.5,169.26 L299.0,169.33 L299.5,169.35 L300.0,169.30 L300.5,169.14 L301.0,169.23 L301.5,169.36 L302.0,168.68 L302.5,166.20 L303.0,167.33 L303.5,169.47 L304.0,169.41 L304.5,169.37 L305.0,169.35 L305.5,169.36 L306.0,169.44 L306.5,169.40 L307.0,169.27 L307.5,169.28 L308.0,169.36 L308.5,169.29 L309.0,169.13 L309.5,169.25 L310.0,164.28 L310.5,161.70 L311.0,167.36 L311.5,169.23 L312.0,169.28 L312.5,169.14 L313.0,169.15 L313.5,169.34 L314.0,169.46 L314.5,169.41 L315.0,169.35 L315.5,169.44 L316.0,169.42 L316.5,169.31 L317.0,169.22 L317.5,169.30 L318.0,169.39 L318.5,169.38 L319.0,169.40 L319.5,169.37 L320.0,169.31 L320.5,169.39 L321.0,169.42 L321.5,169.47 L322.0,169.44 L322.5,169.41 L323.0,169.28 L323.5,169.34 L324.0,169.32 L324.5,169.37 L325.0,169.39 L325.5,169.38 L326.0,169.38 L326.5,169.42 L327.0,169.27 L327.5,169.20 L328.0,169.28 L328.5,169.20 L329.0,169.32 L329.5,169.32 L330.0,169.31 L330.5,169.41 L331.0,169.35 L331.5,169.44 L332.0,169.44 L332.5,169.43 L333.0,169.42 L333.5,169.44 L334.0,165.27 L334.5,164.70 L335.0,169.07 L335.5,169.39 L336.0,169.41 L336.5,169.37 L337.0,169.27 L337.5,169.36 L338.0,169.37 L338.5,169.33 L339.0,169.34 L339.5,169.35 L340.0,169.37 L340.5,169.38 L341.0,169.26 L341.5,169.19 L342.0,169.26 L342.5,169.16 L343.0,169.30 L343.5,169.47 L344.0,169.50 L344.5,169.46 L345.0,169.40 L345.5,169.32 L346.0,169.29 L346.5,169.32 L347.0,169.35 L347.5,169.34 L348.0,168.98 L348.5,168.20 L349.0,168.98 L349.5,169.47 L350.0,169.48 L350.5,169.36 L351.0,169.22 L351.5,169.29 L352.0,169.44 L352.5,169.44 L353.0,169.32 L353.5,169.32 L354.0,169.18 L354.5,169.13 L355.0,169.27 L355.5,169.30 L356.0,169.21 L356.5,169.34 L357.0,169.36 L357.5,169.34 L358.0,169.46 L358.5,169.43 L359.0,169.38 L359.5,169.35 L360.0,169.28 L360.5,169.23 L361.0,169.23 L361.5,169.42 L362.0,169.46 L362.5,167.33 L363.0,166.20 L363.5,168.68 L364.0,169.26 L364.5,169.32 L365.0,169.31 L365.5,169.38 L366.0,169.38 L366.5,169.35 L367.0,169.42 L367.5,169.42 L368.0,169.30 L368.5,169.16 L369.0,169.20 L369.5,169.16 L370.0,169.30 L370.5,169.35 L371.0,169.43 L371.5,169.39 L372.0,169.13 L372.5,169.11 L373.0,169.20 L373.5,169.42 L374.0,169.47 L374.5,169.39 L375.0,169.32 L375.5,169.41 L376.0,169.31 L376.5,169.21 L377.0,169.28 L377.5,169.28 L378.0,169.38 L378.5,169.30 L379.0,169.19 L379.5,169.39 L380.0,169.46 L380.5,169.42 L381.0,169.29 L381.5,169.23 L382.0,169.16 L382.5,169.36 L383.0,169.40 L383.5,169.24 L384.0,169.24 L384.5,169.40 L385.0,169.37 L385.5,169.23 L386.0,168.38 L386.5,165.20 L387.0,166.65 L387.5,169.22 L388.0,169.14 L388.5,169.29 L389.0,169.37 L389.5,169.36 L390.0,169.24 L390.5,169.18 L391.0,169.33 L391.5,169.37 L392.0,169.30 L392.5,169.17 L393.0,169.32 L393.5,169.48 L394.0,169.46 L394.5,169.35 L395.0,169.42 L395.5,169.45 L396.0,169.35 L396.5,169.38 L397.0,169.45 L397.5,169.38 L398.0,169.21 L398.5,169.29 L399.0,169.22 L399.5,169.34 L400.0,169.45 L400.5,169.44 L401.0,169.46 L401.5,169.41 L402.0,169.35 L402.5,169.25 L403.0,169.25 L403.5,169.32 L404.0,169.37 L404.5,169.36 L405.0,169.21 L405.5,169.37 L406.0,169.46 L406.5,169.34 L407.0,169.16 L407.5,169.11 L408.0,169.21 L408.5,169.39 L409.0,169.41 L409.5,169.45 L410.0,169.40 L410.5,169.39 L411.0,169.41 L411.5,169.41 L412.0,169.38 L412.5,169.32 L413.0,169.25 L413.5,169.32 L414.0,169.32 L414.5,169.19 L415.0,169.30 L415.5,169.35 L416.0,169.32 L416.5,169.30 L417.0,169.33 L417.5,169.32 L418.0,169.18 L418.5,169.32 L419.0,169.38 L419.5,169.22 L420.0,169.14 L420.5,169.31 L421.0,169.30 L421.5,169.38 L422.0,169.41 L422.5,169.45 L423.0,169.37 L423.5,169.38 L424.0,169.24 L424.5,169.38 L425.0,169.43 L425.5,169.40 L426.0,169.33 L426.5,169.29 L427.0,169.32 L427.5,169.29 L428.0,169.33 L428.5,169.38 L429.0,169.44 L429.5,169.41 L430.0,169.39 L430.5,169.42 L431.0,169.36 L431.5,169.27 L432.0,169.38 L432.5,169.40 L433.0,169.21 L433.5,169.22 L434.0,169.37 L434.5,169.36 L435.0,169.40 L435.5,169.42 L436.0,169.26 L436.5,169.37 L437.0,169.43 L437.5,169.40 L438.0,169.44 L438.5,169.41 L439.0,169.42 L439.5,169.45 L440.0,169.45 L440.5,169.45 L441.0,169.35 L441.5,169.23 L442.0,169.33 L442.5,169.30 L443.0,169.17 L443.5,169.30 L444.0,169.26 L444.5,169.17 L445.0,169.37 L445.5,169.42 L446.0,169.41 L446.5,169.37 L447.0,169.30 L447.5,169.19 L448.0,169.30 L448.5,169.39 L449.0,169.36 L449.5,169.18 L450.0,169.14 L450.5,169.32 L451.0,169.39 L451.5,169.42 L452.0,169.41 L452.5,169.39 L453.0,169.31 L453.5,169.32 L454.0,169.19 L454.5,169.14 L455.0,169.39 L455.5,169.46 L456.0,169.47 L456.5,169.36 L457.0,169.21 L457.5,169.35 L458.0,169.44 L458.5,169.46 L459.0,169.39 L459.5,169.21 L460.0,169.28 L460.5,169.19 L461.0,169.27 L461.5,169.26 L462.0,169.36 L462.5,169.44 L463.0,169.43 L463.5,169.35 L464.0,169.38 L464.5,169.32 L465.0,169.40 L465.5,169.36 L466.0,169.19 L466.5,169.32 L467.0,169.42 L467.5,169.42 L468.0,169.41 L468.5,169.31 L469.0,169.23 L469.5,169.39 L470.0,169.35 L470.5,169.17 L471.0,169.15 L471.5,169.28 L472.0,169.22 L472.5,169.18 L473.0,169.37 L473.5,169.50 L474.0,169.44 L474.5,169.32 L475.0,169.41 L475.5,169.45 L476.0,169.41 L476.5,169.17 L477.0,169.20 L477.5,169.35 L478.0,169.35 L478.5,169.27 L479.0,169.40 L479.5,169.33 L480.0,169.19 L480.5,169.40 L481.0,169.44 L481.5,169.35 L482.0,169.20 L482.5,169.31 L483.0,169.40 L483.5,169.45 L484.0,169.49 L484.5,169.45 L485.0,169.32 L485.5,169.15 L486.0,169.34 L486.5,169.47 L487.0,169.37 L487.5,169.28 L488.0,169.25 L488.5,169.26 L489.0,169.39 L489.5,169.37 L490.0,169.32 L490.5,169.25 L491.0,169.35 L491.5,169.37 L492.0,169.28 L492.5,169.26 L493.0,169.14 L493.5,169.29 L494.0,169.42 L494.5,169.25 L495.0,169.22 L495.5,169.31 L496.0,169.41 L496.5,169.41 L497.0,169.32 L497.5,169.29 L498.0,169.34 L498.5,169.39 L499.0,169.42 L499.5,169.38 L500.0,169.18 L500.5,169.23 L501.0,169.35 L501.5,169.41 L502.0,169.41 L502.5,169.36 L503.0,169.20 L503.5,169.27 L504.0,169.32 L504.5,169.31 L505.0,169.42 L505.5,169.44 L506.0,169.33 L506.5,169.21 L507.0,169.33 L507.5,169.22 L508.0,169.25 L508.5,169.36 L509.0,169.35 L509.5,169.20 L510.0,169.22 L510.5,169.36 L511.0,169.38 L511.5,169.38 L511.5,169.7 Z" fill="#3aa6a0"/>
<line x1="236.5" y1="169.79999999999998" x2="511.5" y2="169.79999999999998" stroke="#aaa" stroke-width="0.7" stroke-dasharray="1.2,0.8" opacity="0.8"/>
<path d="M236.5,182.6 L236.5,182.05 L237.0,181.87 L237.5,181.53 L238.0,181.82 L238.5,181.79 L239.0,181.97 L239.5,182.02 L240.0,181.67 L240.5,181.25 L241.0,181.66 L241.5,181.96 L242.0,181.75 L242.5,181.72 L243.0,181.90 L243.5,181.89 L244.0,181.82 L244.5,181.95 L245.0,181.86 L245.5,181.55 L246.0,181.27 L246.5,181.82 L247.0,181.80 L247.5,181.51 L248.0,181.97 L248.5,182.06 L249.0,181.62 L249.5,181.54 L250.0,181.38 L250.5,181.39 L251.0,181.75 L251.5,181.98 L252.0,182.02 L252.5,181.89 L253.0,182.00 L253.5,182.13 L254.0,182.13 L254.5,182.14 L255.0,182.19 L255.5,182.08 L256.0,181.64 L256.5,181.40 L257.0,181.40 L257.5,181.54 L258.0,181.75 L258.5,182.04 L259.0,182.03 L259.5,181.57 L260.0,181.86 L260.5,182.09 L261.0,182.01 L261.5,181.63 L262.0,181.86 L262.5,181.58 L263.0,181.53 L263.5,181.26 L264.0,181.42 L264.5,181.96 L265.0,181.76 L265.5,181.13 L266.0,181.23 L266.5,181.73 L267.0,182.12 L267.5,182.03 L268.0,181.94 L268.5,181.74 L269.0,181.25 L269.5,181.44 L270.0,181.85 L270.5,181.38 L271.0,181.30 L271.5,181.13 L272.0,181.42 L272.5,181.77 L273.0,181.53 L273.5,181.99 L274.0,182.17 L274.5,182.12 L275.0,181.89 L275.5,181.16 L276.0,181.22 L276.5,181.92 L277.0,181.34 L277.5,180.71 L278.0,180.05 L278.5,179.36 L279.0,179.00 L279.5,179.00 L280.0,179.21 L280.5,179.91 L281.0,180.58 L281.5,181.22 L282.0,181.81 L282.5,181.87 L283.0,181.39 L283.5,181.55 L284.0,181.46 L284.5,181.94 L285.0,182.05 L285.5,181.90 L286.0,181.94 L286.5,182.05 L287.0,181.82 L287.5,181.40 L288.0,181.40 L288.5,181.40 L289.0,181.82 L289.5,182.02 L290.0,181.64 L290.5,181.85 L291.0,182.01 L291.5,180.89 L292.0,179.63 L292.5,178.40 L293.0,178.40 L293.5,178.40 L294.0,179.63 L294.5,180.89 L295.0,181.70 L295.5,181.84 L296.0,181.34 L296.5,181.31 L297.0,181.90 L297.5,181.99 L298.0,181.91 L298.5,182.05 L299.0,182.17 L299.5,182.06 L300.0,181.69 L300.5,181.35 L301.0,180.78 L301.5,180.60 L302.0,180.60 L302.5,180.90 L303.0,181.46 L303.5,181.38 L304.0,181.16 L304.5,181.37 L305.0,181.81 L305.5,181.66 L306.0,182.06 L306.5,182.17 L307.0,182.16 L307.5,181.33 L308.0,179.83 L308.5,178.18 L309.0,176.60 L309.5,176.60 L310.0,176.60 L310.5,178.18 L311.0,179.83 L311.5,181.33 L312.0,181.57 L312.5,181.67 L313.0,181.94 L313.5,182.06 L314.0,182.16 L314.5,182.03 L315.0,181.94 L315.5,181.90 L316.0,181.97 L316.5,181.64 L317.0,181.40 L317.5,181.40 L318.0,181.46 L318.5,181.50 L319.0,181.82 L319.5,182.08 L320.0,181.95 L320.5,181.27 L321.0,181.52 L321.5,181.84 L322.0,181.58 L322.5,181.58 L323.0,182.04 L323.5,182.07 L324.0,182.10 L324.5,181.89 L325.0,181.57 L325.5,181.76 L326.0,181.76 L326.5,181.55 L327.0,181.57 L327.5,181.76 L328.0,181.71 L328.5,181.66 L329.0,182.01 L329.5,182.11 L330.0,182.13 L330.5,182.10 L331.0,182.09 L331.5,181.63 L332.0,181.57 L332.5,181.75 L333.0,181.44 L333.5,181.39 L334.0,181.44 L334.5,181.78 L335.0,181.93 L335.5,182.05 L336.0,182.10 L336.5,182.14 L337.0,182.13 L337.5,181.83 L338.0,181.72 L338.5,181.92 L339.0,181.94 L339.5,181.71 L340.0,182.05 L340.5,182.14 L341.0,182.02 L341.5,182.15 L342.0,182.04 L342.5,181.74 L343.0,181.35 L343.5,181.37 L344.0,181.78 L344.5,181.57 L345.0,181.36 L345.5,181.17 L346.0,181.53 L346.5,181.71 L347.0,181.74 L347.5,181.31 L348.0,181.66 L348.5,181.88 L349.0,181.70 L349.5,181.59 L350.0,181.42 L350.5,181.86 L351.0,181.93 L351.5,181.66 L352.0,181.94 L352.5,182.09 L353.0,182.01 L353.5,181.68 L354.0,181.45 L354.5,181.82 L355.0,181.98 L355.5,182.06 L356.0,182.10 L356.5,182.04 L357.0,182.11 L357.5,182.07 L358.0,181.92 L358.5,181.46 L359.0,181.49 L359.5,181.57 L360.0,181.42 L360.5,181.87 L361.0,181.90 L361.5,181.51 L362.0,181.94 L362.5,182.11 L363.0,182.14 L363.5,182.16 L364.0,182.01 L364.5,181.63 L365.0,181.95 L365.5,181.99 L366.0,181.61 L366.5,180.63 L367.0,179.56 L367.5,178.43 L368.0,177.60 L368.5,177.60 L369.0,177.72 L369.5,178.89 L370.0,180.00 L370.5,181.03 L371.0,181.59 L371.5,181.99 L372.0,182.14 L372.5,182.19 L373.0,182.20 L373.5,182.14 L374.0,182.05 L374.5,182.00 L375.0,182.02 L375.5,182.17 L376.0,182.20 L376.5,182.15 L377.0,182.05 L377.5,181.63 L378.0,181.57 L378.5,181.69 L379.0,181.70 L379.5,181.28 L380.0,181.64 L380.5,182.04 L381.0,182.06 L381.5,181.96 L382.0,181.97 L382.5,181.62 L383.0,181.75 L383.5,181.78 L384.0,181.92 L384.5,182.02 L385.0,182.14 L385.5,179.76 L386.0,174.37 L386.5,172.60 L387.0,172.60 L387.5,177.72 L388.0,181.58 L388.5,181.94 L389.0,182.06 L389.5,181.81 L390.0,182.03 L390.5,182.00 L391.0,182.03 L391.5,181.94 L392.0,181.50 L392.5,181.24 L393.0,181.39 L393.5,181.48 L394.0,181.39 L394.5,181.83 L395.0,181.98 L395.5,182.03 L396.0,181.97 L396.5,181.79 L397.0,181.88 L397.5,181.89 L398.0,181.58 L398.5,181.76 L399.0,181.64 L399.5,181.87 L400.0,182.11 L400.5,182.03 L401.0,181.98 L401.5,181.86 L402.0,181.98 L402.5,181.92 L403.0,181.58 L403.5,181.35 L404.0,181.67 L404.5,182.09 L405.0,181.88 L405.5,181.26 L406.0,181.48 L406.5,181.50 L407.0,181.85 L407.5,181.64 L408.0,181.79 L408.5,181.71 L409.0,181.39 L409.5,181.93 L410.0,182.14 L410.5,182.07 L411.0,182.09 L411.5,181.95 L412.0,181.47 L412.5,181.79 L413.0,182.07 L413.5,182.05 L414.0,181.99 L414.5,181.94 L415.0,181.55 L415.5,181.80 L416.0,181.98 L416.5,182.15 L417.0,182.28 L417.5,182.15 L418.0,181.79 L418.5,181.85 L419.0,182.03 L419.5,181.98 L420.0,181.88 L420.5,182.14 L421.0,182.21 L421.5,181.95 L422.0,181.76 L422.5,181.99 L423.0,181.87 L423.5,181.38 L424.0,181.91 L424.5,182.17 L425.0,181.97 L425.5,181.59 L426.0,181.22 L426.5,181.62 L427.0,182.11 L427.5,182.18 L428.0,181.38 L428.5,180.48 L429.0,179.60 L429.5,179.60 L430.0,179.60 L430.5,180.48 L431.0,181.38 L431.5,181.73 L432.0,182.04 L432.5,182.10 L433.0,182.15 L433.5,182.15 L434.0,182.11 L434.5,182.13 L435.0,181.98 L435.5,181.43 L436.0,181.72 L436.5,181.53 L437.0,181.43 L437.5,181.45 L438.0,181.70 L438.5,181.55 L439.0,181.19 L439.5,181.26 L440.0,181.76 L440.5,181.70 L441.0,181.72 L441.5,181.67 L442.0,181.43 L442.5,181.96 L443.0,182.13 L443.5,182.12 L444.0,182.23 L444.5,182.22 L445.0,182.08 L445.5,182.06 L446.0,181.88 L446.5,181.39 L447.0,180.84 L447.5,180.60 L448.0,180.60 L448.5,180.99 L449.0,181.73 L449.5,182.16 L450.0,182.14 L450.5,182.08 L451.0,182.13 L451.5,182.18 L452.0,181.38 L452.5,180.48 L453.0,179.60 L453.5,179.60 L454.0,179.60 L454.5,180.48 L455.0,181.38 L455.5,181.74 L456.0,181.86 L456.5,181.40 L457.0,181.51 L457.5,181.50 L458.0,181.37 L458.5,182.01 L459.0,182.11 L459.5,181.84 L460.0,181.97 L460.5,182.19 L461.0,182.20 L461.5,182.20 L462.0,181.91 L462.5,181.61 L463.0,182.01 L463.5,182.16 L464.0,182.13 L464.5,181.92 L465.0,182.09 L465.5,182.01 L466.0,181.59 L466.5,181.46 L467.0,181.86 L467.5,181.89 L468.0,181.65 L468.5,181.35 L469.0,181.45 L469.5,181.80 L470.0,181.69 L470.5,181.17 L471.0,181.14 L471.5,181.78 L472.0,182.07 L472.5,181.86 L473.0,181.90 L473.5,181.61 L474.0,181.66 L474.5,181.23 L475.0,181.30 L475.5,181.10 L476.0,181.28 L476.5,181.85 L477.0,182.09 L477.5,181.92 L478.0,181.34 L478.5,181.53 L479.0,181.58 L479.5,181.75 L480.0,182.09 L480.5,182.23 L481.0,182.15 L481.5,181.98 L482.0,181.70 L482.5,181.24 L483.0,181.12 L483.5,181.03 L484.0,181.20 L484.5,181.90 L485.0,182.21 L485.5,181.99 L486.0,181.72 L486.5,181.89 L487.0,181.73 L487.5,181.97 L488.0,182.14 L488.5,182.02 L489.0,181.54 L489.5,181.45 L490.0,181.72 L490.5,181.61 L491.0,182.02 L491.5,182.19 L492.0,182.14 L492.5,181.97 L493.0,181.57 L493.5,181.38 L494.0,181.05 L494.5,180.98 L495.0,181.39 L495.5,181.86 L496.0,181.81 L496.5,181.96 L497.0,181.85 L497.5,182.03 L498.0,182.10 L498.5,181.98 L499.0,181.76 L499.5,182.00 L500.0,182.23 L500.5,182.21 L501.0,182.06 L501.5,181.76 L502.0,181.76 L502.5,182.03 L503.0,181.93 L503.5,182.04 L504.0,181.96 L504.5,181.89 L505.0,181.66 L505.5,181.90 L506.0,181.66 L506.5,181.72 L507.0,181.72 L507.5,181.62 L508.0,181.53 L508.5,181.68 L509.0,181.39 L509.5,181.91 L510.0,182.09 L510.5,182.07 L511.0,182.24 L511.5,182.28 L511.5,182.6 Z" fill="#1c1c9c"/>
<line x1="236.5" y1="182.7" x2="511.5" y2="182.7" stroke="#1c1c9c" stroke-width="0.7" stroke-dasharray="1.2,0.8" opacity="0.8"/>
<path d="M236.5,196.0 L236.5,194.98 L237.0,195.34 L237.5,195.55 L238.0,195.45 L238.5,195.19 L239.0,195.05 L239.5,195.05 L240.0,195.14 L240.5,195.08 L241.0,195.20 L241.5,195.43 L242.0,195.49 L242.5,195.55 L243.0,195.63 L243.5,195.53 L244.0,195.18 L244.5,195.41 L245.0,195.32 L245.5,195.16 L246.0,195.37 L246.5,195.15 L247.0,194.90 L247.5,195.22 L248.0,194.88 L248.5,195.17 L249.0,195.42 L249.5,195.49 L250.0,195.58 L250.5,195.54 L251.0,195.61 L251.5,195.57 L252.0,195.34 L252.5,195.08 L253.0,195.28 L253.5,195.31 L254.0,195.43 L254.5,195.37 L255.0,195.20 L255.5,195.07 L256.0,195.04 L256.5,194.80 L257.0,194.80 L257.5,194.94 L258.0,195.11 L258.5,195.47 L259.0,195.53 L259.5,195.28 L260.0,195.38 L260.5,195.54 L261.0,195.40 L261.5,195.34 L262.0,195.51 L262.5,195.41 L263.0,195.15 L263.5,195.47 L264.0,195.60 L264.5,195.50 L265.0,195.45 L265.5,195.12 L266.0,195.40 L266.5,195.49 L267.0,195.52 L267.5,195.52 L268.0,195.16 L268.5,194.74 L269.0,194.73 L269.5,195.20 L270.0,195.21 L270.5,195.24 L271.0,195.31 L271.5,195.51 L272.0,195.54 L272.5,195.37 L273.0,195.32 L273.5,195.04 L274.0,194.92 L274.5,195.17 L275.0,194.99 L275.5,195.11 L276.0,195.45 L276.5,195.53 L277.0,195.17 L277.5,194.48 L278.0,193.72 L278.5,192.92 L279.0,192.50 L279.5,192.50 L280.0,192.75 L280.5,193.56 L281.0,194.33 L281.5,195.04 L282.0,195.41 L282.5,195.44 L283.0,195.56 L283.5,195.58 L284.0,195.37 L284.5,195.17 L285.0,194.85 L285.5,195.28 L286.0,195.43 L286.5,195.22 L287.0,195.37 L287.5,195.07 L288.0,194.81 L288.5,195.29 L289.0,195.23 L289.5,195.12 L290.0,194.84 L290.5,195.32 L291.0,195.53 L291.5,195.54 L292.0,195.22 L292.5,194.80 L293.0,194.80 L293.5,194.80 L294.0,195.22 L294.5,195.44 L295.0,195.35 L295.5,194.96 L296.0,194.96 L296.5,195.27 L297.0,195.41 L297.5,195.22 L298.0,194.92 L298.5,195.22 L299.0,195.21 L299.5,195.40 L300.0,195.43 L300.5,195.18 L301.0,195.43 L301.5,195.52 L302.0,195.43 L302.5,195.13 L303.0,195.29 L303.5,195.46 L304.0,195.43 L304.5,195.20 L305.0,195.42 L305.5,195.41 L306.0,195.03 L306.5,194.70 L307.0,194.86 L307.5,194.73 L308.0,193.23 L308.5,191.58 L309.0,190.00 L309.5,190.00 L310.0,190.00 L310.5,191.58 L311.0,193.23 L311.5,194.73 L312.0,195.50 L312.5,195.29 L313.0,195.22 L313.5,194.90 L314.0,195.27 L314.5,195.07 L315.0,194.55 L315.5,194.52 L316.0,194.95 L316.5,195.34 L317.0,195.41 L317.5,195.23 L318.0,195.37 L318.5,195.04 L319.0,195.08 L319.5,195.09 L320.0,195.06 L320.5,194.91 L321.0,195.19 L321.5,195.16 L322.0,195.30 L322.5,195.31 L323.0,194.89 L323.5,194.90 L324.0,195.37 L324.5,195.39 L325.0,195.17 L325.5,195.34 L326.0,195.47 L326.5,195.52 L327.0,195.54 L327.5,195.49 L328.0,195.50 L328.5,195.57 L329.0,195.62 L329.5,195.53 L330.0,195.62 L330.5,195.61 L331.0,195.36 L331.5,195.10 L332.0,195.50 L332.5,195.70 L333.0,195.64 L333.5,195.51 L334.0,195.58 L334.5,195.48 L335.0,195.12 L335.5,195.33 L336.0,195.19 L336.5,195.07 L337.0,194.92 L337.5,195.04 L338.0,195.38 L338.5,195.47 L339.0,195.35 L339.5,195.00 L340.0,195.12 L340.5,195.41 L341.0,195.49 L341.5,195.45 L342.0,195.34 L342.5,195.02 L343.0,195.32 L343.5,195.26 L344.0,195.27 L344.5,195.03 L345.0,195.06 L345.5,195.37 L346.0,195.52 L346.5,195.38 L347.0,194.91 L347.5,194.95 L348.0,195.05 L348.5,195.25 L349.0,195.29 L349.5,195.21 L350.0,194.72 L350.5,194.84 L351.0,195.32 L351.5,195.39 L352.0,195.23 L352.5,195.40 L353.0,195.08 L353.5,194.53 L354.0,194.00 L354.5,194.00 L355.0,194.00 L355.5,194.53 L356.0,195.08 L356.5,195.31 L357.0,195.33 L357.5,195.45 L358.0,195.36 L358.5,195.57 L359.0,195.53 L359.5,195.18 L360.0,195.26 L360.5,195.37 L361.0,195.27 L361.5,195.39 L362.0,195.30 L362.5,195.55 L363.0,195.45 L363.5,195.18 L364.0,195.43 L364.5,195.61 L365.0,195.35 L365.5,194.59 L366.0,193.75 L366.5,192.85 L367.0,192.00 L367.5,192.00 L368.0,192.00 L368.5,192.85 L369.0,193.75 L369.5,194.59 L370.0,195.28 L370.5,194.74 L371.0,194.89 L371.5,195.36 L372.0,195.23 L372.5,195.26 L373.0,195.37 L373.5,195.29 L374.0,195.45 L374.5,195.57 L375.0,195.62 L375.5,195.53 L376.0,195.49 L376.5,195.48 L377.0,195.44 L377.5,195.23 L378.0,195.19 L378.5,195.42 L379.0,195.32 L379.5,194.84 L380.0,194.95 L380.5,195.42 L381.0,195.56 L381.5,195.62 L382.0,195.60 L382.5,195.60 L383.0,195.36 L383.5,194.83 L384.0,195.18 L384.5,195.57 L385.0,195.51 L385.5,194.31 L386.0,188.54 L386.5,186.00 L387.0,186.00 L387.5,192.16 L388.0,195.42 L388.5,195.62 L389.0,195.45 L389.5,195.19 L390.0,195.45 L390.5,195.61 L391.0,195.55 L391.5,195.58 L392.0,195.53 L392.5,195.41 L393.0,194.98 L393.5,195.19 L394.0,195.44 L394.5,195.27 L395.0,194.82 L395.5,194.71 L396.0,195.25 L396.5,195.49 L397.0,195.26 L397.5,195.12 L398.0,195.13 L398.5,194.82 L399.0,195.12 L399.5,195.00 L400.0,194.68 L400.5,194.95 L401.0,195.38 L401.5,195.42 L402.0,195.31 L402.5,195.41 L403.0,195.15 L403.5,195.22 L404.0,194.88 L404.5,195.12 L405.0,194.89 L405.5,195.25 L406.0,195.41 L406.5,195.50 L407.0,195.54 L407.5,195.63 L408.0,195.58 L408.5,195.44 L409.0,195.31 L409.5,195.50 L410.0,195.62 L410.5,195.63 L411.0,195.52 L411.5,195.16 L412.0,195.26 L412.5,195.10 L413.0,195.19 L413.5,195.32 L414.0,194.94 L414.5,194.74 L415.0,195.00 L415.5,195.40 L416.0,195.54 L416.5,195.47 L417.0,195.57 L417.5,195.60 L418.0,195.62 L418.5,195.52 L419.0,195.45 L419.5,195.25 L420.0,195.08 L420.5,195.01 L421.0,195.32 L421.5,195.55 L422.0,195.56 L422.5,195.50 L423.0,195.45 L423.5,195.56 L424.0,195.43 L424.5,195.07 L425.0,195.03 L425.5,195.29 L426.0,195.22 L426.5,195.34 L427.0,195.20 L427.5,194.86 L428.0,194.92 L428.5,195.19 L429.0,195.08 L429.5,194.18 L430.0,193.50 L430.5,193.50 L431.0,193.60 L431.5,194.55 L432.0,195.27 L432.5,195.45 L433.0,195.49 L433.5,195.40 L434.0,195.27 L434.5,194.92 L435.0,195.30 L435.5,195.44 L436.0,195.45 L436.5,195.56 L437.0,195.31 L437.5,195.00 L438.0,195.31 L438.5,195.27 L439.0,194.94 L439.5,195.23 L440.0,195.10 L440.5,194.93 L441.0,195.43 L441.5,195.49 L442.0,195.20 L442.5,194.84 L443.0,195.12 L443.5,194.94 L444.0,195.12 L444.5,194.88 L445.0,195.18 L445.5,195.08 L446.0,194.39 L446.5,194.00 L447.0,194.00 L447.5,194.24 L448.0,194.99 L448.5,195.42 L449.0,194.94 L449.5,195.11 L450.0,195.41 L450.5,195.28 L451.0,194.80 L451.5,195.05 L452.0,194.99 L452.5,194.82 L453.0,194.18 L453.5,193.50 L454.0,193.50 L454.5,193.60 L455.0,194.55 L455.5,195.10 L456.0,194.97 L456.5,195.27 L457.0,195.27 L457.5,194.98 L458.0,195.16 L458.5,195.05 L459.0,195.36 L459.5,195.28 L460.0,194.79 L460.5,194.89 L461.0,194.88 L461.5,195.20 L462.0,195.57 L462.5,195.47 L463.0,195.05 L463.5,195.37 L464.0,195.35 L464.5,194.78 L465.0,194.76 L465.5,195.42 L466.0,195.63 L466.5,195.47 L467.0,195.23 L467.5,195.46 L468.0,195.39 L468.5,195.05 L469.0,194.97 L469.5,195.36 L470.0,195.49 L470.5,195.35 L471.0,194.79 L471.5,194.50 L472.0,194.50 L472.5,194.68 L473.0,194.78 L473.5,194.93 L474.0,194.98 L474.5,195.22 L475.0,195.42 L475.5,195.42 L476.0,195.46 L476.5,195.42 L477.0,195.31 L477.5,195.07 L478.0,195.29 L478.5,195.23 L479.0,195.41 L479.5,195.44 L480.0,195.50 L480.5,195.33 L481.0,195.24 L481.5,195.14 L482.0,195.46 L482.5,195.62 L483.0,195.53 L483.5,195.30 L484.0,195.32 L484.5,195.41 L485.0,195.41 L485.5,195.46 L486.0,195.52 L486.5,195.60 L487.0,195.56 L487.5,195.52 L488.0,195.55 L488.5,195.46 L489.0,195.27 L489.5,195.27 L490.0,195.16 L490.5,194.79 L491.0,195.19 L491.5,195.57 L492.0,195.59 L492.5,195.54 L493.0,195.33 L493.5,195.03 L494.0,195.27 L494.5,195.11 L495.0,194.75 L495.5,195.06 L496.0,195.34 L496.5,195.52 L497.0,195.52 L497.5,195.50 L498.0,195.41 L498.5,195.50 L499.0,195.48 L499.5,195.37 L500.0,195.54 L500.5,195.43 L501.0,194.97 L501.5,195.20 L502.0,195.43 L502.5,195.31 L503.0,195.43 L503.5,195.57 L504.0,195.50 L504.5,195.46 L505.0,195.56 L505.5,195.50 L506.0,195.33 L506.5,195.03 L507.0,194.70 L507.5,194.97 L508.0,195.10 L508.5,194.82 L509.0,194.72 L509.5,195.16 L510.0,195.04 L510.5,195.06 L511.0,195.26 L511.5,195.16 L511.5,196.0 Z" fill="#e0283e"/>
<line x1="236.5" y1="196.1" x2="511.5" y2="196.1" stroke="#e0283e" stroke-width="0.7" stroke-dasharray="1.2,0.8" opacity="0.8"/>
<path d="M236.5,208.9 L236.5,206.44 L237.0,206.39 L237.5,206.34 L238.0,205.52 L238.5,204.76 L239.0,205.18 L239.5,206.25 L240.0,206.37 L240.5,206.72 L241.0,206.65 L241.5,206.60 L242.0,206.66 L242.5,205.89 L243.0,206.25 L243.5,206.66 L244.0,206.54 L244.5,205.18 L245.0,205.12 L245.5,206.26 L246.0,206.24 L246.5,205.74 L247.0,205.71 L247.5,206.29 L248.0,206.57 L248.5,206.57 L249.0,205.90 L249.5,205.67 L250.0,206.20 L250.5,206.76 L251.0,206.67 L251.5,206.18 L252.0,206.31 L252.5,206.36 L253.0,206.52 L253.5,206.32 L254.0,206.35 L254.5,205.48 L255.0,205.33 L255.5,205.09 L256.0,203.32 L256.5,204.79 L257.0,205.35 L257.5,204.72 L258.0,204.06 L258.5,203.90 L259.0,203.80 L259.5,203.06 L260.0,204.91 L260.5,204.86 L261.0,203.87 L261.5,203.49 L262.0,204.76 L262.5,205.52 L263.0,204.40 L263.5,203.78 L264.0,205.33 L264.5,205.06 L265.0,204.18 L265.5,204.66 L266.0,203.94 L266.5,203.87 L267.0,203.55 L267.5,202.39 L268.0,204.62 L268.5,205.01 L269.0,204.29 L269.5,202.02 L270.0,202.68 L270.5,204.05 L271.0,203.95 L271.5,205.06 L272.0,204.59 L272.5,204.36 L273.0,203.17 L273.5,204.60 L274.0,205.26 L274.5,204.76 L275.0,203.60 L275.5,202.51 L276.0,203.78 L276.5,204.18 L277.0,202.40 L277.5,204.12 L278.0,204.80 L278.5,204.27 L279.0,203.31 L279.5,203.88 L280.0,201.38 L280.5,200.90 L281.0,201.38 L281.5,203.02 L282.0,204.15 L282.5,203.55 L283.0,205.23 L283.5,204.95 L284.0,202.38 L284.5,201.81 L285.0,202.11 L285.5,202.77 L286.0,203.99 L286.5,205.16 L287.0,205.36 L287.5,205.36 L288.0,205.09 L288.5,203.68 L289.0,204.16 L289.5,202.71 L290.0,202.41 L290.5,203.86 L291.0,202.39 L291.5,203.30 L292.0,203.66 L292.5,204.73 L293.0,205.52 L293.5,205.31 L294.0,203.87 L294.5,202.59 L295.0,204.34 L295.5,203.64 L296.0,202.96 L296.5,204.29 L297.0,203.23 L297.5,202.33 L298.0,201.17 L298.5,200.63 L299.0,201.01 L299.5,203.28 L300.0,205.14 L300.5,204.82 L301.0,204.97 L301.5,205.00 L302.0,203.76 L302.5,202.90 L303.0,203.00 L303.5,204.59 L304.0,204.32 L304.5,204.53 L305.0,202.89 L305.5,201.93 L306.0,202.86 L306.5,202.95 L307.0,204.71 L307.5,205.19 L308.0,205.64 L308.5,204.33 L309.0,202.79 L309.5,204.64 L310.0,205.30 L310.5,204.79 L311.0,203.37 L311.5,205.18 L312.0,205.56 L312.5,204.22 L313.0,202.21 L313.5,204.10 L314.0,205.90 L314.5,205.62 L315.0,204.74 L315.5,204.74 L316.0,203.16 L316.5,204.27 L317.0,204.79 L317.5,203.31 L318.0,202.72 L318.5,203.25 L319.0,204.74 L319.5,204.55 L320.0,204.91 L320.5,204.05 L321.0,202.66 L321.5,201.77 L322.0,201.72 L322.5,203.84 L323.0,202.62 L323.5,203.87 L324.0,203.46 L324.5,203.66 L325.0,203.11 L325.5,203.09 L326.0,204.26 L326.5,205.32 L327.0,205.18 L327.5,203.98 L328.0,203.23 L328.5,203.19 L329.0,202.56 L329.5,203.85 L330.0,205.09 L330.5,205.00 L331.0,205.42 L331.5,205.12 L332.0,203.47 L332.5,202.37 L333.0,204.14 L333.5,204.61 L334.0,205.13 L334.5,203.86 L335.0,204.00 L335.5,204.74 L336.0,205.58 L336.5,205.33 L337.0,203.64 L337.5,203.38 L338.0,204.33 L338.5,203.86 L339.0,203.02 L339.5,202.74 L340.0,204.05 L340.5,204.60 L341.0,203.14 L341.5,203.25 L342.0,204.63 L342.5,203.94 L343.0,202.71 L343.5,204.33 L344.0,203.78 L344.5,201.85 L345.0,201.30 L345.5,203.76 L346.0,204.13 L346.5,202.25 L347.0,202.54 L347.5,203.63 L348.0,203.61 L348.5,203.87 L349.0,205.03 L349.5,205.08 L350.0,202.62 L350.5,202.19 L351.0,201.70 L351.5,202.55 L352.0,205.21 L352.5,204.93 L353.0,202.17 L353.5,203.08 L354.0,202.98 L354.5,202.10 L355.0,204.48 L355.5,205.46 L356.0,204.81 L356.5,202.87 L357.0,204.62 L357.5,205.82 L358.0,205.40 L358.5,205.41 L359.0,205.56 L359.5,204.64 L360.0,202.83 L360.5,203.85 L361.0,203.31 L361.5,203.67 L362.0,202.61 L362.5,203.09 L363.0,204.60 L363.5,204.60 L364.0,202.56 L364.5,202.34 L365.0,202.56 L365.5,202.63 L366.0,205.03 L366.5,204.76 L367.0,202.93 L367.5,203.71 L368.0,204.25 L368.5,202.18 L369.0,201.80 L369.5,203.45 L370.0,203.14 L370.5,203.96 L371.0,205.06 L371.5,205.29 L372.0,205.22 L372.5,204.23 L373.0,203.36 L373.5,203.59 L374.0,203.08 L374.5,204.58 L375.0,203.86 L375.5,204.30 L376.0,204.19 L376.5,203.46 L377.0,202.38 L377.5,201.54 L378.0,203.74 L378.5,205.31 L379.0,205.43 L379.5,205.07 L380.0,203.81 L380.5,202.77 L381.0,202.47 L381.5,204.83 L382.0,204.88 L382.5,203.99 L383.0,202.06 L383.5,202.10 L384.0,201.45 L384.5,201.73 L385.0,203.97 L385.5,204.90 L386.0,203.52 L386.5,204.08 L387.0,204.60 L387.5,204.23 L388.0,203.76 L388.5,204.10 L389.0,203.11 L389.5,204.17 L390.0,203.17 L390.5,204.43 L391.0,203.80 L391.5,204.95 L392.0,205.15 L392.5,204.38 L393.0,204.38 L393.5,204.71 L394.0,202.87 L394.5,203.56 L395.0,204.37 L395.5,205.39 L396.0,204.92 L396.5,204.54 L397.0,204.26 L397.5,203.76 L398.0,204.40 L398.5,204.28 L399.0,205.27 L399.5,205.45 L400.0,203.79 L400.5,202.88 L401.0,204.78 L401.5,204.41 L402.0,204.43 L402.5,203.45 L403.0,203.43 L403.5,204.70 L404.0,204.97 L404.5,204.15 L405.0,203.47 L405.5,203.48 L406.0,202.86 L406.5,202.22 L407.0,203.73 L407.5,204.43 L408.0,204.99 L408.5,203.65 L409.0,202.54 L409.5,205.10 L410.0,205.69 L410.5,204.54 L411.0,204.88 L411.5,204.64 L412.0,204.25 L412.5,204.20 L413.0,203.35 L413.5,204.89 L414.0,204.26 L414.5,203.86 L415.0,204.76 L415.5,205.81 L416.0,204.58 L416.5,202.15 L417.0,203.34 L417.5,204.45 L418.0,203.55 L418.5,203.48 L419.0,205.22 L419.5,205.50 L420.0,205.22 L420.5,204.84 L421.0,202.80 L421.5,203.08 L422.0,204.24 L422.5,205.59 L423.0,205.71 L423.5,205.23 L424.0,204.03 L424.5,205.08 L425.0,205.53 L425.5,205.22 L426.0,205.92 L426.5,205.74 L427.0,204.18 L427.5,204.06 L428.0,205.51 L428.5,205.97 L429.0,205.29 L429.5,203.98 L430.0,203.16 L430.5,201.88 L431.0,201.90 L431.5,204.68 L432.0,205.12 L432.5,204.76 L433.0,202.88 L433.5,203.31 L434.0,203.25 L434.5,205.01 L435.0,205.75 L435.5,205.37 L436.0,204.82 L436.5,204.69 L437.0,204.90 L437.5,203.10 L438.0,203.32 L438.5,204.44 L439.0,204.18 L439.5,203.37 L440.0,205.92 L440.5,206.72 L441.0,206.07 L441.5,206.13 L442.0,206.42 L442.5,205.85 L443.0,206.07 L443.5,205.84 L444.0,205.19 L444.5,205.76 L445.0,206.07 L445.5,205.46 L446.0,204.94 L446.5,206.36 L447.0,206.68 L447.5,205.89 L448.0,205.28 L448.5,205.03 L449.0,204.60 L449.5,204.63 L450.0,206.16 L450.5,205.92 L451.0,204.30 L451.5,204.52 L452.0,205.88 L452.5,205.93 L453.0,205.41 L453.5,206.61 L454.0,206.84 L454.5,206.15 L455.0,206.05 L455.5,205.67 L456.0,205.57 L456.5,204.86 L457.0,205.56 L457.5,204.78 L458.0,204.80 L458.5,206.04 L459.0,206.07 L459.5,206.76 L460.0,207.16 L460.5,206.92 L461.0,206.03 L461.5,205.79 L462.0,205.84 L462.5,206.15 L463.0,205.32 L463.5,205.42 L464.0,204.75 L464.5,205.81 L465.0,205.81 L465.5,206.22 L466.0,205.89 L466.5,204.70 L467.0,204.42 L467.5,205.30 L468.0,205.49 L468.5,205.78 L469.0,205.86 L469.5,205.21 L470.0,205.03 L470.5,205.24 L471.0,206.37 L471.5,206.76 L472.0,206.79 L472.5,206.54 L473.0,205.68 L473.5,205.33 L474.0,206.18 L474.5,206.53 L475.0,206.60 L475.5,206.60 L476.0,206.34 L476.5,205.65 L477.0,205.38 L477.5,206.18 L478.0,206.44 L478.5,206.34 L479.0,206.14 L479.5,206.05 L480.0,207.52 L480.5,207.70 L481.0,207.17 L481.5,207.64 L482.0,208.00 L482.5,207.85 L483.0,207.67 L483.5,207.75 L484.0,207.42 L484.5,207.40 L485.0,207.88 L485.5,208.04 L486.0,207.76 L486.5,207.34 L487.0,206.95 L487.5,207.46 L488.0,207.84 L488.5,207.76 L489.0,207.66 L489.5,207.47 L490.0,207.35 L490.5,207.71 L491.0,207.42 L491.5,207.63 L492.0,207.82 L492.5,207.43 L493.0,207.64 L493.5,207.27 L494.0,207.68 L494.5,207.75 L495.0,207.86 L495.5,208.04 L496.0,208.00 L496.5,207.51 L497.0,207.02 L497.5,207.45 L498.0,207.16 L498.5,207.07 L499.0,207.00 L499.5,206.87 L500.0,207.41 L500.5,207.62 L501.0,207.11 L501.5,207.35 L502.0,206.97 L502.5,207.12 L503.0,207.84 L503.5,207.69 L504.0,206.97 L504.5,207.29 L505.0,207.58 L505.5,207.58 L506.0,207.66 L506.5,207.52 L507.0,207.69 L507.5,207.15 L508.0,207.10 L508.5,207.49 L509.0,207.81 L509.5,207.89 L510.0,207.39 L510.5,207.16 L511.0,207.22 L511.5,207.44 L511.5,208.9 Z" fill="#c23ae0"/>
<line x1="236.5" y1="209.0" x2="511.5" y2="209.0" stroke="#c23ae0" stroke-width="0.7" stroke-dasharray="1.2,0.8" opacity="0.8"/>
<path d="M236.5,221.6 L236.5,219.02 L237.0,219.39 L237.5,219.81 L238.0,219.63 L238.5,219.20 L239.0,219.52 L239.5,219.80 L240.0,219.27 L240.5,219.79 L241.0,220.24 L241.5,219.89 L242.0,219.29 L242.5,219.33 L243.0,219.71 L243.5,219.75 L244.0,219.62 L244.5,220.00 L245.0,219.95 L245.5,219.95 L246.0,220.01 L246.5,219.44 L247.0,220.07 L247.5,220.23 L248.0,219.91 L248.5,219.92 L249.0,219.93 L249.5,219.83 L250.0,219.43 L250.5,219.52 L251.0,219.52 L251.5,219.51 L252.0,219.92 L252.5,220.07 L253.0,219.98 L253.5,219.61 L254.0,219.87 L254.5,219.47 L255.0,219.32 L255.5,220.13 L256.0,220.21 L256.5,219.79 L257.0,219.94 L257.5,220.03 L258.0,220.06 L258.5,219.85 L259.0,219.13 L259.5,219.62 L260.0,218.71 L260.5,217.78 L261.0,219.02 L261.5,219.60 L262.0,219.09 L262.5,217.87 L263.0,217.50 L263.5,218.60 L264.0,219.00 L264.5,218.75 L265.0,218.07 L265.5,218.54 L266.0,218.47 L266.5,218.19 L267.0,218.15 L267.5,218.56 L268.0,217.79 L268.5,218.76 L269.0,219.15 L269.5,219.00 L270.0,219.03 L270.5,218.64 L271.0,218.11 L271.5,219.05 L272.0,219.01 L272.5,218.39 L273.0,218.70 L273.5,218.65 L274.0,218.88 L274.5,219.46 L275.0,219.16 L275.5,217.67 L276.0,215.82 L276.5,217.75 L277.0,217.70 L277.5,216.24 L278.0,217.93 L278.5,218.43 L279.0,217.47 L279.5,215.27 L280.0,216.48 L280.5,217.87 L281.0,217.44 L281.5,217.79 L282.0,217.31 L282.5,216.70 L283.0,217.46 L283.5,217.40 L284.0,217.54 L284.5,217.31 L285.0,214.76 L285.5,214.68 L286.0,216.67 L286.5,217.66 L287.0,217.12 L287.5,217.67 L288.0,217.92 L288.5,217.23 L289.0,214.98 L289.5,215.51 L290.0,216.57 L290.5,216.47 L291.0,216.17 L291.5,215.76 L292.0,216.01 L292.5,214.72 L293.0,214.64 L293.5,216.63 L294.0,217.95 L294.5,217.72 L295.0,215.74 L295.5,216.35 L296.0,217.99 L296.5,217.65 L297.0,215.30 L297.5,215.24 L298.0,216.29 L298.5,216.72 L299.0,217.46 L299.5,216.85 L300.0,216.76 L300.5,215.52 L301.0,215.72 L301.5,217.38 L302.0,217.86 L302.5,217.96 L303.0,217.45 L303.5,215.76 L304.0,217.02 L304.5,217.48 L305.0,215.71 L305.5,217.70 L306.0,218.53 L306.5,217.55 L307.0,214.40 L307.5,214.47 L308.0,216.42 L308.5,215.07 L309.0,216.67 L309.5,217.54 L310.0,217.69 L310.5,216.88 L311.0,214.94 L311.5,216.83 L312.0,218.26 L312.5,218.00 L313.0,216.92 L313.5,217.99 L314.0,218.87 L314.5,218.31 L315.0,217.21 L315.5,217.68 L316.0,218.47 L316.5,218.53 L317.0,216.53 L317.5,215.20 L318.0,217.47 L318.5,217.88 L319.0,216.53 L319.5,216.66 L320.0,216.49 L320.5,217.62 L321.0,218.03 L321.5,216.58 L322.0,217.85 L322.5,217.92 L323.0,216.84 L323.5,216.13 L324.0,218.22 L324.5,218.67 L325.0,218.11 L325.5,217.67 L326.0,216.48 L326.5,216.80 L327.0,215.83 L327.5,217.86 L328.0,218.49 L328.5,218.84 L329.0,217.95 L329.5,216.30 L330.0,217.66 L330.5,218.00 L331.0,218.34 L331.5,217.97 L332.0,216.72 L332.5,217.56 L333.0,216.49 L333.5,215.64 L334.0,216.83 L334.5,217.65 L335.0,217.02 L335.5,217.37 L336.0,216.80 L336.5,217.05 L337.0,216.41 L337.5,217.27 L338.0,216.56 L338.5,217.05 L339.0,218.24 L339.5,217.60 L340.0,217.87 L340.5,218.21 L341.0,218.07 L341.5,216.48 L342.0,216.41 L342.5,216.61 L343.0,217.91 L343.5,217.89 L344.0,217.90 L344.5,216.57 L345.0,216.87 L345.5,217.73 L346.0,217.42 L346.5,217.90 L347.0,217.33 L347.5,218.14 L348.0,217.77 L348.5,217.86 L349.0,216.31 L349.5,217.00 L350.0,216.87 L350.5,216.31 L351.0,217.85 L351.5,218.78 L352.0,218.66 L352.5,218.53 L353.0,218.65 L353.5,218.82 L354.0,218.81 L354.5,218.81 L355.0,218.37 L355.5,218.64 L356.0,218.79 L356.5,218.70 L357.0,217.38 L357.5,215.79 L358.0,215.70 L358.5,217.00 L359.0,216.27 L359.5,218.39 L360.0,219.15 L360.5,218.47 L361.0,218.32 L361.5,217.60 L362.0,217.95 L362.5,217.97 L363.0,216.57 L363.5,217.50 L364.0,217.57 L364.5,217.67 L365.0,217.02 L365.5,217.58 L366.0,217.24 L366.5,216.31 L367.0,217.65 L367.5,216.70 L368.0,218.05 L368.5,218.09 L369.0,216.66 L369.5,216.60 L370.0,217.63 L370.5,216.78 L371.0,217.00 L371.5,218.34 L372.0,218.14 L372.5,217.47 L373.0,217.45 L373.5,217.56 L374.0,217.41 L374.5,217.94 L375.0,216.62 L375.5,217.97 L376.0,218.54 L376.5,218.17 L377.0,218.48 L377.5,218.89 L378.0,218.31 L378.5,216.74 L379.0,218.36 L379.5,218.88 L380.0,218.24 L380.5,217.32 L381.0,217.43 L381.5,217.95 L382.0,217.55 L382.5,218.03 L383.0,217.32 L383.5,217.43 L384.0,216.82 L384.5,217.43 L385.0,218.89 L385.5,219.26 L386.0,218.89 L386.5,218.10 L387.0,218.09 L387.5,217.69 L388.0,218.63 L388.5,218.45 L389.0,216.83 L389.5,216.30 L390.0,218.41 L390.5,218.90 L391.0,218.29 L391.5,217.61 L392.0,218.79 L392.5,218.36 L393.0,217.06 L393.5,218.15 L394.0,218.46 L394.5,218.21 L395.0,217.47 L395.5,216.77 L396.0,218.21 L396.5,217.34 L397.0,216.23 L397.5,216.85 L398.0,216.59 L398.5,217.31 L399.0,217.59 L399.5,217.50 L400.0,216.16 L400.5,217.72 L401.0,218.51 L401.5,218.98 L402.0,219.17 L402.5,218.75 L403.0,217.46 L403.5,217.85 L404.0,217.04 L404.5,218.22 L405.0,219.04 L405.5,218.25 L406.0,215.73 L406.5,215.86 L407.0,217.54 L407.5,217.48 L408.0,217.79 L408.5,217.13 L409.0,216.37 L409.5,218.10 L410.0,218.59 L410.5,218.45 L411.0,219.21 L411.5,218.87 L412.0,217.69 L412.5,217.80 L413.0,216.43 L413.5,216.83 L414.0,217.09 L414.5,217.68 L415.0,217.88 L415.5,218.62 L416.0,217.78 L416.5,216.09 L417.0,215.68 L417.5,216.39 L418.0,217.57 L418.5,217.12 L419.0,218.15 L419.5,217.98 L420.0,218.33 L420.5,218.34 L421.0,216.17 L421.5,215.70 L422.0,217.74 L422.5,217.73 L423.0,216.50 L423.5,217.48 L424.0,218.48 L424.5,218.90 L425.0,219.15 L425.5,218.07 L426.0,216.46 L426.5,217.02 L427.0,215.48 L427.5,215.03 L428.0,215.93 L428.5,217.69 L429.0,217.72 L429.5,218.43 L430.0,217.94 L430.5,217.41 L431.0,217.81 L431.5,218.03 L432.0,217.79 L432.5,215.83 L433.0,216.45 L433.5,218.51 L434.0,218.76 L434.5,218.09 L435.0,216.14 L435.5,216.84 L436.0,218.15 L436.5,217.97 L437.0,217.90 L437.5,216.70 L438.0,216.33 L438.5,217.91 L439.0,218.76 L439.5,218.27 L440.0,216.95 L440.5,217.87 L441.0,217.16 L441.5,215.98 L442.0,217.10 L442.5,217.89 L443.0,218.31 L443.5,218.59 L444.0,217.75 L444.5,215.67 L445.0,216.49 L445.5,218.26 L446.0,218.49 L446.5,218.26 L447.0,218.35 L447.5,217.73 L448.0,218.17 L448.5,218.06 L449.0,218.41 L449.5,217.74 L450.0,217.57 L450.5,217.01 L451.0,218.01 L451.5,218.12 L452.0,216.28 L452.5,215.86 L453.0,218.11 L453.5,218.56 L454.0,217.92 L454.5,216.78 L455.0,216.80 L455.5,216.10 L456.0,216.60 L456.5,216.31 L457.0,217.64 L457.5,218.63 L458.0,218.84 L458.5,218.59 L459.0,218.12 L459.5,217.28 L460.0,216.36 L460.5,216.73 L461.0,217.39 L461.5,216.33 L462.0,215.99 L462.5,216.88 L463.0,215.27 L463.5,215.47 L464.0,216.63 L464.5,216.82 L465.0,218.21 L465.5,218.05 L466.0,217.47 L466.5,217.61 L467.0,216.96 L467.5,217.56 L468.0,218.28 L468.5,218.56 L469.0,218.51 L469.5,217.97 L470.0,216.67 L470.5,216.84 L471.0,216.65 L471.5,217.97 L472.0,218.45 L472.5,218.30 L473.0,218.78 L473.5,218.66 L474.0,218.33 L474.5,217.82 L475.0,217.87 L475.5,218.34 L476.0,218.06 L476.5,217.19 L477.0,217.21 L477.5,217.46 L478.0,216.14 L478.5,217.86 L479.0,218.30 L479.5,218.76 L480.0,219.79 L480.5,219.75 L481.0,220.22 L481.5,220.35 L482.0,219.98 L482.5,219.13 L483.0,219.13 L483.5,219.21 L484.0,219.68 L484.5,219.39 L485.0,218.92 L485.5,219.72 L486.0,220.06 L486.5,219.87 L487.0,218.60 L487.5,218.62 L488.0,219.53 L488.5,220.00 L489.0,219.50 L489.5,220.30 L490.0,220.45 L490.5,220.15 L491.0,220.28 L491.5,220.35 L492.0,219.92 L492.5,219.89 L493.0,219.81 L493.5,219.97 L494.0,219.13 L494.5,218.28 L495.0,218.70 L495.5,219.99 L496.0,220.07 L496.5,220.34 L497.0,220.46 L497.5,219.83 L498.0,219.30 L498.5,219.91 L499.0,220.52 L499.5,220.35 L500.0,219.81 L500.5,218.98 L501.0,219.19 L501.5,219.15 L502.0,219.17 L502.5,218.98 L503.0,219.83 L503.5,220.00 L504.0,219.88 L504.5,219.67 L505.0,219.84 L505.5,220.42 L506.0,220.45 L506.5,219.98 L507.0,219.04 L507.5,219.99 L508.0,220.43 L508.5,220.21 L509.0,220.30 L509.5,220.11 L510.0,220.16 L510.5,220.45 L511.0,220.46 L511.5,220.30 L511.5,221.6 Z" fill="#dc3c12"/>
<line x1="236.5" y1="221.7" x2="511.5" y2="221.7" stroke="#dc3c12" stroke-width="0.7" stroke-dasharray="1.2,0.8" opacity="0.8"/>
<path d="M236.5,234.3 L236.5,233.30 L237.0,232.88 L237.5,232.59 L238.0,232.05 L238.5,232.42 L239.0,233.42 L239.5,233.33 L240.0,232.49 L240.5,233.22 L241.0,233.47 L241.5,233.45 L242.0,232.61 L242.5,232.52 L243.0,233.31 L243.5,233.58 L244.0,233.77 L244.5,233.53 L245.0,232.90 L245.5,232.81 L246.0,232.45 L246.5,233.38 L247.0,233.76 L247.5,233.34 L248.0,232.86 L248.5,233.37 L249.0,233.65 L249.5,233.16 L250.0,232.49 L250.5,232.56 L251.0,233.35 L251.5,233.61 L252.0,233.21 L252.5,232.74 L253.0,232.28 L253.5,232.83 L254.0,233.58 L254.5,233.26 L255.0,232.21 L255.5,232.45 L256.0,232.86 L256.5,233.53 L257.0,233.67 L257.5,233.29 L258.0,232.76 L258.5,232.84 L259.0,233.41 L259.5,232.95 L260.0,232.28 L260.5,233.33 L261.0,233.80 L261.5,233.49 L262.0,232.89 L262.5,233.29 L263.0,233.19 L263.5,232.96 L264.0,232.37 L264.5,232.98 L265.0,233.39 L265.5,232.95 L266.0,233.00 L266.5,233.58 L267.0,233.38 L267.5,232.30 L268.0,232.18 L268.5,233.02 L269.0,232.93 L269.5,233.39 L270.0,233.66 L270.5,233.46 L271.0,233.16 L271.5,233.42 L272.0,233.38 L272.5,233.53 L273.0,233.67 L273.5,233.48 L274.0,233.48 L274.5,233.52 L275.0,233.14 L275.5,233.57 L276.0,233.47 L276.5,232.55 L277.0,232.01 L277.5,232.39 L278.0,232.27 L278.5,232.79 L279.0,233.12 L279.5,233.15 L280.0,233.31 L280.5,233.19 L281.0,233.01 L281.5,232.65 L282.0,232.58 L282.5,233.22 L283.0,233.37 L283.5,233.29 L284.0,232.65 L284.5,232.48 L285.0,233.19 L285.5,232.99 L286.0,233.42 L286.5,233.60 L287.0,233.73 L287.5,233.79 L288.0,233.69 L288.5,233.62 L289.0,233.31 L289.5,232.41 L290.0,231.90 L290.5,232.43 L291.0,233.34 L291.5,233.65 L292.0,233.50 L292.5,233.22 L293.0,233.47 L293.5,233.00 L294.0,232.07 L294.5,231.87 L295.0,232.63 L295.5,233.53 L296.0,233.67 L296.5,233.48 L297.0,233.68 L297.5,233.40 L298.0,232.57 L298.5,233.13 L299.0,233.57 L299.5,233.48 L300.0,233.44 L300.5,233.54 L301.0,233.32 L301.5,233.47 L302.0,233.14 L302.5,233.34 L303.0,233.45 L303.5,233.34 L304.0,233.26 L304.5,232.70 L305.0,233.40 L305.5,233.74 L306.0,233.65 L306.5,233.70 L307.0,233.61 L307.5,233.23 L308.0,232.92 L308.5,232.50 L309.0,233.05 L309.5,233.48 L310.0,233.46 L310.5,233.16 L311.0,233.21 L311.5,233.22 L312.0,232.74 L312.5,232.62 L313.0,232.86 L313.5,233.03 L314.0,233.26 L314.5,233.22 L315.0,233.51 L315.5,233.28 L316.0,232.03 L316.5,232.15 L317.0,233.36 L317.5,233.67 L318.0,233.40 L318.5,232.75 L319.0,233.29 L319.5,233.36 L320.0,233.62 L320.5,233.81 L321.0,233.69 L321.5,233.39 L322.0,233.52 L322.5,233.59 L323.0,233.38 L323.5,232.62 L324.0,232.31 L324.5,232.30 L325.0,232.54 L325.5,232.44 L326.0,233.01 L326.5,232.37 L327.0,232.47 L327.5,232.47 L328.0,232.99 L328.5,233.01 L329.0,233.05 L329.5,232.98 L330.0,233.56 L330.5,233.72 L331.0,233.30 L331.5,232.57 L332.0,232.32 L332.5,233.06 L333.0,233.60 L333.5,233.45 L334.0,233.61 L334.5,233.35 L335.0,232.49 L335.5,232.62 L336.0,232.87 L336.5,233.00 L337.0,232.60 L337.5,233.33 L338.0,233.51 L338.5,233.10 L339.0,232.27 L339.5,232.61 L340.0,232.25 L340.5,232.50 L341.0,232.36 L341.5,232.81 L342.0,232.71 L342.5,233.26 L343.0,233.32 L343.5,232.78 L344.0,232.51 L344.5,232.35 L345.0,232.38 L345.5,232.68 L346.0,232.52 L346.5,233.33 L347.0,233.41 L347.5,232.49 L348.0,232.55 L348.5,232.63 L349.0,233.33 L349.5,233.53 L350.0,233.41 L350.5,233.17 L351.0,233.36 L351.5,233.35 L352.0,232.32 L352.5,231.93 L353.0,232.56 L353.5,233.18 L354.0,232.71 L354.5,232.25 L355.0,232.99 L355.5,232.92 L356.0,233.15 L356.5,232.88 L357.0,233.45 L357.5,233.58 L358.0,232.89 L358.5,232.43 L359.0,232.71 L359.5,232.72 L360.0,233.35 L360.5,233.01 L361.0,232.36 L361.5,233.08 L362.0,233.08 L362.5,233.18 L363.0,232.68 L363.5,233.27 L364.0,233.24 L364.5,233.08 L365.0,233.53 L365.5,233.69 L366.0,233.39 L366.5,232.88 L367.0,233.30 L367.5,233.25 L368.0,233.20 L368.5,233.23 L369.0,233.40 L369.5,233.03 L370.0,233.27 L370.5,233.23 L371.0,233.38 L371.5,233.59 L372.0,233.38 L372.5,233.30 L373.0,233.66 L373.5,233.59 L374.0,232.99 L374.5,232.65 L375.0,232.32 L375.5,233.18 L376.0,233.08 L376.5,232.16 L377.0,232.53 L377.5,233.42 L378.0,233.69 L378.5,233.49 L379.0,232.93 L379.5,233.06 L380.0,233.09 L380.5,233.46 L381.0,233.06 L381.5,232.23 L382.0,232.37 L382.5,233.00 L383.0,232.88 L383.5,232.47 L384.0,233.20 L384.5,233.36 L385.0,233.14 L385.5,233.39 L386.0,233.24 L386.5,233.31 L387.0,233.44 L387.5,232.98 L388.0,233.12 L388.5,232.52 L389.0,231.97 L389.5,232.76 L390.0,233.43 L390.5,233.24 L391.0,233.56 L391.5,233.44 L392.0,232.89 L392.5,233.48 L393.0,233.50 L393.5,232.97 L394.0,233.46 L394.5,233.26 L395.0,232.30 L395.5,232.75 L396.0,233.17 L396.5,233.17 L397.0,232.33 L397.5,233.02 L398.0,233.59 L398.5,233.52 L399.0,233.45 L399.5,233.51 L400.0,233.53 L400.5,233.36 L401.0,233.49 L401.5,233.35 L402.0,233.62 L402.5,233.34 L403.0,232.33 L403.5,232.22 L404.0,232.32 L404.5,232.22 L405.0,233.07 L405.5,233.26 L406.0,232.57 L406.5,233.24 L407.0,233.68 L407.5,233.53 L408.0,233.02 L408.5,233.17 L409.0,233.08 L409.5,233.11 L410.0,232.80 L410.5,232.50 L411.0,233.31 L411.5,233.20 L412.0,233.09 L412.5,233.59 L413.0,233.39 L413.5,232.65 L414.0,233.27 L414.5,232.96 L415.0,232.55 L415.5,233.21 L416.0,233.22 L416.5,233.42 L417.0,233.61 L417.5,233.46 L418.0,233.66 L418.5,233.75 L419.0,233.34 L419.5,232.27 L420.0,232.31 L420.5,233.19 L421.0,233.08 L421.5,233.30 L422.0,232.98 L422.5,233.14 L423.0,233.37 L423.5,233.49 L424.0,233.41 L424.5,233.53 L425.0,233.16 L425.5,233.01 L426.0,232.62 L426.5,232.67 L427.0,232.11 L427.5,232.20 L428.0,233.13 L428.5,233.30 L429.0,232.62 L429.5,233.44 L430.0,233.53 L430.5,232.81 L431.0,232.90 L431.5,233.38 L432.0,233.23 L432.5,233.40 L433.0,233.42 L433.5,233.61 L434.0,233.38 L434.5,232.82 L435.0,233.33 L435.5,233.59 L436.0,233.48 L436.5,233.64 L437.0,233.51 L437.5,233.54 L438.0,233.42 L438.5,232.79 L439.0,232.41 L439.5,232.26 L440.0,233.29 L440.5,233.24 L441.0,232.25 L441.5,232.59 L442.0,233.38 L442.5,233.38 L443.0,233.18 L443.5,232.99 L444.0,233.46 L444.5,233.54 L445.0,233.28 L445.5,232.47 L446.0,232.90 L446.5,233.08 L447.0,233.38 L447.5,233.26 L448.0,233.53 L448.5,233.59 L449.0,233.65 L449.5,233.31 L450.0,232.59 L450.5,233.02 L451.0,232.81 L451.5,232.99 L452.0,233.58 L452.5,233.52 L453.0,233.21 L453.5,233.08 L454.0,233.28 L454.5,233.28 L455.0,233.40 L455.5,233.55 L456.0,233.58 L456.5,233.30 L457.0,233.10 L457.5,233.08 L458.0,232.48 L458.5,232.63 L459.0,233.27 L459.5,233.10 L460.0,233.38 L460.5,233.27 L461.0,232.88 L461.5,232.95 L462.0,232.40 L462.5,232.81 L463.0,232.53 L463.5,233.23 L464.0,233.46 L464.5,233.06 L465.0,232.07 L465.5,232.23 L466.0,233.09 L466.5,232.66 L467.0,232.49 L467.5,232.70 L468.0,232.20 L468.5,232.21 L469.0,232.98 L469.5,232.93 L470.0,232.36 L470.5,233.12 L471.0,232.92 L471.5,233.12 L472.0,233.08 L472.5,233.01 L473.0,232.78 L473.5,233.24 L474.0,232.96 L474.5,232.77 L475.0,233.42 L475.5,233.51 L476.0,233.50 L476.5,233.23 L477.0,232.75 L477.5,232.54 L478.0,232.74 L478.5,233.20 L479.0,233.30 L479.5,232.75 L480.0,232.74 L480.5,232.87 L481.0,233.06 L481.5,232.42 L482.0,233.26 L482.5,233.47 L483.0,233.34 L483.5,233.57 L484.0,233.58 L484.5,233.47 L485.0,233.08 L485.5,233.00 L486.0,233.11 L486.5,232.34 L487.0,232.82 L487.5,233.10 L488.0,233.04 L488.5,233.25 L489.0,233.30 L489.5,233.51 L490.0,233.64 L490.5,233.61 L491.0,233.61 L491.5,233.66 L492.0,233.70 L492.5,233.69 L493.0,233.53 L493.5,232.92 L494.0,232.84 L494.5,232.41 L495.0,233.31 L495.5,233.31 L496.0,232.34 L496.5,232.90 L497.0,233.04 L497.5,233.34 L498.0,233.69 L498.5,233.74 L499.0,233.75 L499.5,233.68 L500.0,233.42 L500.5,232.78 L501.0,232.56 L501.5,232.55 L502.0,232.68 L502.5,233.20 L503.0,232.87 L503.5,232.41 L504.0,233.28 L504.5,233.52 L505.0,233.61 L505.5,233.60 L506.0,233.16 L506.5,232.82 L507.0,233.36 L507.5,233.72 L508.0,233.42 L508.5,232.18 L509.0,232.10 L509.5,233.19 L510.0,233.19 L510.5,233.41 L511.0,233.42 L511.5,233.31 L511.5,234.3 Z" fill="#1c1c9c"/>
<line x1="236.5" y1="234.4" x2="511.5" y2="234.4" stroke="#1c1c9c" stroke-width="0.7" stroke-dasharray="1.2,0.8" opacity="0.8"/>
<path d="M236.5,246.9 L236.5,244.56 L237.0,244.84 L237.5,245.14 L238.0,245.62 L238.5,245.56 L239.0,244.96 L239.5,244.55 L240.0,245.32 L240.5,245.95 L241.0,245.97 L241.5,245.91 L242.0,245.33 L242.5,245.49 L243.0,245.86 L243.5,245.56 L244.0,245.65 L244.5,245.19 L245.0,245.22 L245.5,245.59 L246.0,245.55 L246.5,246.08 L247.0,246.18 L247.5,245.68 L248.0,245.85 L248.5,245.84 L249.0,245.29 L249.5,245.91 L250.0,245.89 L250.5,245.71 L251.0,245.14 L251.5,245.25 L252.0,244.99 L252.5,245.04 L253.0,245.96 L253.5,246.35 L254.0,246.33 L254.5,246.26 L255.0,246.12 L255.5,246.21 L256.0,246.09 L256.5,245.57 L257.0,245.70 L257.5,246.05 L258.0,246.18 L258.5,246.27 L259.0,246.19 L259.5,245.76 L260.0,245.72 L260.5,245.88 L261.0,245.58 L261.5,246.05 L262.0,245.90 L262.5,245.21 L263.0,245.75 L263.5,245.67 L264.0,245.97 L264.5,245.95 L265.0,245.81 L265.5,244.72 L266.0,244.25 L266.5,244.40 L267.0,245.23 L267.5,245.99 L268.0,246.03 L268.5,246.17 L269.0,246.27 L269.5,246.30 L270.0,246.35 L270.5,246.03 L271.0,245.16 L271.5,245.79 L272.0,246.02 L272.5,245.75 L273.0,245.29 L273.5,245.36 L274.0,245.79 L274.5,245.56 L275.0,245.80 L275.5,246.06 L276.0,246.15 L276.5,245.85 L277.0,245.49 L277.5,244.91 L278.0,245.25 L278.5,244.99 L279.0,245.81 L279.5,245.69 L280.0,244.55 L280.5,244.56 L281.0,245.77 L281.5,246.09 L282.0,245.23 L282.5,244.80 L283.0,244.97 L283.5,245.03 L284.0,245.41 L284.5,245.01 L285.0,245.87 L285.5,246.22 L286.0,245.86 L286.5,245.63 L287.0,245.85 L287.5,245.51 L288.0,245.35 L288.5,245.22 L289.0,245.17 L289.5,245.13 L290.0,245.92 L290.5,245.89 L291.0,245.51 L291.5,245.86 L292.0,246.20 L292.5,246.09 L293.0,245.75 L293.5,245.97 L294.0,246.09 L294.5,245.56 L295.0,245.13 L295.5,245.69 L296.0,246.07 L296.5,245.66 L297.0,245.55 L297.5,245.84 L298.0,245.71 L298.5,245.43 L299.0,245.92 L299.5,245.93 L300.0,245.82 L300.5,245.87 L301.0,245.75 L301.5,245.55 L302.0,244.88 L302.5,245.32 L303.0,245.41 L303.5,245.15 L304.0,244.92 L304.5,245.80 L305.0,245.82 L305.5,244.81 L306.0,245.14 L306.5,245.91 L307.0,246.14 L307.5,246.06 L308.0,245.64 L308.5,245.46 L309.0,245.52 L309.5,245.55 L310.0,245.49 L310.5,245.97 L311.0,246.10 L311.5,245.88 L312.0,245.56 L312.5,245.44 L313.0,245.62 L313.5,245.72 L314.0,246.16 L314.5,246.19 L315.0,245.76 L315.5,245.88 L316.0,246.30 L316.5,245.98 L317.0,245.18 L317.5,245.85 L318.0,245.74 L318.5,245.11 L319.0,245.47 L319.5,245.06 L320.0,245.04 L320.5,245.53 L321.0,245.36 L321.5,245.16 L322.0,244.48 L322.5,244.65 L323.0,245.87 L323.5,245.90 L324.0,244.81 L324.5,244.58 L325.0,245.50 L325.5,245.98 L326.0,245.53 L326.5,245.88 L327.0,246.27 L327.5,245.97 L328.0,245.11 L328.5,245.49 L329.0,245.08 L329.5,245.01 L330.0,244.95 L330.5,245.68 L331.0,245.84 L331.5,245.81 L332.0,245.89 L332.5,245.80 L333.0,245.97 L333.5,245.89 L334.0,246.17 L334.5,246.27 L335.0,245.85 L335.5,245.35 L336.0,246.07 L336.5,246.02 L337.0,245.25 L337.5,245.66 L338.0,245.80 L338.5,245.97 L339.0,245.92 L339.5,245.08 L340.0,244.66 L340.5,245.25 L341.0,245.99 L341.5,245.66 L342.0,245.36 L342.5,245.92 L343.0,246.21 L343.5,246.20 L344.0,246.02 L344.5,245.79 L345.0,245.99 L345.5,246.05 L346.0,245.60 L346.5,245.85 L347.0,246.25 L347.5,246.25 L348.0,246.08 L348.5,246.09 L349.0,245.59 L349.5,244.90 L350.0,244.87 L350.5,245.62 L351.0,245.09 L351.5,245.28 L352.0,245.99 L352.5,246.08 L353.0,246.18 L353.5,245.68 L354.0,244.91 L354.5,245.14 L355.0,245.66 L355.5,245.94 L356.0,245.38 L356.5,245.53 L357.0,246.22 L357.5,246.11 L358.0,245.33 L358.5,245.30 L359.0,245.87 L359.5,245.58 L360.0,245.03 L360.5,245.48 L361.0,245.60 L361.5,245.42 L362.0,244.62 L362.5,244.99 L363.0,245.80 L363.5,245.92 L364.0,245.29 L364.5,245.17 L365.0,244.82 L365.5,245.43 L366.0,245.79 L366.5,245.64 L367.0,244.93 L367.5,245.46 L368.0,245.87 L368.5,245.37 L369.0,245.41 L369.5,246.01 L370.0,245.74 L370.5,245.48 L371.0,245.67 L371.5,245.44 L372.0,245.21 L372.5,245.32 L373.0,245.25 L373.5,246.03 L374.0,245.80 L374.5,244.95 L375.0,245.45 L375.5,244.90 L376.0,244.70 L376.5,245.94 L377.0,246.35 L377.5,246.11 L378.0,245.33 L378.5,245.02 L379.0,245.01 L379.5,245.11 L380.0,245.45 L380.5,245.09 L381.0,245.98 L381.5,246.29 L382.0,245.86 L382.5,244.95 L383.0,245.44 L383.5,245.87 L384.0,245.01 L384.5,244.79 L385.0,245.91 L385.5,246.00 L386.0,245.37 L386.5,245.62 L387.0,245.10 L387.5,245.89 L388.0,245.81 L388.5,245.06 L389.0,245.48 L389.5,245.95 L390.0,246.15 L390.5,245.97 L391.0,245.08 L391.5,245.07 L392.0,245.62 L392.5,245.81 L393.0,245.58 L393.5,245.66 L394.0,245.41 L394.5,246.03 L395.0,245.94 L395.5,245.02 L396.0,245.63 L396.5,245.35 L397.0,245.20 L397.5,244.69 L398.0,245.29 L398.5,245.94 L399.0,245.66 L399.5,245.73 L400.0,245.07 L400.5,245.62 L401.0,245.67 L401.5,245.54 L402.0,246.06 L402.5,246.08 L403.0,245.80 L403.5,245.90 L404.0,245.60 L404.5,246.03 L405.0,245.70 L405.5,245.01 L406.0,245.66 L406.5,245.54 L407.0,245.58 L407.5,245.34 L408.0,245.69 L408.5,246.04 L409.0,245.75 L409.5,246.07 L410.0,246.11 L410.5,245.67 L411.0,245.42 L411.5,245.42 L412.0,246.07 L412.5,245.93 L413.0,245.06 L413.5,245.57 L414.0,245.41 L414.5,244.91 L415.0,245.94 L415.5,246.30 L416.0,245.98 L416.5,245.71 L417.0,245.19 L417.5,245.85 L418.0,246.21 L418.5,246.32 L419.0,246.16 L419.5,245.89 L420.0,246.01 L420.5,245.69 L421.0,245.16 L421.5,245.58 L422.0,245.73 L422.5,246.09 L423.0,246.08 L423.5,246.24 L424.0,246.26 L424.5,246.20 L425.0,245.82 L425.5,244.82 L426.0,245.16 L426.5,245.51 L427.0,245.93 L427.5,246.05 L428.0,246.21 L428.5,246.19 L429.0,245.72 L429.5,246.01 L430.0,246.00 L430.5,245.19 L431.0,245.11 L431.5,245.19 L432.0,245.61 L432.5,245.36 L433.0,245.64 L433.5,245.02 L434.0,245.27 L434.5,246.06 L435.0,246.18 L435.5,246.15 L436.0,245.64 L436.5,245.03 L437.0,245.00 L437.5,245.79 L438.0,245.89 L438.5,245.80 L439.0,245.51 L439.5,245.04 L440.0,245.38 L440.5,245.50 L441.0,245.92 L441.5,246.01 L442.0,245.49 L442.5,245.42 L443.0,246.08 L443.5,246.13 L444.0,245.66 L444.5,244.95 L445.0,245.52 L445.5,245.35 L446.0,244.88 L446.5,244.51 L447.0,245.02 L447.5,245.76 L448.0,246.13 L448.5,246.25 L449.0,245.82 L449.5,245.29 L450.0,245.68 L450.5,245.80 L451.0,245.73 L451.5,244.86 L452.0,245.37 L452.5,245.89 L453.0,246.01 L453.5,245.66 L454.0,244.52 L454.5,244.48 L455.0,245.32 L455.5,246.15 L456.0,246.06 L456.5,245.14 L457.0,245.12 L457.5,245.92 L458.0,245.72 L458.5,245.13 L459.0,245.12 L459.5,245.08 L460.0,244.98 L460.5,245.85 L461.0,245.80 L461.5,245.95 L462.0,246.23 L462.5,245.99 L463.0,245.29 L463.5,245.38 L464.0,245.56 L464.5,245.36 L465.0,244.92 L465.5,245.86 L466.0,245.88 L466.5,245.13 L467.0,245.48 L467.5,245.18 L468.0,245.51 L468.5,246.08 L469.0,246.16 L469.5,245.68 L470.0,245.82 L470.5,245.47 L471.0,246.01 L471.5,245.84 L472.0,244.70 L472.5,244.49 L473.0,245.05 L473.5,245.68 L474.0,246.00 L474.5,245.64 L475.0,245.29 L475.5,245.15 L476.0,244.77 L476.5,244.75 L477.0,245.86 L477.5,246.16 L478.0,246.01 L478.5,245.46 L479.0,245.66 L479.5,245.27 L480.0,245.09 L480.5,246.04 L481.0,246.05 L481.5,245.17 L482.0,245.39 L482.5,245.76 L483.0,244.79 L483.5,244.70 L484.0,245.84 L484.5,245.73 L485.0,245.34 L485.5,245.34 L486.0,246.16 L486.5,246.21 L487.0,245.61 L487.5,245.27 L488.0,244.70 L488.5,244.84 L489.0,245.58 L489.5,245.01 L490.0,245.12 L490.5,245.85 L491.0,245.98 L491.5,246.08 L492.0,245.78 L492.5,245.71 L493.0,245.58 L493.5,244.82 L494.0,245.38 L494.5,245.81 L495.0,245.76 L495.5,246.11 L496.0,245.59 L496.5,244.69 L497.0,244.99 L497.5,245.86 L498.0,246.31 L498.5,246.26 L499.0,245.72 L499.5,245.01 L500.0,245.87 L500.5,246.37 L501.0,246.29 L501.5,246.19 L502.0,246.28 L502.5,246.16 L503.0,245.66 L503.5,245.39 L504.0,246.08 L504.5,245.89 L505.0,244.67 L505.5,244.80 L506.0,245.82 L506.5,246.30 L507.0,246.42 L507.5,246.43 L508.0,246.27 L508.5,246.03 L509.0,245.99 L509.5,245.99 L510.0,245.36 L510.5,245.44 L511.0,245.45 L511.5,245.24 L511.5,246.9 Z" fill="#d42a44"/>
<line x1="236.5" y1="247.0" x2="511.5" y2="247.0" stroke="#d42a44" stroke-width="0.7" stroke-dasharray="1.2,0.8" opacity="0.8"/>
<rect x="231.2" y="33" width="2.5" height="94.5" fill="#cfcfcf"/>
<rect x="233.7" y="33" width="1.2" height="94.5" fill="#e6e6e6"/>
<rect x="231.8" y="158" width="1.2" height="96" fill="#b8b8b8"/>
<rect x="234.0" y="158" width="1.2" height="96" fill="#c4c4c4"/>
<text x="244.5" y="42.5" font-size="5.7" fill="#333" text-anchor="start" font-family='"Liberation Sans", sans-serif' stroke="#333" stroke-width="0.2" >CTCF</text>
<text x="244.5" y="54.8" font-size="5.7" fill="#333" text-anchor="start" font-family='"Liberation Sans", sans-serif' stroke="#333" stroke-width="0.2" >H3K4me3</text>
<text x="244.5" y="66.8" font-size="5.7" fill="#333" text-anchor="start" font-family='"Liberation Sans", sans-serif' stroke="#333" stroke-width="0.2" >H3K4me3</text>
<text x="244.5" y="76.6" font-size="5.7" fill="#333" text-anchor="start" font-family='"Liberation Sans", sans-serif' stroke="#333" stroke-width="0.2" >H3K27me3</text>
<text x="244.5" y="88.3" font-size="5.7" fill="#333" text-anchor="start" font-family='"Liberation Sans", sans-serif' stroke="#333" stroke-width="0.2" >H3K27me3</text>
<text x="244.5" y="101.1" font-size="5.7" fill="#333" text-anchor="start" font-family='"Liberation Sans", sans-serif' stroke="#333" stroke-width="0.2" >H3K79me2</text>
<text x="244.5" y="114.0" font-size="5.7" fill="#333" text-anchor="start" font-family='"Liberation Sans", sans-serif' stroke="#333" stroke-width="0.2" >H3K79me2</text>
<text x="235.6" y="36.7" font-size="2.4" fill="#777" text-anchor="start" font-family='"Liberation Sans", sans-serif' stroke="#777" stroke-width="0.2" >[0-60]</text>
<text x="235.6" y="48.6" font-size="2.4" fill="#777" text-anchor="start" font-family='"Liberation Sans", sans-serif' stroke="#777" stroke-width="0.2" >[0-60]</text>
<text x="235.6" y="60.6" font-size="2.4" fill="#777" text-anchor="start" font-family='"Liberation Sans", sans-serif' stroke="#777" stroke-width="0.2" >[0-60]</text>
<text x="235.6" y="72.6" font-size="2.4" fill="#777" text-anchor="start" font-family='"Liberation Sans", sans-serif' stroke="#777" stroke-width="0.2" >[0-60]</text>
<text x="235.6" y="86.2" font-size="2.4" fill="#777" text-anchor="start" font-family='"Liberation Sans", sans-serif' stroke="#777" stroke-width="0.2" >[0-60]</text>
<text x="235.6" y="98.7" font-size="2.4" fill="#777" text-anchor="start" font-family='"Liberation Sans", sans-serif' stroke="#777" stroke-width="0.2" >[0-60]</text>
<text x="235.6" y="110.7" font-size="2.4" fill="#777" text-anchor="start" font-family='"Liberation Sans", sans-serif' stroke="#777" stroke-width="0.2" >[0-60]</text>
<text x="245.3" y="167.0" font-size="6.0" fill="#333" text-anchor="start" font-family='"Liberation Serif", serif' stroke="#333" stroke-width="0.2" >CTCF</text>
<text x="245.3" y="179.8" font-size="6.0" fill="#333" text-anchor="start" font-family='"Liberation Serif", serif' stroke="#333" stroke-width="0.2" >H3K4me3</text>
<text x="245.3" y="191.8" font-size="6.0" fill="#333" text-anchor="start" font-family='"Liberation Serif", serif' stroke="#333" stroke-width="0.2" >H3K4me3</text>
<text x="245.3" y="200.4" font-size="6.0" fill="#333" text-anchor="start" font-family='"Liberation Serif", serif' stroke="#333" stroke-width="0.2" >H3K27me3</text>
<text x="245.3" y="214.6" font-size="6.0" fill="#333" text-anchor="start" font-family='"Liberation Serif", serif' stroke="#333" stroke-width="0.2" >H3K27me3</text>
<text x="245.3" y="230.8" font-size="6.0" fill="#333" text-anchor="start" font-family='"Liberation Serif", serif' stroke="#333" stroke-width="0.2" >H3K79me2</text>
<text x="245.3" y="243.7" font-size="6.0" fill="#333" text-anchor="start" font-family='"Liberation Serif", serif' stroke="#333" stroke-width="0.2" >H3K79me2</text>
<text x="235.9" y="160.8" font-size="2.4" fill="#777" text-anchor="start" font-family='"Liberation Sans", sans-serif' stroke="#777" stroke-width="0.2" >[0-60]</text>
<text x="235.9" y="173.1" font-size="2.4" fill="#777" text-anchor="start" font-family='"Liberation Sans", sans-serif' stroke="#777" stroke-width="0.2" >[0-60]</text>
<text x="235.9" y="185.6" font-size="2.4" fill="#777" text-anchor="start" font-family='"Liberation Sans", sans-serif' stroke="#777" stroke-width="0.2" >[0-60]</text>
<text x="235.9" y="199.7" font-size="2.4" fill="#777" text-anchor="start" font-family='"Liberation Sans", sans-serif' stroke="#777" stroke-width="0.2" >[0-60]</text>
<text x="235.9" y="213.3" font-size="2.4" fill="#777" text-anchor="start" font-family='"Liberation Sans", sans-serif' stroke="#777" stroke-width="0.2" >[0-60]</text>
<text x="235.9" y="225.3" font-size="2.4" fill="#777" text-anchor="start" font-family='"Liberation Sans", sans-serif' stroke="#777" stroke-width="0.2" >[0-60]</text>
<text x="235.9" y="237.3" font-size="2.4" fill="#777" text-anchor="start" font-family='"Liberation Sans", sans-serif' stroke="#777" stroke-width="0.2" >[0-60]</text>
<text x="227.6" y="58.6" font-size="7.0" fill="#333" text-anchor="end" font-family='"Liberation Sans", sans-serif' stroke="#333" stroke-width="0.2" >Ctrl</text>
<text x="222.4" y="72.0" font-size="7.0" fill="#333" text-anchor="end" font-family='"Liberation Sans", sans-serif' stroke="#333" stroke-width="0.2" font-style="italic" >CBS7/9</text>
<text x="222.6" y="68.4" font-size="3.6" fill="#444" text-anchor="start" font-family='"Liberation Sans", sans-serif' stroke="#444" stroke-width="0.2" >+/-</text>
<text x="227.6" y="84.8" font-size="7.0" fill="#333" text-anchor="end" font-family='"Liberation Sans", sans-serif' stroke="#333" stroke-width="0.2" >Ctrl</text>
<text x="222.4" y="95.1" font-size="7.0" fill="#333" text-anchor="end" font-family='"Liberation Sans", sans-serif' stroke="#333" stroke-width="0.2" font-style="italic" >CBS7/9</text>
<text x="222.6" y="91.5" font-size="3.6" fill="#444" text-anchor="start" font-family='"Liberation Sans", sans-serif' stroke="#444" stroke-width="0.2" >+/-</text>
<text x="227.6" y="106.1" font-size="7.0" fill="#333" text-anchor="end" font-family='"Liberation Sans", sans-serif' stroke="#333" stroke-width="0.2" >Ctrl</text>
<text x="222.4" y="117.8" font-size="7.0" fill="#333" text-anchor="end" font-family='"Liberation Sans", sans-serif' stroke="#333" stroke-width="0.2" font-style="italic" >CBS7/9</text>
<text x="222.6" y="114.2" font-size="3.6" fill="#444" text-anchor="start" font-family='"Liberation Sans", sans-serif' stroke="#444" stroke-width="0.2" >+/-</text>
<text x="227.6" y="127.1" font-size="7.0" fill="#44488e" text-anchor="end" font-family='"Liberation Sans", sans-serif' stroke="#44488e" stroke-width="0.2" font-style="italic" >HOXA</text>
<text x="227.6" y="180.1" font-size="7.0" fill="#333" text-anchor="end" font-family='"Liberation Sans", sans-serif' stroke="#333" stroke-width="0.2" >Ctrl</text>
<text x="222.4" y="193.9" font-size="7.0" fill="#333" text-anchor="end" font-family='"Liberation Sans", sans-serif' stroke="#333" stroke-width="0.2" font-style="italic" >CBS7/9</text>
<text x="222.6" y="190.3" font-size="3.6" fill="#444" text-anchor="start" font-family='"Liberation Sans", sans-serif' stroke="#444" stroke-width="0.2" >+/-</text>
<text x="227.6" y="207.3" font-size="7.0" fill="#333" text-anchor="end" font-family='"Liberation Sans", sans-serif' stroke="#333" stroke-width="0.2" >Ctrl</text>
<text x="222.4" y="220.2" font-size="7.0" fill="#333" text-anchor="end" font-family='"Liberation Sans", sans-serif' stroke="#333" stroke-width="0.2" font-style="italic" >CBS7/9</text>
<text x="222.6" y="216.6" font-size="3.6" fill="#444" text-anchor="start" font-family='"Liberation Sans", sans-serif' stroke="#444" stroke-width="0.2" >+/-</text>
<text x="227.6" y="231.2" font-size="7.0" fill="#333" text-anchor="end" font-family='"Liberation Sans", sans-serif' stroke="#333" stroke-width="0.2" >Ctrl</text>
<text x="222.4" y="243.0" font-size="7.0" fill="#333" text-anchor="end" font-family='"Liberation Sans", sans-serif' stroke="#333" stroke-width="0.2" font-style="italic" >CBS7/9</text>
<text x="222.6" y="239.4" font-size="3.6" fill="#444" text-anchor="start" font-family='"Liberation Sans", sans-serif' stroke="#444" stroke-width="0.2" >+/-</text>
<text x="227.6" y="254.7" font-size="7.0" fill="#44488e" text-anchor="end" font-family='"Liberation Sans", sans-serif' stroke="#44488e" stroke-width="0.2" font-style="italic" >HOXD</text>
<line x1="265.6" y1="123.8" x2="284.5" y2="123.8" stroke="#8e93d0" stroke-width="0.8"/>
<path d="M265.6,123.8 L267.8,121.6 L267.8,126.0 Z" fill="#2a2aa0"/>
<rect x="267.5" y="122.2" width="3.5" height="3.2" fill="#2a2aa0"/>
<rect x="279.5" y="122.2" width="4.5" height="3.2" fill="#2a2aa0"/>
<path d="M277.3,123.8 L279.5,121.6 L279.5,126.0 Z" fill="#2a2aa0"/>
<line x1="290" y1="123.8" x2="336" y2="123.8" stroke="#8e93d0" stroke-width="0.8"/>
<path d="M290,123.8 L292.2,121.6 L292.2,126.0 Z" fill="#2a2aa0"/>
<rect x="292" y="122.2" width="2.5" height="3.2" fill="#2a2aa0"/>
<rect x="296.6" y="121.8" width="2.0" height="4" fill="#2a2aa0"/>
<rect x="331.7" y="122.2" width="4.0" height="3.2" fill="#2a2aa0"/>
<line x1="354.6" y1="123.8" x2="385" y2="123.8" stroke="#8e93d0" stroke-width="0.8"/>
<path d="M354.6,123.8 L356.8,121.6 L356.8,126.0 Z" fill="#2a2aa0"/>
<rect x="356.5" y="122.2" width="1.5" height="3.2" fill="#2a2aa0"/>
<rect x="359" y="122.2" width="1" height="3.2" fill="#2a2aa0"/>
<rect x="362.3" y="122.2" width="1.3000000000000114" height="3.2" fill="#2a2aa0"/>
<rect x="376" y="122.2" width="8" height="3.2" fill="#2a2aa0"/>
<line x1="394.5" y1="123.8" x2="430" y2="123.8" stroke="#8e93d0" stroke-width="0.8"/>
<path d="M394.6,123.8 L396.8,121.6 L396.8,126.0 Z" fill="#2a2aa0"/>
<rect x="396.6" y="122.2" width="2.599999999999966" height="3.2" fill="#2a2aa0"/>
<rect x="407" y="122.0" width="4.5" height="3.6" fill="#2a2aa0"/>
<rect x="414.6" y="122.0" width="2.3999999999999773" height="3.6" fill="#2a2aa0"/>
<rect x="421" y="122.2" width="2" height="3.2" fill="#2a2aa0"/>
<line x1="429.8" y1="123.8" x2="445.2" y2="123.8" stroke="#8e93d0" stroke-width="0.8"/>
<path d="M429.8,123.8 L432.0,121.6 L432.0,126.0 Z" fill="#2a2aa0"/>
<rect x="432" y="122.2" width="2" height="3.2" fill="#2a2aa0"/>
<rect x="437" y="122.2" width="4" height="3.2" fill="#2a2aa0"/>
<rect x="443" y="122.2" width="2" height="3.2" fill="#2a2aa0"/>
<line x1="457.5" y1="123.8" x2="479" y2="123.8" stroke="#8e93d0" stroke-width="0.8"/>
<path d="M457.5,123.8 L459.7,121.6 L459.7,126.0 Z" fill="#2a2aa0"/>
<rect x="459.5" y="122.2" width="3.5" height="3.2" fill="#2a2aa0"/>
<rect x="466" y="122.2" width="4" height="3.2" fill="#2a2aa0"/>
<rect x="473" y="122.2" width="3" height="3.2" fill="#2a2aa0"/>
<rect x="279.2" y="249.2" width="1.1999999999999886" height="4" fill="#2a2aa0"/>
<rect x="281.5" y="249.2" width="1.1999999999999886" height="4" fill="#2a2aa0"/>
<rect x="284.5" y="249.2" width="1.3999999999999773" height="4" fill="#2a2aa0"/>
<line x1="279" y1="251.2" x2="286" y2="251.2" stroke="#8e93d0" stroke-width="0.8"/>
<path d="M305.4,251.2 L303.2,249.0 L303.2,253.39999999999998 Z" fill="#2a2aa0"/>
<rect x="301.2" y="249.2" width="1.400000000000034" height="4" fill="#2a2aa0"/>
<rect x="306.0" y="249.2" width="1.3000000000000114" height="4" fill="#2a2aa0"/>
<rect x="314.3" y="249.2" width="1.5" height="4" fill="#2a2aa0"/>
<path d="M330.7,251.2 L328.7,249.2 L328.7,253.2 Z" fill="#2a2aa0"/>
<rect x="327.5" y="249.2" width="1.1000000000000227" height="4" fill="#2a2aa0"/>
<path d="M348.2,251.2 L346.09999999999997,249.1 L346.09999999999997,253.29999999999998 Z" fill="#2a2aa0"/>
<rect x="344.2" y="249.2" width="1.1999999999999886" height="4" fill="#2a2aa0"/>
<path d="M353.5,251.2 L351.4,249.1 L351.4,253.29999999999998 Z" fill="#2a2aa0"/>
<rect x="354.2" y="249.2" width="1.1999999999999886" height="4" fill="#2a2aa0"/>
<path d="M371.2,251.2 L369.2,249.2 L369.2,253.2 Z" fill="#2a2aa0"/>
<rect x="367.0" y="249.2" width="1.1999999999999886" height="4" fill="#2a2aa0"/>
<rect x="404" y="249.2" width="1.3000000000000114" height="4" fill="#2a2aa0"/>
<rect x="406.8" y="249.2" width="1.3999999999999773" height="4" fill="#2a2aa0"/>
<line x1="428.5" y1="251.2" x2="472.3" y2="251.2" stroke="#8e93d0" stroke-width="0.8"/>
<rect x="436" y="249.2" width="1.5" height="4" fill="#2a2aa0"/>
<rect x="441.5" y="249.5" width="9.5" height="3.4" fill="#2a2aa0"/>
<path d="M445,251.2 L442.4,248.6 L442.4,253.79999999999998 Z" fill="#2a2aa0"/>
<text x="252.0" y="136.5" font-size="6.9" fill="#333" stroke="#333" stroke-width="0.2" font-family='"Liberation Sans", sans-serif' font-style="italic" textLength="23.4" lengthAdjust="spacingAndGlyphs">HOXA1</text>
<text x="277.0" y="136.5" font-size="6.9" fill="#333" stroke="#333" stroke-width="0.2" font-family='"Liberation Sans", sans-serif' font-style="italic" textLength="8.0" lengthAdjust="spacingAndGlyphs">A2</text>
<text x="292.4" y="136.5" font-size="6.9" fill="#333" stroke="#333" stroke-width="0.2" font-family='"Liberation Sans", sans-serif' font-style="italic" textLength="7.0" lengthAdjust="spacingAndGlyphs">A3</text>
<text x="326.1" y="136.5" font-size="6.9" fill="#333" stroke="#333" stroke-width="0.2" font-family='"Liberation Sans", sans-serif' font-style="italic" textLength="12.7" lengthAdjust="spacingAndGlyphs">A52</text>
<text x="359.9" y="136.5" font-size="6.9" fill="#333" stroke="#333" stroke-width="0.2" font-family='"Liberation Sans", sans-serif' font-style="italic" textLength="11.6" lengthAdjust="spacingAndGlyphs">A53</text>
<text x="378.4" y="136.5" font-size="6.9" fill="#333" stroke="#333" stroke-width="0.2" font-family='"Liberation Sans", sans-serif' font-style="italic" textLength="7.7" lengthAdjust="spacingAndGlyphs">A7</text>
<text x="394.1" y="136.5" font-size="6.9" fill="#333" stroke="#333" stroke-width="0.2" font-family='"Liberation Sans", sans-serif' font-style="italic" textLength="7.0" lengthAdjust="spacingAndGlyphs">A9</text>
<text x="407.3" y="136.5" font-size="6.9" fill="#333" stroke="#333" stroke-width="0.2" font-family='"Liberation Sans", sans-serif' font-style="italic" textLength="11.7" lengthAdjust="spacingAndGlyphs">A10</text>
<text x="430.3" y="136.5" font-size="6.9" fill="#333" stroke="#333" stroke-width="0.2" font-family='"Liberation Sans", sans-serif' font-style="italic" textLength="10.8" lengthAdjust="spacingAndGlyphs">A11</text>
<text x="451.8" y="136.5" font-size="6.9" fill="#333" stroke="#333" stroke-width="0.2" font-family='"Liberation Sans", sans-serif' font-style="italic" textLength="12.4" lengthAdjust="spacingAndGlyphs">A13</text>
<text x="466.5" y="136.5" font-size="6.9" fill="#333" stroke="#333" stroke-width="0.2" font-family='"Liberation Sans", sans-serif' font-style="italic" textLength="23.9" lengthAdjust="spacingAndGlyphs">HOTTIP</text>
<text x="272.9" y="264.2" font-size="6.9" fill="#333" stroke="#333" stroke-width="0.2" font-family='"Liberation Sans", sans-serif' font-style="italic" textLength="15.5" lengthAdjust="spacingAndGlyphs">EVX2</text>
<text x="292.9" y="264.2" font-size="6.9" fill="#333" stroke="#333" stroke-width="0.2" font-family='"Liberation Sans", sans-serif' font-style="italic" textLength="27.0" lengthAdjust="spacingAndGlyphs">HOXD13</text>
<text x="326.0" y="264.2" font-size="6.9" fill="#333" stroke="#333" stroke-width="0.2" font-family='"Liberation Sans", sans-serif' font-style="italic" textLength="10.8" lengthAdjust="spacingAndGlyphs">D11</text>
<text x="352.2" y="264.2" font-size="6.9" fill="#333" stroke="#333" stroke-width="0.2" font-family='"Liberation Sans", sans-serif' font-style="italic" textLength="7.8" lengthAdjust="spacingAndGlyphs">D9</text>
<text x="367.6" y="264.2" font-size="6.9" fill="#333" stroke="#333" stroke-width="0.2" font-family='"Liberation Sans", sans-serif' font-style="italic" textLength="8.5" lengthAdjust="spacingAndGlyphs">D8</text>
<text x="396.8" y="264.2" font-size="6.9" fill="#333" stroke="#333" stroke-width="0.2" font-family='"Liberation Sans", sans-serif' font-style="italic" textLength="24.0" lengthAdjust="spacingAndGlyphs">MIR10B</text>
<text x="425.3" y="264.2" font-size="6.9" fill="#333" stroke="#333" stroke-width="0.2" font-family='"Liberation Sans", sans-serif' font-style="italic" textLength="23.1" lengthAdjust="spacingAndGlyphs">HOXD3</text>
<text x="455.3" y="264.2" font-size="6.9" fill="#333" stroke="#333" stroke-width="0.2" font-family='"Liberation Sans", sans-serif' font-style="italic" textLength="21.6" lengthAdjust="spacingAndGlyphs">HAGLR</text>
<text x="380.3" y="26.6" font-size="7.0" fill="#c85a40" text-anchor="start" font-family='"Liberation Sans", sans-serif' stroke="#c85a40" stroke-width="0.05" font-style="italic" >CBS7/9</text>
<line x1="392" y1="40" x2="392" y2="128" stroke="#7aa070" stroke-width="0.6" stroke-dasharray="1.5,1.5"/>
<g stroke="#c8561e" stroke-width="1.1" fill="none"><circle cx="395.4" cy="31.4" r="1.3"/><circle cx="398.0" cy="32.8" r="1.2"/><path d="M395.3,32.8 L392.3,41 M396.9,33.6 L392.8,39.2"/></g>
<rect x="0" y="0" width="520" height="1.5" fill="#000"/>
<rect x="0" y="0" width="1.5" height="292" fill="#000"/>
<rect x="518.3" y="0" width="1.7" height="292" fill="#000"/>
<rect x="0" y="290.3" width="520" height="1.7" fill="#000"/>
</svg>
</body></html>
